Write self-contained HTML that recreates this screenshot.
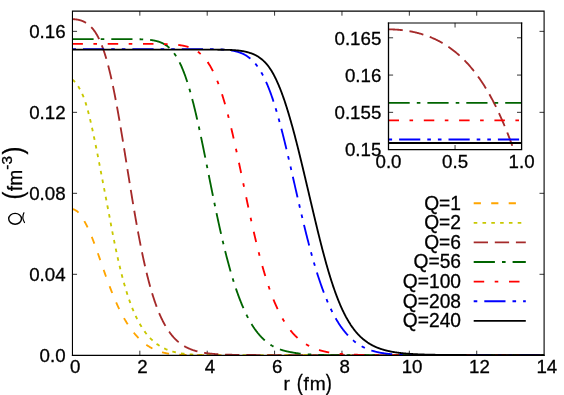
<!DOCTYPE html>
<html><head><meta charset="utf-8"><title>plot</title>
<style>html,body{margin:0;padding:0;background:#fff;}svg{display:block;}text{font-family:"Liberation Sans",sans-serif;fill:#000;stroke:#000;stroke-width:0.3px;}</style></head><body>
<div style="will-change:transform;width:564px;height:395px;overflow:hidden"><svg width="564" height="395" viewBox="0 0 564 395">
<rect width="564" height="395" fill="#fff"/>
<defs><clipPath id="cm"><rect x="72.45" y="11.1" width="471.65000000000003" height="344.2"/></clipPath>
<clipPath id="ci"><rect x="388.5" y="22.9" width="133.10000000000002" height="123.19999999999999"/></clipPath></defs>
<path d="M139.83,355.3 v-4.6 M139.83,11.1 v4.6 M207.21,355.3 v-4.6 M207.21,11.1 v4.6 M274.59,355.3 v-4.6 M274.59,11.1 v4.6 M341.96,355.3 v-4.6 M341.96,11.1 v4.6 M409.34,355.3 v-4.6 M409.34,11.1 v4.6 M476.72,355.3 v-4.6 M476.72,11.1 v4.6 M72.45,274.31 h4.6 M544.1,274.31 h-4.6 M72.45,193.32 h4.6 M544.1,193.32 h-4.6 M72.45,112.34 h4.6 M544.1,112.34 h-4.6 M72.45,31.35 h4.6 M544.1,31.35 h-4.6" stroke="#000" stroke-width="0.8" fill="none"/>
<g clip-path="url(#cm)" fill="none" stroke-linejoin="round">
<path d="M72.40,208.97 L72.74,209.06 L73.07,209.17 L73.41,209.29 L73.75,209.42 L74.09,209.56 L74.42,209.71 L74.76,209.87 L75.10,210.04 L75.44,210.22 L75.77,210.43 L76.11,210.65 L76.45,210.87 L76.79,211.11 L77.12,211.36 L77.46,211.62 L77.80,211.91 L78.14,212.23 L78.47,212.57 L78.81,212.95 L79.15,213.34 L79.49,213.74 L79.82,214.15 L80.16,214.58 L80.50,215.03 L80.84,215.48 L81.17,215.95 L81.51,216.43 L81.85,216.93 L82.18,217.44 L82.52,217.96 L82.86,218.51 L83.20,219.07 L83.53,219.65 L83.87,220.24 L84.21,220.84 L84.55,221.46 L84.88,222.08 L85.22,222.71 L85.56,223.35 L85.90,223.99 L86.23,224.63 L86.57,225.29 L86.91,225.96 L87.25,226.65 L87.58,227.34 L87.92,228.05 L88.26,228.77 L88.60,229.50 L88.93,230.24 L89.27,231.00 L89.61,231.77 L89.94,232.54 L90.28,233.33 L90.62,234.13 L90.96,234.94 L91.29,235.76 L91.63,236.59 L91.97,237.43 L92.31,238.28 L92.64,239.14 L92.98,240.00 L93.32,240.88 L93.66,241.76 L93.99,242.65 L94.33,243.55 L94.67,244.45 L95.01,245.36 L95.34,246.27 L95.68,247.20 L96.02,248.12 L96.36,249.06 L96.69,250.00 L97.03,250.94 L97.37,251.89 L97.71,252.84 L98.04,253.79 L98.38,254.75 L98.72,255.71 L99.05,256.67 L99.39,257.64 L99.73,258.61 L100.07,259.58 L100.40,260.55 L100.74,261.52 L101.08,262.49 L101.42,263.46 L101.75,264.44 L102.09,265.41 L102.43,266.38 L102.77,267.35 L103.10,268.31 L103.44,269.28 L103.78,270.24 L104.12,271.20 L104.45,272.16 L104.79,273.12 L105.13,274.07 L105.47,275.02 L105.80,275.96 L106.14,276.91 L106.48,277.84 L106.81,278.77 L107.15,279.70 L107.49,280.63 L107.83,281.54 L108.16,282.46 L108.50,283.36 L108.84,284.27 L109.18,285.16 L109.51,286.05 L109.85,286.94 L110.19,287.82 L110.53,288.70 L110.86,289.58 L111.20,290.44 L111.54,291.31 L111.88,292.16 L112.21,293.01 L112.55,293.85 L112.89,294.68 L113.23,295.51 L113.56,296.33 L113.90,297.14 L114.24,297.95 L114.58,298.75 L114.91,299.54 L115.25,300.33 L115.59,301.10 L115.92,301.87 L116.26,302.64 L116.60,303.39 L116.94,304.14 L117.27,304.88 L117.61,305.61 L117.95,306.34 L118.29,307.06 L118.62,307.77 L118.96,308.47 L119.30,309.17 L119.64,309.86 L119.97,310.54 L120.31,311.21 L120.65,311.88 L120.99,312.54 L121.32,313.19 L121.66,313.84 L122.00,314.48 L122.34,315.11 L122.67,315.74 L123.01,316.35 L123.35,316.96 L123.68,317.57 L124.02,318.16 L124.36,318.75 L124.70,319.34 L125.03,319.91 L125.37,320.48 L125.71,321.05 L126.05,321.60 L126.38,322.15 L126.72,322.70 L127.06,323.23 L127.40,323.76 L127.73,324.29 L128.07,324.81 L128.41,325.32 L128.75,325.82 L129.08,326.32 L129.42,326.82 L129.76,327.30 L130.10,327.78 L130.43,328.26 L130.77,328.73 L131.11,329.19 L131.44,329.65 L131.78,330.10 L132.12,330.55 L132.46,330.99 L132.79,331.42 L133.13,331.85 L133.47,332.28 L133.81,332.69 L134.14,333.11 L134.48,333.51 L134.82,333.92 L135.16,334.31 L135.49,334.71 L135.83,335.09 L136.17,335.47 L136.51,335.85 L136.84,336.22 L137.18,336.59 L137.52,336.95 L137.86,337.30 L138.19,337.65 L138.53,338.00 L138.87,338.34 L139.21,338.68 L139.54,339.01 L139.88,339.34 L140.22,339.66 L140.55,339.98 L140.89,340.29 L141.23,340.60 L141.57,340.91 L141.90,341.21 L142.24,341.50 L142.58,341.79 L142.92,342.08 L143.25,342.36 L143.59,342.64 L143.93,342.91 L144.27,343.18 L144.60,343.45 L144.94,343.71 L145.28,343.96 L145.62,344.22 L145.95,344.47 L146.29,344.71 L146.63,344.95 L146.97,345.19 L147.30,345.42 L147.64,345.65 L147.98,345.88 L148.31,346.10 L148.65,346.31 L148.99,346.53 L149.33,346.74 L149.66,346.94 L150.00,347.15 L150.34,347.35 L150.68,347.54 L151.01,347.73 L151.35,347.92 L151.69,348.11 L152.03,348.29 L152.36,348.47 L152.70,348.64 L153.04,348.81 L153.38,348.98 L153.71,349.14 L154.05,349.30 L154.39,349.46 L154.73,349.62 L155.06,349.77 L155.40,349.92 L155.74,350.06 L156.08,350.21 L156.41,350.35 L156.75,350.48 L157.09,350.62 L157.42,350.75 L157.76,350.87 L158.10,351.00 L158.44,351.12 L158.77,351.24 L159.11,351.36 L159.45,351.47 L159.79,351.58 L160.12,351.69 L160.46,351.80 L160.80,351.90 L161.14,352.00 L161.47,352.10 L161.81,352.20 L162.15,352.29 L162.49,352.38 L162.82,352.47 L163.16,352.56 L163.50,352.64 L163.84,352.72 L164.17,352.80 L164.51,352.88 L164.85,352.96 L165.19,353.03 L165.52,353.10 L165.86,353.17 L166.20,353.24 L166.53,353.31 L166.87,353.37 L167.21,353.43 L167.55,353.50 L167.88,353.55 L168.22,353.61 L168.56,353.67 L168.90,353.72 L169.23,353.77 L169.57,353.82 L169.91,353.87 L170.25,353.92 L170.58,353.96 L170.92,354.01 L171.26,354.05 L171.60,354.09 L171.93,354.13 L172.27,354.17 L172.61,354.21 L172.95,354.25 L173.28,354.28 L173.62,354.32 L173.96,354.35 L174.29,354.38 L174.63,354.41 L174.97,354.44 L175.31,354.47 L175.64,354.50 L175.98,354.52 L176.32,354.55 L176.66,354.57 L176.99,354.60 L177.33,354.62 L177.67,354.64 L178.01,354.66 L178.34,354.68 L178.68,354.70 L179.02,354.72 L179.36,354.74 L179.69,354.75 L180.03,354.77 L180.37,354.79 L180.71,354.80 L181.04,354.82 L181.38,354.83 L181.72,354.84 L182.06,354.86 L182.39,354.87 L182.73,354.88 L183.07,354.89 L183.40,354.90 L183.74,354.91 L184.08,354.92 L184.42,354.93 L184.75,354.94 L185.09,354.95 L185.43,354.96 L185.77,354.96 L186.10,354.97 L186.44,354.98 L186.78,354.98 L187.12,354.99 L187.45,355.00 L187.79,355.00 L188.13,355.01 L188.47,355.01 L188.80,355.02 L189.14,355.02 L189.48,355.03 L189.82,355.03 L190.15,355.04 L190.49,355.04 L190.83,355.04 L191.16,355.05 L191.50,355.05 L191.84,355.05 L192.18,355.06 L192.51,355.06 L192.85,355.06 L193.19,355.06 L193.53,355.07 L193.86,355.07 L194.20,355.07 L194.54,355.07 L194.88,355.07 L195.21,355.08 L195.55,355.08 L195.89,355.08 L196.23,355.08 L196.56,355.08 L196.90,355.08 L197.24,355.08 L197.58,355.08 L197.91,355.09 L198.25,355.09 L198.59,355.09 L198.93,355.09 L199.26,355.09 L199.60,355.09 L199.94,355.09 L200.27,355.09 L200.61,355.09 L200.95,355.09 L201.29,355.09 L201.62,355.09 L201.96,355.09 L202.30,355.09 L202.64,355.09 L202.97,355.10 L203.31,355.10 L203.65,355.10 L203.99,355.10 L204.32,355.10 L204.66,355.10 L205.00,355.10 L205.34,355.10 L205.67,355.10 L206.01,355.10 L206.35,355.10 L206.69,355.10 L207.02,355.10 L207.36,355.10 L207.70,355.10 L208.03,355.10 L208.37,355.10 L208.71,355.10 L209.05,355.10 L209.38,355.10 L209.72,355.10 L210.06,355.10 L210.40,355.10 L210.73,355.10 L211.07,355.10 L211.41,355.10 L211.75,355.10 L212.08,355.10 L212.42,355.10 L212.76,355.10 L213.10,355.10 L213.43,355.10 L213.77,355.10 L214.11,355.10 L214.45,355.10 L214.78,355.10 L215.12,355.10 L215.46,355.10 L215.80,355.10 L216.13,355.10 L216.47,355.10 L216.81,355.10 L217.14,355.10 L217.48,355.10 L217.82,355.10 L218.16,355.10 L218.49,355.10 L218.83,355.10 L219.17,355.10 L219.51,355.10 L219.84,355.10 L220.18,355.10 L220.52,355.10 L220.86,355.10 L221.19,355.10 L221.53,355.10 L221.87,355.10 L222.21,355.10 L222.54,355.10 L222.88,355.10 L223.22,355.10 L223.56,355.10 L223.89,355.10 L224.23,355.10 L224.57,355.10 L224.90,355.10 L225.24,355.10 L225.58,355.10 L225.92,355.10 L226.25,355.10 L226.59,355.10 L226.93,355.10 L227.27,355.10 L227.60,355.10 L227.94,355.10 L228.28,355.10 L228.62,355.10 L228.95,355.10 L229.29,355.10 L229.63,355.10 L229.97,355.10 L230.30,355.10 L230.64,355.10 L230.98,355.10 L231.32,355.10 L231.65,355.10 L231.99,355.10 L232.33,355.10 L232.67,355.10 L233.00,355.10 L233.34,355.10 L233.68,355.10 L234.01,355.10 L234.35,355.10 L234.69,355.10 L235.03,355.10 L235.36,355.10 L235.70,355.10 L236.04,355.10 L236.38,355.10 L236.71,355.10 L237.05,355.10 L237.39,355.10 L237.73,355.10 L238.06,355.10 L238.40,355.10 L238.74,355.10 L239.08,355.10 L239.41,355.10 L239.75,355.10 L240.09,355.10 L240.43,355.10 L240.76,355.10 L241.10,355.10 L241.44,355.10 L241.77,355.10 L242.11,355.10 L242.45,355.10 L242.79,355.10 L243.12,355.10 L243.46,355.10 L243.80,355.10 L244.14,355.10 L244.47,355.10 L244.81,355.10 L245.15,355.10 L245.49,355.10 L245.82,355.10 L246.16,355.10 L246.50,355.10 L246.84,355.10 L247.17,355.10 L247.51,355.10 L247.85,355.10 L248.19,355.10 L248.52,355.10 L248.86,355.10 L249.20,355.10 L249.54,355.10 L249.87,355.10 L250.21,355.10 L250.55,355.10 L250.88,355.10 L251.22,355.10 L251.56,355.10 L251.90,355.10 L252.23,355.10 L252.57,355.10 L252.91,355.10 L253.25,355.10 L253.58,355.10 L253.92,355.10 L254.26,355.10 L254.60,355.10 L254.93,355.10 L255.27,355.10 L255.61,355.10 L255.95,355.10 L256.28,355.10 L256.62,355.10 L256.96,355.10 L257.30,355.10 L257.63,355.10 L257.97,355.10 L258.31,355.10 L258.64,355.10 L258.98,355.10 L259.32,355.10 L259.66,355.10 L259.99,355.10 L260.33,355.10 L260.67,355.10 L261.01,355.10 L261.34,355.10 L261.68,355.10 L262.02,355.10 L262.36,355.10 L262.69,355.10 L263.03,355.10 L263.37,355.10 L263.71,355.10 L264.04,355.10 L264.38,355.10 L264.72,355.10 L265.06,355.10 L265.39,355.10 L265.73,355.10 L266.07,355.10 L266.41,355.10 L266.74,355.10 L267.08,355.10 L267.42,355.10 L267.75,355.10 L268.09,355.10 L268.43,355.10 L268.77,355.10 L269.10,355.10 L269.44,355.10 L269.78,355.10 L270.12,355.10 L270.45,355.10 L270.79,355.10 L271.13,355.10 L271.47,355.10 L271.80,355.10 L272.14,355.10 L272.48,355.10 L272.82,355.10 L273.15,355.10 L273.49,355.10 L273.83,355.10 L274.17,355.10 L274.50,355.10 L274.84,355.10 L275.18,355.10 L275.51,355.10 L275.85,355.10 L276.19,355.10 L276.53,355.10 L276.86,355.10 L277.20,355.10 L277.54,355.10 L277.88,355.10 L278.21,355.10 L278.55,355.10 L278.89,355.10 L279.23,355.10 L279.56,355.10 L279.90,355.10 L280.24,355.10 L280.58,355.10 L280.91,355.10 L281.25,355.10 L281.59,355.10 L281.93,355.10 L282.26,355.10 L282.60,355.10 L282.94,355.10 L283.27,355.10 L283.61,355.10 L283.95,355.10 L284.29,355.10 L284.62,355.10 L284.96,355.10 L285.30,355.10 L285.64,355.10 L285.97,355.10 L286.31,355.10 L286.65,355.10 L286.99,355.10 L287.32,355.10 L287.66,355.10 L288.00,355.10 L288.34,355.10 L288.67,355.10 L289.01,355.10 L289.35,355.10 L289.69,355.10 L290.02,355.10 L290.36,355.10 L290.70,355.10 L291.04,355.10 L291.37,355.10 L291.71,355.10 L292.05,355.10 L292.38,355.10 L292.72,355.10 L293.06,355.10 L293.40,355.10 L293.73,355.10 L294.07,355.10 L294.41,355.10 L294.75,355.10 L295.08,355.10 L295.42,355.10 L295.76,355.10 L296.10,355.10 L296.43,355.10 L296.77,355.10 L297.11,355.10 L297.45,355.10 L297.78,355.10 L298.12,355.10 L298.46,355.10 L298.80,355.10 L299.13,355.10 L299.47,355.10 L299.81,355.10 L300.14,355.10 L300.48,355.10 L300.82,355.10 L301.16,355.10 L301.49,355.10 L301.83,355.10 L302.17,355.10 L302.51,355.10 L302.84,355.10 L303.18,355.10 L303.52,355.10 L303.86,355.10 L304.19,355.10 L304.53,355.10 L304.87,355.10 L305.21,355.10 L305.54,355.10 L305.88,355.10 L306.22,355.10 L306.56,355.10 L306.89,355.10 L307.23,355.10 L307.57,355.10 L307.91,355.10 L308.24,355.10 L308.58,355.10 L308.92,355.10 L309.25,355.10 L309.59,355.10 L309.93,355.10 L310.27,355.10 L310.60,355.10 L310.94,355.10 L311.28,355.10 L311.62,355.10 L311.95,355.10 L312.29,355.10 L312.63,355.10 L312.97,355.10 L313.30,355.10 L313.64,355.10 L313.98,355.10 L314.32,355.10 L314.65,355.10 L314.99,355.10 L315.33,355.10 L315.67,355.10 L316.00,355.10 L316.34,355.10 L316.68,355.10 L317.01,355.10 L317.35,355.10 L317.69,355.10 L318.03,355.10 L318.36,355.10 L318.70,355.10 L319.04,355.10 L319.38,355.10 L319.71,355.10 L320.05,355.10 L320.39,355.10 L320.73,355.10 L321.06,355.10 L321.40,355.10 L321.74,355.10 L322.08,355.10 L322.41,355.10 L322.75,355.10 L323.09,355.10 L323.43,355.10 L323.76,355.10 L324.10,355.10 L324.44,355.10 L324.78,355.10 L325.11,355.10 L325.45,355.10 L325.79,355.10 L326.12,355.10 L326.46,355.10 L326.80,355.10 L327.14,355.10 L327.47,355.10 L327.81,355.10 L328.15,355.10 L328.49,355.10 L328.82,355.10 L329.16,355.10 L329.50,355.10 L329.84,355.10 L330.17,355.10 L330.51,355.10 L330.85,355.10 L331.19,355.10 L331.52,355.10 L331.86,355.10 L332.20,355.10 L332.54,355.10 L332.87,355.10 L333.21,355.10 L333.55,355.10 L333.88,355.10 L334.22,355.10 L334.56,355.10 L334.90,355.10 L335.23,355.10 L335.57,355.10 L335.91,355.10 L336.25,355.10 L336.58,355.10 L336.92,355.10 L337.26,355.10 L337.60,355.10 L337.93,355.10 L338.27,355.10 L338.61,355.10 L338.95,355.10 L339.28,355.10 L339.62,355.10 L339.96,355.10 L340.30,355.10 L340.63,355.10 L340.97,355.10 L341.31,355.10 L341.65,355.10 L341.98,355.10 L342.32,355.10 L342.66,355.10 L342.99,355.10 L343.33,355.10 L343.67,355.10 L344.01,355.10 L344.34,355.10 L344.68,355.10 L345.02,355.10 L345.36,355.10 L345.69,355.10 L346.03,355.10 L346.37,355.10 L346.71,355.10 L347.04,355.10 L347.38,355.10 L347.72,355.10 L348.06,355.10 L348.39,355.10 L348.73,355.10 L349.07,355.10 L349.41,355.10 L349.74,355.10 L350.08,355.10 L350.42,355.10 L350.75,355.10 L351.09,355.10 L351.43,355.10 L351.77,355.10 L352.10,355.10 L352.44,355.10 L352.78,355.10 L353.12,355.10 L353.45,355.10 L353.79,355.10 L354.13,355.10 L354.47,355.10 L354.80,355.10 L355.14,355.10 L355.48,355.10 L355.82,355.10 L356.15,355.10 L356.49,355.10 L356.83,355.10 L357.17,355.10 L357.50,355.10 L357.84,355.10 L358.18,355.10 L358.52,355.10 L358.85,355.10 L359.19,355.10 L359.53,355.10 L359.86,355.10 L360.20,355.10 L360.54,355.10 L360.88,355.10 L361.21,355.10 L361.55,355.10 L361.89,355.10 L362.23,355.10 L362.56,355.10 L362.90,355.10 L363.24,355.10 L363.58,355.10 L363.91,355.10 L364.25,355.10 L364.59,355.10 L364.93,355.10 L365.26,355.10 L365.60,355.10 L365.94,355.10 L366.28,355.10 L366.61,355.10 L366.95,355.10 L367.29,355.10 L367.62,355.10 L367.96,355.10 L368.30,355.10 L368.64,355.10 L368.97,355.10 L369.31,355.10 L369.65,355.10 L369.99,355.10 L370.32,355.10 L370.66,355.10 L371.00,355.10 L371.34,355.10 L371.67,355.10 L372.01,355.10 L372.35,355.10 L372.69,355.10 L373.02,355.10 L373.36,355.10 L373.70,355.10 L374.04,355.10 L374.37,355.10 L374.71,355.10 L375.05,355.10 L375.39,355.10 L375.72,355.10 L376.06,355.10 L376.40,355.10 L376.73,355.10 L377.07,355.10 L377.41,355.10 L377.75,355.10 L378.08,355.10 L378.42,355.10 L378.76,355.10 L379.10,355.10 L379.43,355.10 L379.77,355.10 L380.11,355.10 L380.45,355.10 L380.78,355.10 L381.12,355.10 L381.46,355.10 L381.80,355.10 L382.13,355.10 L382.47,355.10 L382.81,355.10 L383.15,355.10 L383.48,355.10 L383.82,355.10 L384.16,355.10 L384.50,355.10 L384.83,355.10 L385.17,355.10 L385.51,355.10 L385.84,355.10 L386.18,355.10 L386.52,355.10 L386.86,355.10 L387.19,355.10 L387.53,355.10 L387.87,355.10 L388.21,355.10 L388.54,355.10 L388.88,355.10 L389.22,355.10 L389.56,355.10 L389.89,355.10 L390.23,355.10 L390.57,355.10 L390.91,355.10 L391.24,355.10 L391.58,355.10 L391.92,355.10 L392.26,355.10 L392.59,355.10 L392.93,355.10 L393.27,355.10 L393.60,355.10 L393.94,355.10 L394.28,355.10 L394.62,355.10 L394.95,355.10 L395.29,355.10 L395.63,355.10 L395.97,355.10 L396.30,355.10 L396.64,355.10 L396.98,355.10 L397.32,355.10 L397.65,355.10 L397.99,355.10 L398.33,355.10 L398.67,355.10 L399.00,355.10 L399.34,355.10 L399.68,355.10 L400.02,355.10 L400.35,355.10 L400.69,355.10 L401.03,355.10 L401.37,355.10 L401.70,355.10 L402.04,355.10 L402.38,355.10 L402.71,355.10 L403.05,355.10 L403.39,355.10 L403.73,355.10 L404.06,355.10 L404.40,355.10 L404.74,355.10 L405.08,355.10 L405.41,355.10 L405.75,355.10 L406.09,355.10 L406.43,355.10 L406.76,355.10 L407.10,355.10 L407.44,355.10 L407.78,355.10 L408.11,355.10 L408.45,355.10 L408.79,355.10 L409.13,355.10 L409.46,355.10 L409.80,355.10 L410.14,355.10 L410.47,355.10 L410.81,355.10 L411.15,355.10 L411.49,355.10 L411.82,355.10 L412.16,355.10 L412.50,355.10 L412.84,355.10 L413.17,355.10 L413.51,355.10 L413.85,355.10 L414.19,355.10 L414.52,355.10 L414.86,355.10 L415.20,355.10 L415.54,355.10 L415.87,355.10 L416.21,355.10 L416.55,355.10 L416.89,355.10 L417.22,355.10 L417.56,355.10 L417.90,355.10 L418.24,355.10 L418.57,355.10 L418.91,355.10 L419.25,355.10 L419.58,355.10 L419.92,355.10 L420.26,355.10 L420.60,355.10 L420.93,355.10 L421.27,355.10 L421.61,355.10 L421.95,355.10 L422.28,355.10 L422.62,355.10 L422.96,355.10 L423.30,355.10 L423.63,355.10 L423.97,355.10 L424.31,355.10 L424.65,355.10 L424.98,355.10 L425.32,355.10 L425.66,355.10 L426.00,355.10 L426.33,355.10 L426.67,355.10 L427.01,355.10 L427.34,355.10 L427.68,355.10 L428.02,355.10 L428.36,355.10 L428.69,355.10 L429.03,355.10 L429.37,355.10 L429.71,355.10 L430.04,355.10 L430.38,355.10 L430.72,355.10 L431.06,355.10 L431.39,355.10 L431.73,355.10 L432.07,355.10 L432.41,355.10 L432.74,355.10 L433.08,355.10 L433.42,355.10 L433.76,355.10 L434.09,355.10 L434.43,355.10 L434.77,355.10 L435.11,355.10 L435.44,355.10 L435.78,355.10 L436.12,355.10 L436.45,355.10 L436.79,355.10 L437.13,355.10 L437.47,355.10 L437.80,355.10 L438.14,355.10 L438.48,355.10 L438.82,355.10 L439.15,355.10 L439.49,355.10 L439.83,355.10 L440.17,355.10 L440.50,355.10 L440.84,355.10 L441.18,355.10 L441.52,355.10 L441.85,355.10 L442.19,355.10 L442.53,355.10 L442.87,355.10 L443.20,355.10 L443.54,355.10 L443.88,355.10 L444.21,355.10 L444.55,355.10 L444.89,355.10 L445.23,355.10 L445.56,355.10 L445.90,355.10 L446.24,355.10 L446.58,355.10 L446.91,355.10 L447.25,355.10 L447.59,355.10 L447.93,355.10 L448.26,355.10 L448.60,355.10 L448.94,355.10 L449.28,355.10 L449.61,355.10 L449.95,355.10 L450.29,355.10 L450.63,355.10 L450.96,355.10 L451.30,355.10 L451.64,355.10 L451.98,355.10 L452.31,355.10 L452.65,355.10 L452.99,355.10 L453.32,355.10 L453.66,355.10 L454.00,355.10 L454.34,355.10 L454.67,355.10 L455.01,355.10 L455.35,355.10 L455.69,355.10 L456.02,355.10 L456.36,355.10 L456.70,355.10 L457.04,355.10 L457.37,355.10 L457.71,355.10 L458.05,355.10 L458.39,355.10 L458.72,355.10 L459.06,355.10 L459.40,355.10 L459.74,355.10 L460.07,355.10 L460.41,355.10 L460.75,355.10 L461.08,355.10 L461.42,355.10 L461.76,355.10 L462.10,355.10 L462.43,355.10 L462.77,355.10 L463.11,355.10 L463.45,355.10 L463.78,355.10 L464.12,355.10 L464.46,355.10 L464.80,355.10 L465.13,355.10 L465.47,355.10 L465.81,355.10 L466.15,355.10 L466.48,355.10 L466.82,355.10 L467.16,355.10 L467.50,355.10 L467.83,355.10 L468.17,355.10 L468.51,355.10 L468.85,355.10 L469.18,355.10 L469.52,355.10 L469.86,355.10 L470.19,355.10 L470.53,355.10 L470.87,355.10 L471.21,355.10 L471.54,355.10 L471.88,355.10 L472.22,355.10 L472.56,355.10 L472.89,355.10 L473.23,355.10 L473.57,355.10 L473.91,355.10 L474.24,355.10 L474.58,355.10 L474.92,355.10 L475.26,355.10 L475.59,355.10 L475.93,355.10 L476.27,355.10 L476.61,355.10 L476.94,355.10 L477.28,355.10 L477.62,355.10 L477.95,355.10 L478.29,355.10 L478.63,355.10 L478.97,355.10 L479.30,355.10 L479.64,355.10 L479.98,355.10 L480.32,355.10 L480.65,355.10 L480.99,355.10 L481.33,355.10 L481.67,355.10 L482.00,355.10 L482.34,355.10 L482.68,355.10 L483.02,355.10 L483.35,355.10 L483.69,355.10 L484.03,355.10 L484.37,355.10 L484.70,355.10 L485.04,355.10 L485.38,355.10 L485.72,355.10 L486.05,355.10 L486.39,355.10 L486.73,355.10 L487.06,355.10 L487.40,355.10 L487.74,355.10 L488.08,355.10 L488.41,355.10 L488.75,355.10 L489.09,355.10 L489.43,355.10 L489.76,355.10 L490.10,355.10 L490.44,355.10 L490.78,355.10 L491.11,355.10 L491.45,355.10 L491.79,355.10 L492.13,355.10 L492.46,355.10 L492.80,355.10 L493.14,355.10 L493.48,355.10 L493.81,355.10 L494.15,355.10 L494.49,355.10 L494.82,355.10 L495.16,355.10 L495.50,355.10 L495.84,355.10 L496.17,355.10 L496.51,355.10 L496.85,355.10 L497.19,355.10 L497.52,355.10 L497.86,355.10 L498.20,355.10 L498.54,355.10 L498.87,355.10 L499.21,355.10 L499.55,355.10 L499.89,355.10 L500.22,355.10 L500.56,355.10 L500.90,355.10 L501.24,355.10 L501.57,355.10 L501.91,355.10 L502.25,355.10 L502.59,355.10 L502.92,355.10 L503.26,355.10 L503.60,355.10 L503.93,355.10 L504.27,355.10 L504.61,355.10 L504.95,355.10 L505.28,355.10 L505.62,355.10 L505.96,355.10 L506.30,355.10 L506.63,355.10 L506.97,355.10 L507.31,355.10 L507.65,355.10 L507.98,355.10 L508.32,355.10 L508.66,355.10 L509.00,355.10 L509.33,355.10 L509.67,355.10 L510.01,355.10 L510.35,355.10 L510.68,355.10 L511.02,355.10 L511.36,355.10 L511.69,355.10 L512.03,355.10 L512.37,355.10 L512.71,355.10 L513.04,355.10 L513.38,355.10 L513.72,355.10 L514.06,355.10 L514.39,355.10 L514.73,355.10 L515.07,355.10 L515.41,355.10 L515.74,355.10 L516.08,355.10 L516.42,355.10 L516.76,355.10 L517.09,355.10 L517.43,355.10 L517.77,355.10 L518.11,355.10 L518.44,355.10 L518.78,355.10 L519.12,355.10 L519.46,355.10 L519.79,355.10 L520.13,355.10 L520.47,355.10 L520.80,355.10 L521.14,355.10 L521.48,355.10 L521.82,355.10 L522.15,355.10 L522.49,355.10 L522.83,355.10 L523.17,355.10 L523.50,355.10 L523.84,355.10 L524.18,355.10 L524.52,355.10 L524.85,355.10 L525.19,355.10 L525.53,355.10 L525.87,355.10 L526.20,355.10 L526.54,355.10 L526.88,355.10 L527.22,355.10 L527.55,355.10 L527.89,355.10 L528.23,355.10 L528.56,355.10 L528.90,355.10 L529.24,355.10 L529.58,355.10 L529.91,355.10 L530.25,355.10 L530.59,355.10 L530.93,355.10 L531.26,355.10 L531.60,355.10 L531.94,355.10 L532.28,355.10 L532.61,355.10 L532.95,355.10 L533.29,355.10 L533.63,355.10 L533.96,355.10 L534.30,355.10 L534.64,355.10 L534.98,355.10 L535.31,355.10 L535.65,355.10 L535.99,355.10 L536.33,355.10 L536.66,355.10 L537.00,355.10 L537.34,355.10 L537.67,355.10 L538.01,355.10 L538.35,355.10 L538.69,355.10 L539.02,355.10 L539.36,355.10 L539.70,355.10 L540.04,355.10 L540.37,355.10 L540.71,355.10 L541.05,355.10 L541.39,355.10 L541.72,355.10 L542.06,355.10 L542.40,355.10 L542.74,355.10 L543.07,355.10 L543.41,355.10 L543.75,355.10 L544.09,355.10 L544.42,355.10 L544.76,355.10" stroke="#ffa500" stroke-width="1.85" stroke-dasharray="7.2 10.3" stroke-dashoffset="0"/>
<path d="M72.40,79.54 L72.74,79.83 L73.07,80.13 L73.41,80.45 L73.75,80.78 L74.09,81.12 L74.42,81.47 L74.76,81.83 L75.10,82.21 L75.44,82.60 L75.77,83.01 L76.11,83.43 L76.45,83.86 L76.79,84.31 L77.12,84.78 L77.46,85.26 L77.80,85.76 L78.14,86.27 L78.47,86.80 L78.81,87.35 L79.15,87.91 L79.49,88.49 L79.82,89.09 L80.16,89.71 L80.50,90.35 L80.84,91.01 L81.17,91.68 L81.51,92.38 L81.85,93.10 L82.18,93.83 L82.52,94.59 L82.86,95.37 L83.20,96.17 L83.53,96.99 L83.87,97.83 L84.21,98.70 L84.55,99.58 L84.87,100.49 L85.18,101.43 L85.48,102.38 L85.79,103.36 L86.10,104.36 L86.40,105.39 L86.71,106.43 L87.02,107.51 L87.32,108.60 L87.63,109.72 L87.94,110.86 L88.25,112.03 L88.56,113.22 L88.87,114.43 L89.18,115.67 L89.49,116.93 L89.81,118.22 L90.13,119.52 L90.44,120.85 L90.76,122.21 L91.08,123.59 L91.40,124.98 L91.72,126.41 L92.03,127.85 L92.35,129.32 L92.67,130.80 L93.00,132.31 L93.32,133.84 L93.65,135.39 L93.98,136.96 L94.31,138.55 L94.64,140.16 L94.98,141.78 L95.32,143.43 L95.66,145.09 L96.00,146.77 L96.35,148.46 L96.69,150.18 L97.03,151.90 L97.38,153.65 L97.73,155.40 L98.07,157.17 L98.42,158.95 L98.77,160.75 L99.11,162.56 L99.46,164.37 L99.81,166.20 L100.16,168.04 L100.52,169.88 L100.88,171.74 L101.23,173.60 L101.60,175.46 L101.96,177.34 L102.32,179.22 L102.68,181.10 L103.05,182.98 L103.41,184.87 L103.77,186.77 L104.14,188.66 L104.50,190.55 L104.86,192.45 L105.22,194.34 L105.58,196.23 L105.94,198.12 L106.30,200.01 L106.66,201.90 L107.02,203.78 L107.38,205.65 L107.74,207.52 L108.10,209.39 L108.46,211.25 L108.82,213.10 L109.18,214.94 L109.51,216.78 L109.85,218.61 L110.19,220.43 L110.53,222.24 L110.86,224.04 L111.20,225.83 L111.54,227.61 L111.88,229.37 L112.21,231.13 L112.55,232.87 L112.89,234.60 L113.23,236.32 L113.56,238.02 L113.90,239.71 L114.24,241.39 L114.58,243.05 L114.91,244.70 L115.25,246.33 L115.59,247.95 L115.92,249.56 L116.26,251.15 L116.60,252.72 L116.94,254.28 L117.27,255.82 L117.61,257.34 L117.95,258.85 L118.29,260.35 L118.62,261.82 L118.96,263.29 L119.30,264.73 L119.64,266.16 L119.97,267.57 L120.31,268.96 L120.65,270.34 L120.99,271.70 L121.32,273.05 L121.66,274.38 L122.00,275.69 L122.34,276.98 L122.67,278.26 L123.01,279.52 L123.35,280.77 L123.68,282.00 L124.02,283.21 L124.36,284.41 L124.70,285.59 L125.03,286.75 L125.37,287.90 L125.71,289.04 L126.05,290.15 L126.38,291.25 L126.72,292.34 L127.06,293.41 L127.40,294.47 L127.73,295.51 L128.07,296.53 L128.41,297.54 L128.75,298.54 L129.08,299.52 L129.42,300.48 L129.76,301.43 L130.10,302.37 L130.43,303.30 L130.77,304.21 L131.11,305.10 L131.44,305.98 L131.78,306.85 L132.12,307.71 L132.46,308.55 L132.79,309.38 L133.13,310.20 L133.47,311.00 L133.81,311.79 L134.14,312.57 L134.48,313.34 L134.82,314.09 L135.16,314.84 L135.49,315.57 L135.83,316.29 L136.17,317.00 L136.51,317.69 L136.84,318.38 L137.18,319.05 L137.52,319.72 L137.86,320.37 L138.19,321.01 L138.53,321.65 L138.87,322.27 L139.21,322.88 L139.54,323.48 L139.88,324.08 L140.22,324.66 L140.55,325.23 L140.89,325.80 L141.23,326.35 L141.57,326.90 L141.90,327.43 L142.24,327.96 L142.58,328.48 L142.92,328.99 L143.25,329.49 L143.59,329.99 L143.93,330.47 L144.27,330.95 L144.60,331.42 L144.94,331.88 L145.28,332.33 L145.62,332.78 L145.95,333.22 L146.29,333.65 L146.63,334.07 L146.97,334.49 L147.30,334.90 L147.64,335.30 L147.98,335.70 L148.31,336.09 L148.65,336.47 L148.99,336.84 L149.33,337.21 L149.66,337.58 L150.00,337.93 L150.34,338.28 L150.68,338.63 L151.01,338.97 L151.35,339.30 L151.69,339.63 L152.03,339.95 L152.36,340.26 L152.70,340.57 L153.04,340.88 L153.38,341.18 L153.71,341.47 L154.05,341.76 L154.39,342.04 L154.73,342.32 L155.06,342.59 L155.40,342.86 L155.74,343.13 L156.08,343.39 L156.41,343.64 L156.75,343.89 L157.09,344.14 L157.42,344.38 L157.76,344.61 L158.10,344.84 L158.44,345.07 L158.77,345.30 L159.11,345.52 L159.45,345.73 L159.79,345.94 L160.12,346.15 L160.46,346.35 L160.80,346.55 L161.14,346.75 L161.47,346.94 L161.81,347.13 L162.15,347.31 L162.49,347.50 L162.82,347.67 L163.16,347.85 L163.50,348.02 L163.84,348.19 L164.17,348.35 L164.51,348.51 L164.85,348.67 L165.19,348.83 L165.52,348.98 L165.86,349.13 L166.20,349.27 L166.53,349.42 L166.87,349.56 L167.21,349.69 L167.55,349.83 L167.88,349.96 L168.22,350.09 L168.56,350.21 L168.90,350.34 L169.23,350.46 L169.57,350.58 L169.91,350.69 L170.25,350.81 L170.58,350.92 L170.92,351.03 L171.26,351.13 L171.60,351.24 L171.93,351.34 L172.27,351.44 L172.61,351.54 L172.95,351.63 L173.28,351.73 L173.62,351.82 L173.96,351.91 L174.29,351.99 L174.63,352.08 L174.97,352.16 L175.31,352.24 L175.64,352.32 L175.98,352.40 L176.32,352.48 L176.66,352.55 L176.99,352.62 L177.33,352.69 L177.67,352.76 L178.01,352.83 L178.34,352.90 L178.68,352.96 L179.02,353.02 L179.36,353.08 L179.69,353.14 L180.03,353.20 L180.37,353.26 L180.71,353.31 L181.04,353.37 L181.38,353.42 L181.72,353.47 L182.06,353.52 L182.39,353.57 L182.73,353.62 L183.07,353.66 L183.40,353.71 L183.74,353.75 L184.08,353.79 L184.42,353.84 L184.75,353.88 L185.09,353.92 L185.43,353.95 L185.77,353.99 L186.10,354.03 L186.44,354.06 L186.78,354.10 L187.12,354.13 L187.45,354.16 L187.79,354.19 L188.13,354.22 L188.47,354.25 L188.80,354.28 L189.14,354.31 L189.48,354.34 L189.82,354.36 L190.15,354.39 L190.49,354.41 L190.83,354.44 L191.16,354.46 L191.50,354.48 L191.84,354.51 L192.18,354.53 L192.51,354.55 L192.85,354.57 L193.19,354.59 L193.53,354.61 L193.86,354.62 L194.20,354.64 L194.54,354.66 L194.88,354.68 L195.21,354.69 L195.55,354.71 L195.89,354.72 L196.23,354.74 L196.56,354.75 L196.90,354.76 L197.24,354.78 L197.58,354.79 L197.91,354.80 L198.25,354.81 L198.59,354.82 L198.93,354.84 L199.26,354.85 L199.60,354.86 L199.94,354.87 L200.27,354.88 L200.61,354.88 L200.95,354.89 L201.29,354.90 L201.62,354.91 L201.96,354.92 L202.30,354.93 L202.64,354.93 L202.97,354.94 L203.31,354.95 L203.65,354.95 L203.99,354.96 L204.32,354.97 L204.66,354.97 L205.00,354.98 L205.34,354.98 L205.67,354.99 L206.01,354.99 L206.35,355.00 L206.69,355.00 L207.02,355.01 L207.36,355.01 L207.70,355.02 L208.03,355.02 L208.37,355.02 L208.71,355.03 L209.05,355.03 L209.38,355.03 L209.72,355.04 L210.06,355.04 L210.40,355.04 L210.73,355.04 L211.07,355.05 L211.41,355.05 L211.75,355.05 L212.08,355.05 L212.42,355.06 L212.76,355.06 L213.10,355.06 L213.43,355.06 L213.77,355.07 L214.11,355.07 L214.45,355.07 L214.78,355.07 L215.12,355.07 L215.46,355.07 L215.80,355.07 L216.13,355.08 L216.47,355.08 L216.81,355.08 L217.14,355.08 L217.48,355.08 L217.82,355.08 L218.16,355.08 L218.49,355.08 L218.83,355.08 L219.17,355.09 L219.51,355.09 L219.84,355.09 L220.18,355.09 L220.52,355.09 L220.86,355.09 L221.19,355.09 L221.53,355.09 L221.87,355.09 L222.21,355.09 L222.54,355.09 L222.88,355.09 L223.22,355.09 L223.56,355.09 L223.89,355.09 L224.23,355.09 L224.57,355.09 L224.90,355.09 L225.24,355.09 L225.58,355.10 L225.92,355.10 L226.25,355.10 L226.59,355.10 L226.93,355.10 L227.27,355.10 L227.60,355.10 L227.94,355.10 L228.28,355.10 L228.62,355.10 L228.95,355.10 L229.29,355.10 L229.63,355.10 L229.97,355.10 L230.30,355.10 L230.64,355.10 L230.98,355.10 L231.32,355.10 L231.65,355.10 L231.99,355.10 L232.33,355.10 L232.67,355.10 L233.00,355.10 L233.34,355.10 L233.68,355.10 L234.01,355.10 L234.35,355.10 L234.69,355.10 L235.03,355.10 L235.36,355.10 L235.70,355.10 L236.04,355.10 L236.38,355.10 L236.71,355.10 L237.05,355.10 L237.39,355.10 L237.73,355.10 L238.06,355.10 L238.40,355.10 L238.74,355.10 L239.08,355.10 L239.41,355.10 L239.75,355.10 L240.09,355.10 L240.43,355.10 L240.76,355.10 L241.10,355.10 L241.44,355.10 L241.77,355.10 L242.11,355.10 L242.45,355.10 L242.79,355.10 L243.12,355.10 L243.46,355.10 L243.80,355.10 L244.14,355.10 L244.47,355.10 L244.81,355.10 L245.15,355.10 L245.49,355.10 L245.82,355.10 L246.16,355.10 L246.50,355.10 L246.84,355.10 L247.17,355.10 L247.51,355.10 L247.85,355.10 L248.19,355.10 L248.52,355.10 L248.86,355.10 L249.20,355.10 L249.54,355.10 L249.87,355.10 L250.21,355.10 L250.55,355.10 L250.88,355.10 L251.22,355.10 L251.56,355.10 L251.90,355.10 L252.23,355.10 L252.57,355.10 L252.91,355.10 L253.25,355.10 L253.58,355.10 L253.92,355.10 L254.26,355.10 L254.60,355.10 L254.93,355.10 L255.27,355.10 L255.61,355.10 L255.95,355.10 L256.28,355.10 L256.62,355.10 L256.96,355.10 L257.30,355.10 L257.63,355.10 L257.97,355.10 L258.31,355.10 L258.64,355.10 L258.98,355.10 L259.32,355.10 L259.66,355.10 L259.99,355.10 L260.33,355.10 L260.67,355.10 L261.01,355.10 L261.34,355.10 L261.68,355.10 L262.02,355.10 L262.36,355.10 L262.69,355.10 L263.03,355.10 L263.37,355.10 L263.71,355.10 L264.04,355.10 L264.38,355.10 L264.72,355.10 L265.06,355.10 L265.39,355.10 L265.73,355.10 L266.07,355.10 L266.41,355.10 L266.74,355.10 L267.08,355.10 L267.42,355.10 L267.75,355.10 L268.09,355.10 L268.43,355.10 L268.77,355.10 L269.10,355.10 L269.44,355.10 L269.78,355.10 L270.12,355.10 L270.45,355.10 L270.79,355.10 L271.13,355.10 L271.47,355.10 L271.80,355.10 L272.14,355.10 L272.48,355.10 L272.82,355.10 L273.15,355.10 L273.49,355.10 L273.83,355.10 L274.17,355.10 L274.50,355.10 L274.84,355.10 L275.18,355.10 L275.51,355.10 L275.85,355.10 L276.19,355.10 L276.53,355.10 L276.86,355.10 L277.20,355.10 L277.54,355.10 L277.88,355.10 L278.21,355.10 L278.55,355.10 L278.89,355.10 L279.23,355.10 L279.56,355.10 L279.90,355.10 L280.24,355.10 L280.58,355.10 L280.91,355.10 L281.25,355.10 L281.59,355.10 L281.93,355.10 L282.26,355.10 L282.60,355.10 L282.94,355.10 L283.27,355.10 L283.61,355.10 L283.95,355.10 L284.29,355.10 L284.62,355.10 L284.96,355.10 L285.30,355.10 L285.64,355.10 L285.97,355.10 L286.31,355.10 L286.65,355.10 L286.99,355.10 L287.32,355.10 L287.66,355.10 L288.00,355.10 L288.34,355.10 L288.67,355.10 L289.01,355.10 L289.35,355.10 L289.69,355.10 L290.02,355.10 L290.36,355.10 L290.70,355.10 L291.04,355.10 L291.37,355.10 L291.71,355.10 L292.05,355.10 L292.38,355.10 L292.72,355.10 L293.06,355.10 L293.40,355.10 L293.73,355.10 L294.07,355.10 L294.41,355.10 L294.75,355.10 L295.08,355.10 L295.42,355.10 L295.76,355.10 L296.10,355.10 L296.43,355.10 L296.77,355.10 L297.11,355.10 L297.45,355.10 L297.78,355.10 L298.12,355.10 L298.46,355.10 L298.80,355.10 L299.13,355.10 L299.47,355.10 L299.81,355.10 L300.14,355.10 L300.48,355.10 L300.82,355.10 L301.16,355.10 L301.49,355.10 L301.83,355.10 L302.17,355.10 L302.51,355.10 L302.84,355.10 L303.18,355.10 L303.52,355.10 L303.86,355.10 L304.19,355.10 L304.53,355.10 L304.87,355.10 L305.21,355.10 L305.54,355.10 L305.88,355.10 L306.22,355.10 L306.56,355.10 L306.89,355.10 L307.23,355.10 L307.57,355.10 L307.91,355.10 L308.24,355.10 L308.58,355.10 L308.92,355.10 L309.25,355.10 L309.59,355.10 L309.93,355.10 L310.27,355.10 L310.60,355.10 L310.94,355.10 L311.28,355.10 L311.62,355.10 L311.95,355.10 L312.29,355.10 L312.63,355.10 L312.97,355.10 L313.30,355.10 L313.64,355.10 L313.98,355.10 L314.32,355.10 L314.65,355.10 L314.99,355.10 L315.33,355.10 L315.67,355.10 L316.00,355.10 L316.34,355.10 L316.68,355.10 L317.01,355.10 L317.35,355.10 L317.69,355.10 L318.03,355.10 L318.36,355.10 L318.70,355.10 L319.04,355.10 L319.38,355.10 L319.71,355.10 L320.05,355.10 L320.39,355.10 L320.73,355.10 L321.06,355.10 L321.40,355.10 L321.74,355.10 L322.08,355.10 L322.41,355.10 L322.75,355.10 L323.09,355.10 L323.43,355.10 L323.76,355.10 L324.10,355.10 L324.44,355.10 L324.78,355.10 L325.11,355.10 L325.45,355.10 L325.79,355.10 L326.12,355.10 L326.46,355.10 L326.80,355.10 L327.14,355.10 L327.47,355.10 L327.81,355.10 L328.15,355.10 L328.49,355.10 L328.82,355.10 L329.16,355.10 L329.50,355.10 L329.84,355.10 L330.17,355.10 L330.51,355.10 L330.85,355.10 L331.19,355.10 L331.52,355.10 L331.86,355.10 L332.20,355.10 L332.54,355.10 L332.87,355.10 L333.21,355.10 L333.55,355.10 L333.88,355.10 L334.22,355.10 L334.56,355.10 L334.90,355.10 L335.23,355.10 L335.57,355.10 L335.91,355.10 L336.25,355.10 L336.58,355.10 L336.92,355.10 L337.26,355.10 L337.60,355.10 L337.93,355.10 L338.27,355.10 L338.61,355.10 L338.95,355.10 L339.28,355.10 L339.62,355.10 L339.96,355.10 L340.30,355.10 L340.63,355.10 L340.97,355.10 L341.31,355.10 L341.65,355.10 L341.98,355.10 L342.32,355.10 L342.66,355.10 L342.99,355.10 L343.33,355.10 L343.67,355.10 L344.01,355.10 L344.34,355.10 L344.68,355.10 L345.02,355.10 L345.36,355.10 L345.69,355.10 L346.03,355.10 L346.37,355.10 L346.71,355.10 L347.04,355.10 L347.38,355.10 L347.72,355.10 L348.06,355.10 L348.39,355.10 L348.73,355.10 L349.07,355.10 L349.41,355.10 L349.74,355.10 L350.08,355.10 L350.42,355.10 L350.75,355.10 L351.09,355.10 L351.43,355.10 L351.77,355.10 L352.10,355.10 L352.44,355.10 L352.78,355.10 L353.12,355.10 L353.45,355.10 L353.79,355.10 L354.13,355.10 L354.47,355.10 L354.80,355.10 L355.14,355.10 L355.48,355.10 L355.82,355.10 L356.15,355.10 L356.49,355.10 L356.83,355.10 L357.17,355.10 L357.50,355.10 L357.84,355.10 L358.18,355.10 L358.52,355.10 L358.85,355.10 L359.19,355.10 L359.53,355.10 L359.86,355.10 L360.20,355.10 L360.54,355.10 L360.88,355.10 L361.21,355.10 L361.55,355.10 L361.89,355.10 L362.23,355.10 L362.56,355.10 L362.90,355.10 L363.24,355.10 L363.58,355.10 L363.91,355.10 L364.25,355.10 L364.59,355.10 L364.93,355.10 L365.26,355.10 L365.60,355.10 L365.94,355.10 L366.28,355.10 L366.61,355.10 L366.95,355.10 L367.29,355.10 L367.62,355.10 L367.96,355.10 L368.30,355.10 L368.64,355.10 L368.97,355.10 L369.31,355.10 L369.65,355.10 L369.99,355.10 L370.32,355.10 L370.66,355.10 L371.00,355.10 L371.34,355.10 L371.67,355.10 L372.01,355.10 L372.35,355.10 L372.69,355.10 L373.02,355.10 L373.36,355.10 L373.70,355.10 L374.04,355.10 L374.37,355.10 L374.71,355.10 L375.05,355.10 L375.39,355.10 L375.72,355.10 L376.06,355.10 L376.40,355.10 L376.73,355.10 L377.07,355.10 L377.41,355.10 L377.75,355.10 L378.08,355.10 L378.42,355.10 L378.76,355.10 L379.10,355.10 L379.43,355.10 L379.77,355.10 L380.11,355.10 L380.45,355.10 L380.78,355.10 L381.12,355.10 L381.46,355.10 L381.80,355.10 L382.13,355.10 L382.47,355.10 L382.81,355.10 L383.15,355.10 L383.48,355.10 L383.82,355.10 L384.16,355.10 L384.50,355.10 L384.83,355.10 L385.17,355.10 L385.51,355.10 L385.84,355.10 L386.18,355.10 L386.52,355.10 L386.86,355.10 L387.19,355.10 L387.53,355.10 L387.87,355.10 L388.21,355.10 L388.54,355.10 L388.88,355.10 L389.22,355.10 L389.56,355.10 L389.89,355.10 L390.23,355.10 L390.57,355.10 L390.91,355.10 L391.24,355.10 L391.58,355.10 L391.92,355.10 L392.26,355.10 L392.59,355.10 L392.93,355.10 L393.27,355.10 L393.60,355.10 L393.94,355.10 L394.28,355.10 L394.62,355.10 L394.95,355.10 L395.29,355.10 L395.63,355.10 L395.97,355.10 L396.30,355.10 L396.64,355.10 L396.98,355.10 L397.32,355.10 L397.65,355.10 L397.99,355.10 L398.33,355.10 L398.67,355.10 L399.00,355.10 L399.34,355.10 L399.68,355.10 L400.02,355.10 L400.35,355.10 L400.69,355.10 L401.03,355.10 L401.37,355.10 L401.70,355.10 L402.04,355.10 L402.38,355.10 L402.71,355.10 L403.05,355.10 L403.39,355.10 L403.73,355.10 L404.06,355.10 L404.40,355.10 L404.74,355.10 L405.08,355.10 L405.41,355.10 L405.75,355.10 L406.09,355.10 L406.43,355.10 L406.76,355.10 L407.10,355.10 L407.44,355.10 L407.78,355.10 L408.11,355.10 L408.45,355.10 L408.79,355.10 L409.13,355.10 L409.46,355.10 L409.80,355.10 L410.14,355.10 L410.47,355.10 L410.81,355.10 L411.15,355.10 L411.49,355.10 L411.82,355.10 L412.16,355.10 L412.50,355.10 L412.84,355.10 L413.17,355.10 L413.51,355.10 L413.85,355.10 L414.19,355.10 L414.52,355.10 L414.86,355.10 L415.20,355.10 L415.54,355.10 L415.87,355.10 L416.21,355.10 L416.55,355.10 L416.89,355.10 L417.22,355.10 L417.56,355.10 L417.90,355.10 L418.24,355.10 L418.57,355.10 L418.91,355.10 L419.25,355.10 L419.58,355.10 L419.92,355.10 L420.26,355.10 L420.60,355.10 L420.93,355.10 L421.27,355.10 L421.61,355.10 L421.95,355.10 L422.28,355.10 L422.62,355.10 L422.96,355.10 L423.30,355.10 L423.63,355.10 L423.97,355.10 L424.31,355.10 L424.65,355.10 L424.98,355.10 L425.32,355.10 L425.66,355.10 L426.00,355.10 L426.33,355.10 L426.67,355.10 L427.01,355.10 L427.34,355.10 L427.68,355.10 L428.02,355.10 L428.36,355.10 L428.69,355.10 L429.03,355.10 L429.37,355.10 L429.71,355.10 L430.04,355.10 L430.38,355.10 L430.72,355.10 L431.06,355.10 L431.39,355.10 L431.73,355.10 L432.07,355.10 L432.41,355.10 L432.74,355.10 L433.08,355.10 L433.42,355.10 L433.76,355.10 L434.09,355.10 L434.43,355.10 L434.77,355.10 L435.11,355.10 L435.44,355.10 L435.78,355.10 L436.12,355.10 L436.45,355.10 L436.79,355.10 L437.13,355.10 L437.47,355.10 L437.80,355.10 L438.14,355.10 L438.48,355.10 L438.82,355.10 L439.15,355.10 L439.49,355.10 L439.83,355.10 L440.17,355.10 L440.50,355.10 L440.84,355.10 L441.18,355.10 L441.52,355.10 L441.85,355.10 L442.19,355.10 L442.53,355.10 L442.87,355.10 L443.20,355.10 L443.54,355.10 L443.88,355.10 L444.21,355.10 L444.55,355.10 L444.89,355.10 L445.23,355.10 L445.56,355.10 L445.90,355.10 L446.24,355.10 L446.58,355.10 L446.91,355.10 L447.25,355.10 L447.59,355.10 L447.93,355.10 L448.26,355.10 L448.60,355.10 L448.94,355.10 L449.28,355.10 L449.61,355.10 L449.95,355.10 L450.29,355.10 L450.63,355.10 L450.96,355.10 L451.30,355.10 L451.64,355.10 L451.98,355.10 L452.31,355.10 L452.65,355.10 L452.99,355.10 L453.32,355.10 L453.66,355.10 L454.00,355.10 L454.34,355.10 L454.67,355.10 L455.01,355.10 L455.35,355.10 L455.69,355.10 L456.02,355.10 L456.36,355.10 L456.70,355.10 L457.04,355.10 L457.37,355.10 L457.71,355.10 L458.05,355.10 L458.39,355.10 L458.72,355.10 L459.06,355.10 L459.40,355.10 L459.74,355.10 L460.07,355.10 L460.41,355.10 L460.75,355.10 L461.08,355.10 L461.42,355.10 L461.76,355.10 L462.10,355.10 L462.43,355.10 L462.77,355.10 L463.11,355.10 L463.45,355.10 L463.78,355.10 L464.12,355.10 L464.46,355.10 L464.80,355.10 L465.13,355.10 L465.47,355.10 L465.81,355.10 L466.15,355.10 L466.48,355.10 L466.82,355.10 L467.16,355.10 L467.50,355.10 L467.83,355.10 L468.17,355.10 L468.51,355.10 L468.85,355.10 L469.18,355.10 L469.52,355.10 L469.86,355.10 L470.19,355.10 L470.53,355.10 L470.87,355.10 L471.21,355.10 L471.54,355.10 L471.88,355.10 L472.22,355.10 L472.56,355.10 L472.89,355.10 L473.23,355.10 L473.57,355.10 L473.91,355.10 L474.24,355.10 L474.58,355.10 L474.92,355.10 L475.26,355.10 L475.59,355.10 L475.93,355.10 L476.27,355.10 L476.61,355.10 L476.94,355.10 L477.28,355.10 L477.62,355.10 L477.95,355.10 L478.29,355.10 L478.63,355.10 L478.97,355.10 L479.30,355.10 L479.64,355.10 L479.98,355.10 L480.32,355.10 L480.65,355.10 L480.99,355.10 L481.33,355.10 L481.67,355.10 L482.00,355.10 L482.34,355.10 L482.68,355.10 L483.02,355.10 L483.35,355.10 L483.69,355.10 L484.03,355.10 L484.37,355.10 L484.70,355.10 L485.04,355.10 L485.38,355.10 L485.72,355.10 L486.05,355.10 L486.39,355.10 L486.73,355.10 L487.06,355.10 L487.40,355.10 L487.74,355.10 L488.08,355.10 L488.41,355.10 L488.75,355.10 L489.09,355.10 L489.43,355.10 L489.76,355.10 L490.10,355.10 L490.44,355.10 L490.78,355.10 L491.11,355.10 L491.45,355.10 L491.79,355.10 L492.13,355.10 L492.46,355.10 L492.80,355.10 L493.14,355.10 L493.48,355.10 L493.81,355.10 L494.15,355.10 L494.49,355.10 L494.82,355.10 L495.16,355.10 L495.50,355.10 L495.84,355.10 L496.17,355.10 L496.51,355.10 L496.85,355.10 L497.19,355.10 L497.52,355.10 L497.86,355.10 L498.20,355.10 L498.54,355.10 L498.87,355.10 L499.21,355.10 L499.55,355.10 L499.89,355.10 L500.22,355.10 L500.56,355.10 L500.90,355.10 L501.24,355.10 L501.57,355.10 L501.91,355.10 L502.25,355.10 L502.59,355.10 L502.92,355.10 L503.26,355.10 L503.60,355.10 L503.93,355.10 L504.27,355.10 L504.61,355.10 L504.95,355.10 L505.28,355.10 L505.62,355.10 L505.96,355.10 L506.30,355.10 L506.63,355.10 L506.97,355.10 L507.31,355.10 L507.65,355.10 L507.98,355.10 L508.32,355.10 L508.66,355.10 L509.00,355.10 L509.33,355.10 L509.67,355.10 L510.01,355.10 L510.35,355.10 L510.68,355.10 L511.02,355.10 L511.36,355.10 L511.69,355.10 L512.03,355.10 L512.37,355.10 L512.71,355.10 L513.04,355.10 L513.38,355.10 L513.72,355.10 L514.06,355.10 L514.39,355.10 L514.73,355.10 L515.07,355.10 L515.41,355.10 L515.74,355.10 L516.08,355.10 L516.42,355.10 L516.76,355.10 L517.09,355.10 L517.43,355.10 L517.77,355.10 L518.11,355.10 L518.44,355.10 L518.78,355.10 L519.12,355.10 L519.46,355.10 L519.79,355.10 L520.13,355.10 L520.47,355.10 L520.80,355.10 L521.14,355.10 L521.48,355.10 L521.82,355.10 L522.15,355.10 L522.49,355.10 L522.83,355.10 L523.17,355.10 L523.50,355.10 L523.84,355.10 L524.18,355.10 L524.52,355.10 L524.85,355.10 L525.19,355.10 L525.53,355.10 L525.87,355.10 L526.20,355.10 L526.54,355.10 L526.88,355.10 L527.22,355.10 L527.55,355.10 L527.89,355.10 L528.23,355.10 L528.56,355.10 L528.90,355.10 L529.24,355.10 L529.58,355.10 L529.91,355.10 L530.25,355.10 L530.59,355.10 L530.93,355.10 L531.26,355.10 L531.60,355.10 L531.94,355.10 L532.28,355.10 L532.61,355.10 L532.95,355.10 L533.29,355.10 L533.63,355.10 L533.96,355.10 L534.30,355.10 L534.64,355.10 L534.98,355.10 L535.31,355.10 L535.65,355.10 L535.99,355.10 L536.33,355.10 L536.66,355.10 L537.00,355.10 L537.34,355.10 L537.67,355.10 L538.01,355.10 L538.35,355.10 L538.69,355.10 L539.02,355.10 L539.36,355.10 L539.70,355.10 L540.04,355.10 L540.37,355.10 L540.71,355.10 L541.05,355.10 L541.39,355.10 L541.72,355.10 L542.06,355.10 L542.40,355.10 L542.74,355.10 L543.07,355.10 L543.41,355.10 L543.75,355.10 L544.09,355.10 L544.42,355.10 L544.76,355.10" stroke="#c8c800" stroke-width="1.85" stroke-dasharray="3.6 5.2" stroke-dashoffset="0"/>
<path d="M72.40,19.19 L72.74,19.19 L73.07,19.19 L73.41,19.20 L73.75,19.22 L74.09,19.23 L74.42,19.26 L74.76,19.28 L75.10,19.31 L75.44,19.34 L75.77,19.38 L76.11,19.42 L76.45,19.47 L76.79,19.52 L77.12,19.57 L77.46,19.63 L77.80,19.69 L78.14,19.76 L78.47,19.83 L78.81,19.91 L79.15,19.99 L79.49,20.08 L79.82,20.17 L80.16,20.26 L80.50,20.37 L80.84,20.47 L81.17,20.58 L81.51,20.70 L81.85,20.82 L82.18,20.95 L82.52,21.09 L82.86,21.23 L83.20,21.37 L83.53,21.53 L83.87,21.68 L84.21,21.85 L84.55,22.02 L84.88,22.20 L85.22,22.39 L85.56,22.58 L85.90,22.78 L86.23,22.99 L86.57,23.21 L86.91,23.43 L87.25,23.67 L87.58,23.91 L87.92,24.16 L88.26,24.42 L88.60,24.69 L88.93,24.96 L89.27,25.25 L89.61,25.55 L89.94,25.86 L90.28,26.17 L90.62,26.50 L90.96,26.84 L91.29,27.19 L91.63,27.55 L91.97,27.92 L92.31,28.31 L92.64,28.70 L92.98,29.11 L93.32,29.53 L93.66,29.97 L93.99,30.41 L94.33,30.87 L94.67,31.35 L95.01,31.84 L95.34,32.34 L95.68,32.86 L96.02,33.39 L96.36,33.94 L96.69,34.51 L97.03,35.09 L97.37,35.69 L97.71,36.30 L98.04,36.93 L98.38,37.59 L98.72,38.26 L99.05,38.95 L99.39,39.66 L99.73,40.38 L100.07,41.13 L100.40,41.90 L100.74,42.69 L101.08,43.51 L101.42,44.34 L101.75,45.19 L102.09,46.07 L102.43,46.96 L102.77,47.88 L103.10,48.82 L103.44,49.77 L103.78,50.75 L104.12,51.75 L104.45,52.78 L104.79,53.82 L105.13,54.89 L105.47,55.97 L105.80,57.08 L106.14,58.22 L106.48,59.38 L106.81,60.56 L107.15,61.76 L107.49,62.99 L107.83,64.24 L108.16,65.51 L108.50,66.80 L108.84,68.12 L109.18,69.47 L109.51,70.83 L109.85,72.22 L110.19,73.63 L110.53,75.07 L110.86,76.52 L111.20,78.00 L111.54,79.51 L111.88,81.03 L112.21,82.58 L112.55,84.15 L112.89,85.74 L113.23,87.35 L113.56,88.98 L113.90,90.64 L114.24,92.31 L114.58,94.01 L114.91,95.73 L115.25,97.46 L115.59,99.22 L115.92,100.99 L116.26,102.78 L116.60,104.59 L116.94,106.42 L117.27,108.26 L117.61,110.13 L117.95,112.01 L118.29,113.90 L118.62,115.81 L118.96,117.73 L119.30,119.67 L119.64,121.63 L119.97,123.59 L120.31,125.57 L120.65,127.56 L120.99,129.56 L121.32,131.57 L121.66,133.60 L122.00,135.63 L122.34,137.67 L122.67,139.72 L123.01,141.78 L123.35,143.85 L123.68,145.92 L124.02,148.00 L124.36,150.08 L124.70,152.17 L125.03,154.26 L125.37,156.36 L125.71,158.45 L126.05,160.55 L126.38,162.66 L126.72,164.76 L127.06,166.86 L127.40,168.97 L127.73,171.07 L128.07,173.17 L128.41,175.27 L128.75,177.36 L129.08,179.45 L129.42,181.54 L129.76,183.62 L130.10,185.70 L130.43,187.78 L130.77,189.84 L131.11,191.90 L131.44,193.96 L131.78,196.00 L132.12,198.04 L132.46,200.07 L132.79,202.09 L133.13,204.10 L133.47,206.10 L133.81,208.08 L134.14,210.06 L134.48,212.03 L134.82,213.98 L135.16,215.93 L135.49,217.86 L135.83,219.77 L136.17,221.68 L136.51,223.57 L136.84,225.45 L137.18,227.31 L137.52,229.16 L137.86,230.99 L138.19,232.81 L138.53,234.61 L138.87,236.40 L139.21,238.17 L139.54,239.93 L139.88,241.67 L140.22,243.40 L140.55,245.10 L140.89,246.80 L141.23,248.47 L141.57,250.13 L141.90,251.77 L142.24,253.39 L142.58,255.00 L142.92,256.59 L143.25,258.16 L143.59,259.72 L143.93,261.25 L144.27,262.77 L144.60,264.28 L144.94,265.76 L145.28,267.23 L145.62,268.68 L145.95,270.11 L146.29,271.52 L146.63,272.92 L146.97,274.30 L147.30,275.66 L147.64,277.01 L147.98,278.33 L148.31,279.64 L148.65,280.94 L148.99,282.21 L149.33,283.47 L149.66,284.71 L150.00,285.93 L150.34,287.14 L150.68,288.33 L151.01,289.50 L151.35,290.66 L151.69,291.80 L152.03,292.93 L152.36,294.03 L152.70,295.13 L153.04,296.20 L153.38,297.26 L153.71,298.30 L154.05,299.33 L154.39,300.35 L154.73,301.34 L155.06,302.33 L155.40,303.29 L155.74,304.25 L156.08,305.18 L156.41,306.11 L156.75,307.01 L157.09,307.91 L157.42,308.79 L157.76,309.65 L158.10,310.51 L158.44,311.34 L158.77,312.17 L159.11,312.98 L159.45,313.78 L159.79,314.56 L160.12,315.33 L160.46,316.09 L160.80,316.84 L161.14,317.57 L161.47,318.30 L161.81,319.01 L162.15,319.70 L162.49,320.39 L162.82,321.06 L163.16,321.72 L163.50,322.38 L163.84,323.02 L164.17,323.64 L164.51,324.26 L164.85,324.87 L165.19,325.46 L165.52,326.05 L165.86,326.63 L166.20,327.19 L166.53,327.75 L166.87,328.29 L167.21,328.83 L167.55,329.35 L167.88,329.87 L168.22,330.38 L168.56,330.88 L168.90,331.36 L169.23,331.84 L169.57,332.32 L169.91,332.78 L170.25,333.23 L170.58,333.68 L170.92,334.12 L171.26,334.55 L171.60,334.97 L171.93,335.38 L172.27,335.79 L172.61,336.19 L172.95,336.58 L173.28,336.96 L173.62,337.34 L173.96,337.70 L174.29,338.07 L174.63,338.42 L174.97,338.77 L175.31,339.11 L175.64,339.45 L175.98,339.78 L176.32,340.10 L176.66,340.42 L176.99,340.73 L177.33,341.03 L177.67,341.33 L178.01,341.62 L178.34,341.91 L178.68,342.19 L179.02,342.46 L179.36,342.73 L179.69,343.00 L180.03,343.26 L180.37,343.51 L180.71,343.76 L181.04,344.01 L181.38,344.24 L181.72,344.48 L182.06,344.71 L182.39,344.93 L182.73,345.16 L183.07,345.37 L183.40,345.58 L183.74,345.79 L184.08,345.99 L184.42,346.19 L184.75,346.39 L185.09,346.58 L185.43,346.77 L185.77,346.95 L186.10,347.13 L186.44,347.31 L186.78,347.48 L187.12,347.65 L187.45,347.81 L187.79,347.98 L188.13,348.13 L188.47,348.29 L188.80,348.44 L189.14,348.59 L189.48,348.74 L189.82,348.88 L190.15,349.02 L190.49,349.16 L190.83,349.29 L191.16,349.42 L191.50,349.55 L191.84,349.67 L192.18,349.80 L192.51,349.92 L192.85,350.03 L193.19,350.15 L193.53,350.26 L193.86,350.37 L194.20,350.48 L194.54,350.59 L194.88,350.69 L195.21,350.79 L195.55,350.89 L195.89,350.99 L196.23,351.08 L196.56,351.17 L196.90,351.26 L197.24,351.35 L197.58,351.44 L197.91,351.52 L198.25,351.61 L198.59,351.69 L198.93,351.77 L199.26,351.84 L199.60,351.92 L199.94,351.99 L200.27,352.07 L200.61,352.14 L200.95,352.21 L201.29,352.27 L201.62,352.34 L201.96,352.40 L202.30,352.47 L202.64,352.53 L202.97,352.59 L203.31,352.65 L203.65,352.71 L203.99,352.76 L204.32,352.82 L204.66,352.87 L205.00,352.92 L205.34,352.98 L205.67,353.03 L206.01,353.07 L206.35,353.12 L206.69,353.17 L207.02,353.22 L207.36,353.26 L207.70,353.30 L208.03,353.35 L208.37,353.39 L208.71,353.43 L209.05,353.47 L209.38,353.51 L209.72,353.55 L210.06,353.58 L210.40,353.62 L210.73,353.65 L211.07,353.69 L211.41,353.72 L211.75,353.76 L212.08,353.79 L212.42,353.82 L212.76,353.85 L213.10,353.88 L213.43,353.91 L213.77,353.94 L214.11,353.97 L214.45,353.99 L214.78,354.02 L215.12,354.05 L215.46,354.07 L215.80,354.10 L216.13,354.12 L216.47,354.14 L216.81,354.17 L217.14,354.19 L217.48,354.21 L217.82,354.23 L218.16,354.25 L218.49,354.27 L218.83,354.29 L219.17,354.31 L219.51,354.33 L219.84,354.35 L220.18,354.37 L220.52,354.39 L220.86,354.40 L221.19,354.42 L221.53,354.44 L221.87,354.45 L222.21,354.47 L222.54,354.48 L222.88,354.50 L223.22,354.51 L223.56,354.53 L223.89,354.54 L224.23,354.55 L224.57,354.57 L224.90,354.58 L225.24,354.59 L225.58,354.61 L225.92,354.62 L226.25,354.63 L226.59,354.64 L226.93,354.65 L227.27,354.66 L227.60,354.67 L227.94,354.68 L228.28,354.69 L228.62,354.70 L228.95,354.71 L229.29,354.72 L229.63,354.73 L229.97,354.74 L230.30,354.75 L230.64,354.76 L230.98,354.77 L231.32,354.77 L231.65,354.78 L231.99,354.79 L232.33,354.80 L232.67,354.80 L233.00,354.81 L233.34,354.82 L233.68,354.82 L234.01,354.83 L234.35,354.84 L234.69,354.84 L235.03,354.85 L235.36,354.86 L235.70,354.86 L236.04,354.87 L236.38,354.87 L236.71,354.88 L237.05,354.88 L237.39,354.89 L237.73,354.89 L238.06,354.90 L238.40,354.90 L238.74,354.91 L239.08,354.91 L239.41,354.92 L239.75,354.92 L240.09,354.93 L240.43,354.93 L240.76,354.94 L241.10,354.94 L241.44,354.94 L241.77,354.95 L242.11,354.95 L242.45,354.95 L242.79,354.96 L243.12,354.96 L243.46,354.96 L243.80,354.97 L244.14,354.97 L244.47,354.97 L244.81,354.98 L245.15,354.98 L245.49,354.98 L245.82,354.99 L246.16,354.99 L246.50,354.99 L246.84,354.99 L247.17,355.00 L247.51,355.00 L247.85,355.00 L248.19,355.00 L248.52,355.01 L248.86,355.01 L249.20,355.01 L249.54,355.01 L249.87,355.01 L250.21,355.02 L250.55,355.02 L250.88,355.02 L251.22,355.02 L251.56,355.02 L251.90,355.03 L252.23,355.03 L252.57,355.03 L252.91,355.03 L253.25,355.03 L253.58,355.03 L253.92,355.04 L254.26,355.04 L254.60,355.04 L254.93,355.04 L255.27,355.04 L255.61,355.04 L255.95,355.05 L256.28,355.05 L256.62,355.05 L256.96,355.05 L257.30,355.05 L257.63,355.05 L257.97,355.05 L258.31,355.05 L258.64,355.05 L258.98,355.06 L259.32,355.06 L259.66,355.06 L259.99,355.06 L260.33,355.06 L260.67,355.06 L261.01,355.06 L261.34,355.06 L261.68,355.06 L262.02,355.06 L262.36,355.07 L262.69,355.07 L263.03,355.07 L263.37,355.07 L263.71,355.07 L264.04,355.07 L264.38,355.07 L264.72,355.07 L265.06,355.07 L265.39,355.07 L265.73,355.07 L266.07,355.07 L266.41,355.07 L266.74,355.07 L267.08,355.08 L267.42,355.08 L267.75,355.08 L268.09,355.08 L268.43,355.08 L268.77,355.08 L269.10,355.08 L269.44,355.08 L269.78,355.08 L270.12,355.08 L270.45,355.08 L270.79,355.08 L271.13,355.08 L271.47,355.08 L271.80,355.08 L272.14,355.08 L272.48,355.08 L272.82,355.08 L273.15,355.08 L273.49,355.08 L273.83,355.09 L274.17,355.09 L274.50,355.09 L274.84,355.09 L275.18,355.09 L275.51,355.09 L275.85,355.09 L276.19,355.09 L276.53,355.09 L276.86,355.09 L277.20,355.09 L277.54,355.09 L277.88,355.09 L278.21,355.09 L278.55,355.09 L278.89,355.09 L279.23,355.09 L279.56,355.09 L279.90,355.09 L280.24,355.09 L280.58,355.09 L280.91,355.09 L281.25,355.09 L281.59,355.09 L281.93,355.09 L282.26,355.09 L282.60,355.09 L282.94,355.09 L283.27,355.09 L283.61,355.09 L283.95,355.09 L284.29,355.09 L284.62,355.09 L284.96,355.09 L285.30,355.09 L285.64,355.09 L285.97,355.09 L286.31,355.09 L286.65,355.09 L286.99,355.09 L287.32,355.09 L287.66,355.09 L288.00,355.09 L288.34,355.09 L288.67,355.09 L289.01,355.10 L289.35,355.10 L289.69,355.10 L290.02,355.10 L290.36,355.10 L290.70,355.10 L291.04,355.10 L291.37,355.10 L291.71,355.10 L292.05,355.10 L292.38,355.10 L292.72,355.10 L293.06,355.10 L293.40,355.10 L293.73,355.10 L294.07,355.10 L294.41,355.10 L294.75,355.10 L295.08,355.10 L295.42,355.10 L295.76,355.10 L296.10,355.10 L296.43,355.10 L296.77,355.10 L297.11,355.10 L297.45,355.10 L297.78,355.10 L298.12,355.10 L298.46,355.10 L298.80,355.10 L299.13,355.10 L299.47,355.10 L299.81,355.10 L300.14,355.10 L300.48,355.10 L300.82,355.10 L301.16,355.10 L301.49,355.10 L301.83,355.10 L302.17,355.10 L302.51,355.10 L302.84,355.10 L303.18,355.10 L303.52,355.10 L303.86,355.10 L304.19,355.10 L304.53,355.10 L304.87,355.10 L305.21,355.10 L305.54,355.10 L305.88,355.10 L306.22,355.10 L306.56,355.10 L306.89,355.10 L307.23,355.10 L307.57,355.10 L307.91,355.10 L308.24,355.10 L308.58,355.10 L308.92,355.10 L309.25,355.10 L309.59,355.10 L309.93,355.10 L310.27,355.10 L310.60,355.10 L310.94,355.10 L311.28,355.10 L311.62,355.10 L311.95,355.10 L312.29,355.10 L312.63,355.10 L312.97,355.10 L313.30,355.10 L313.64,355.10 L313.98,355.10 L314.32,355.10 L314.65,355.10 L314.99,355.10 L315.33,355.10 L315.67,355.10 L316.00,355.10 L316.34,355.10 L316.68,355.10 L317.01,355.10 L317.35,355.10 L317.69,355.10 L318.03,355.10 L318.36,355.10 L318.70,355.10 L319.04,355.10 L319.38,355.10 L319.71,355.10 L320.05,355.10 L320.39,355.10 L320.73,355.10 L321.06,355.10 L321.40,355.10 L321.74,355.10 L322.08,355.10 L322.41,355.10 L322.75,355.10 L323.09,355.10 L323.43,355.10 L323.76,355.10 L324.10,355.10 L324.44,355.10 L324.78,355.10 L325.11,355.10 L325.45,355.10 L325.79,355.10 L326.12,355.10 L326.46,355.10 L326.80,355.10 L327.14,355.10 L327.47,355.10 L327.81,355.10 L328.15,355.10 L328.49,355.10 L328.82,355.10 L329.16,355.10 L329.50,355.10 L329.84,355.10 L330.17,355.10 L330.51,355.10 L330.85,355.10 L331.19,355.10 L331.52,355.10 L331.86,355.10 L332.20,355.10 L332.54,355.10 L332.87,355.10 L333.21,355.10 L333.55,355.10 L333.88,355.10 L334.22,355.10 L334.56,355.10 L334.90,355.10 L335.23,355.10 L335.57,355.10 L335.91,355.10 L336.25,355.10 L336.58,355.10 L336.92,355.10 L337.26,355.10 L337.60,355.10 L337.93,355.10 L338.27,355.10 L338.61,355.10 L338.95,355.10 L339.28,355.10 L339.62,355.10 L339.96,355.10 L340.30,355.10 L340.63,355.10 L340.97,355.10 L341.31,355.10 L341.65,355.10 L341.98,355.10 L342.32,355.10 L342.66,355.10 L342.99,355.10 L343.33,355.10 L343.67,355.10 L344.01,355.10 L344.34,355.10 L344.68,355.10 L345.02,355.10 L345.36,355.10 L345.69,355.10 L346.03,355.10 L346.37,355.10 L346.71,355.10 L347.04,355.10 L347.38,355.10 L347.72,355.10 L348.06,355.10 L348.39,355.10 L348.73,355.10 L349.07,355.10 L349.41,355.10 L349.74,355.10 L350.08,355.10 L350.42,355.10 L350.75,355.10 L351.09,355.10 L351.43,355.10 L351.77,355.10 L352.10,355.10 L352.44,355.10 L352.78,355.10 L353.12,355.10 L353.45,355.10 L353.79,355.10 L354.13,355.10 L354.47,355.10 L354.80,355.10 L355.14,355.10 L355.48,355.10 L355.82,355.10 L356.15,355.10 L356.49,355.10 L356.83,355.10 L357.17,355.10 L357.50,355.10 L357.84,355.10 L358.18,355.10 L358.52,355.10 L358.85,355.10 L359.19,355.10 L359.53,355.10 L359.86,355.10 L360.20,355.10 L360.54,355.10 L360.88,355.10 L361.21,355.10 L361.55,355.10 L361.89,355.10 L362.23,355.10 L362.56,355.10 L362.90,355.10 L363.24,355.10 L363.58,355.10 L363.91,355.10 L364.25,355.10 L364.59,355.10 L364.93,355.10 L365.26,355.10 L365.60,355.10 L365.94,355.10 L366.28,355.10 L366.61,355.10 L366.95,355.10 L367.29,355.10 L367.62,355.10 L367.96,355.10 L368.30,355.10 L368.64,355.10 L368.97,355.10 L369.31,355.10 L369.65,355.10 L369.99,355.10 L370.32,355.10 L370.66,355.10 L371.00,355.10 L371.34,355.10 L371.67,355.10 L372.01,355.10 L372.35,355.10 L372.69,355.10 L373.02,355.10 L373.36,355.10 L373.70,355.10 L374.04,355.10 L374.37,355.10 L374.71,355.10 L375.05,355.10 L375.39,355.10 L375.72,355.10 L376.06,355.10 L376.40,355.10 L376.73,355.10 L377.07,355.10 L377.41,355.10 L377.75,355.10 L378.08,355.10 L378.42,355.10 L378.76,355.10 L379.10,355.10 L379.43,355.10 L379.77,355.10 L380.11,355.10 L380.45,355.10 L380.78,355.10 L381.12,355.10 L381.46,355.10 L381.80,355.10 L382.13,355.10 L382.47,355.10 L382.81,355.10 L383.15,355.10 L383.48,355.10 L383.82,355.10 L384.16,355.10 L384.50,355.10 L384.83,355.10 L385.17,355.10 L385.51,355.10 L385.84,355.10 L386.18,355.10 L386.52,355.10 L386.86,355.10 L387.19,355.10 L387.53,355.10 L387.87,355.10 L388.21,355.10 L388.54,355.10 L388.88,355.10 L389.22,355.10 L389.56,355.10 L389.89,355.10 L390.23,355.10 L390.57,355.10 L390.91,355.10 L391.24,355.10 L391.58,355.10 L391.92,355.10 L392.26,355.10 L392.59,355.10 L392.93,355.10 L393.27,355.10 L393.60,355.10 L393.94,355.10 L394.28,355.10 L394.62,355.10 L394.95,355.10 L395.29,355.10 L395.63,355.10 L395.97,355.10 L396.30,355.10 L396.64,355.10 L396.98,355.10 L397.32,355.10 L397.65,355.10 L397.99,355.10 L398.33,355.10 L398.67,355.10 L399.00,355.10 L399.34,355.10 L399.68,355.10 L400.02,355.10 L400.35,355.10 L400.69,355.10 L401.03,355.10 L401.37,355.10 L401.70,355.10 L402.04,355.10 L402.38,355.10 L402.71,355.10 L403.05,355.10 L403.39,355.10 L403.73,355.10 L404.06,355.10 L404.40,355.10 L404.74,355.10 L405.08,355.10 L405.41,355.10 L405.75,355.10 L406.09,355.10 L406.43,355.10 L406.76,355.10 L407.10,355.10 L407.44,355.10 L407.78,355.10 L408.11,355.10 L408.45,355.10 L408.79,355.10 L409.13,355.10 L409.46,355.10 L409.80,355.10 L410.14,355.10 L410.47,355.10 L410.81,355.10 L411.15,355.10 L411.49,355.10 L411.82,355.10 L412.16,355.10 L412.50,355.10 L412.84,355.10 L413.17,355.10 L413.51,355.10 L413.85,355.10 L414.19,355.10 L414.52,355.10 L414.86,355.10 L415.20,355.10 L415.54,355.10 L415.87,355.10 L416.21,355.10 L416.55,355.10 L416.89,355.10 L417.22,355.10 L417.56,355.10 L417.90,355.10 L418.24,355.10 L418.57,355.10 L418.91,355.10 L419.25,355.10 L419.58,355.10 L419.92,355.10 L420.26,355.10 L420.60,355.10 L420.93,355.10 L421.27,355.10 L421.61,355.10 L421.95,355.10 L422.28,355.10 L422.62,355.10 L422.96,355.10 L423.30,355.10 L423.63,355.10 L423.97,355.10 L424.31,355.10 L424.65,355.10 L424.98,355.10 L425.32,355.10 L425.66,355.10 L426.00,355.10 L426.33,355.10 L426.67,355.10 L427.01,355.10 L427.34,355.10 L427.68,355.10 L428.02,355.10 L428.36,355.10 L428.69,355.10 L429.03,355.10 L429.37,355.10 L429.71,355.10 L430.04,355.10 L430.38,355.10 L430.72,355.10 L431.06,355.10 L431.39,355.10 L431.73,355.10 L432.07,355.10 L432.41,355.10 L432.74,355.10 L433.08,355.10 L433.42,355.10 L433.76,355.10 L434.09,355.10 L434.43,355.10 L434.77,355.10 L435.11,355.10 L435.44,355.10 L435.78,355.10 L436.12,355.10 L436.45,355.10 L436.79,355.10 L437.13,355.10 L437.47,355.10 L437.80,355.10 L438.14,355.10 L438.48,355.10 L438.82,355.10 L439.15,355.10 L439.49,355.10 L439.83,355.10 L440.17,355.10 L440.50,355.10 L440.84,355.10 L441.18,355.10 L441.52,355.10 L441.85,355.10 L442.19,355.10 L442.53,355.10 L442.87,355.10 L443.20,355.10 L443.54,355.10 L443.88,355.10 L444.21,355.10 L444.55,355.10 L444.89,355.10 L445.23,355.10 L445.56,355.10 L445.90,355.10 L446.24,355.10 L446.58,355.10 L446.91,355.10 L447.25,355.10 L447.59,355.10 L447.93,355.10 L448.26,355.10 L448.60,355.10 L448.94,355.10 L449.28,355.10 L449.61,355.10 L449.95,355.10 L450.29,355.10 L450.63,355.10 L450.96,355.10 L451.30,355.10 L451.64,355.10 L451.98,355.10 L452.31,355.10 L452.65,355.10 L452.99,355.10 L453.32,355.10 L453.66,355.10 L454.00,355.10 L454.34,355.10 L454.67,355.10 L455.01,355.10 L455.35,355.10 L455.69,355.10 L456.02,355.10 L456.36,355.10 L456.70,355.10 L457.04,355.10 L457.37,355.10 L457.71,355.10 L458.05,355.10 L458.39,355.10 L458.72,355.10 L459.06,355.10 L459.40,355.10 L459.74,355.10 L460.07,355.10 L460.41,355.10 L460.75,355.10 L461.08,355.10 L461.42,355.10 L461.76,355.10 L462.10,355.10 L462.43,355.10 L462.77,355.10 L463.11,355.10 L463.45,355.10 L463.78,355.10 L464.12,355.10 L464.46,355.10 L464.80,355.10 L465.13,355.10 L465.47,355.10 L465.81,355.10 L466.15,355.10 L466.48,355.10 L466.82,355.10 L467.16,355.10 L467.50,355.10 L467.83,355.10 L468.17,355.10 L468.51,355.10 L468.85,355.10 L469.18,355.10 L469.52,355.10 L469.86,355.10 L470.19,355.10 L470.53,355.10 L470.87,355.10 L471.21,355.10 L471.54,355.10 L471.88,355.10 L472.22,355.10 L472.56,355.10 L472.89,355.10 L473.23,355.10 L473.57,355.10 L473.91,355.10 L474.24,355.10 L474.58,355.10 L474.92,355.10 L475.26,355.10 L475.59,355.10 L475.93,355.10 L476.27,355.10 L476.61,355.10 L476.94,355.10 L477.28,355.10 L477.62,355.10 L477.95,355.10 L478.29,355.10 L478.63,355.10 L478.97,355.10 L479.30,355.10 L479.64,355.10 L479.98,355.10 L480.32,355.10 L480.65,355.10 L480.99,355.10 L481.33,355.10 L481.67,355.10 L482.00,355.10 L482.34,355.10 L482.68,355.10 L483.02,355.10 L483.35,355.10 L483.69,355.10 L484.03,355.10 L484.37,355.10 L484.70,355.10 L485.04,355.10 L485.38,355.10 L485.72,355.10 L486.05,355.10 L486.39,355.10 L486.73,355.10 L487.06,355.10 L487.40,355.10 L487.74,355.10 L488.08,355.10 L488.41,355.10 L488.75,355.10 L489.09,355.10 L489.43,355.10 L489.76,355.10 L490.10,355.10 L490.44,355.10 L490.78,355.10 L491.11,355.10 L491.45,355.10 L491.79,355.10 L492.13,355.10 L492.46,355.10 L492.80,355.10 L493.14,355.10 L493.48,355.10 L493.81,355.10 L494.15,355.10 L494.49,355.10 L494.82,355.10 L495.16,355.10 L495.50,355.10 L495.84,355.10 L496.17,355.10 L496.51,355.10 L496.85,355.10 L497.19,355.10 L497.52,355.10 L497.86,355.10 L498.20,355.10 L498.54,355.10 L498.87,355.10 L499.21,355.10 L499.55,355.10 L499.89,355.10 L500.22,355.10 L500.56,355.10 L500.90,355.10 L501.24,355.10 L501.57,355.10 L501.91,355.10 L502.25,355.10 L502.59,355.10 L502.92,355.10 L503.26,355.10 L503.60,355.10 L503.93,355.10 L504.27,355.10 L504.61,355.10 L504.95,355.10 L505.28,355.10 L505.62,355.10 L505.96,355.10 L506.30,355.10 L506.63,355.10 L506.97,355.10 L507.31,355.10 L507.65,355.10 L507.98,355.10 L508.32,355.10 L508.66,355.10 L509.00,355.10 L509.33,355.10 L509.67,355.10 L510.01,355.10 L510.35,355.10 L510.68,355.10 L511.02,355.10 L511.36,355.10 L511.69,355.10 L512.03,355.10 L512.37,355.10 L512.71,355.10 L513.04,355.10 L513.38,355.10 L513.72,355.10 L514.06,355.10 L514.39,355.10 L514.73,355.10 L515.07,355.10 L515.41,355.10 L515.74,355.10 L516.08,355.10 L516.42,355.10 L516.76,355.10 L517.09,355.10 L517.43,355.10 L517.77,355.10 L518.11,355.10 L518.44,355.10 L518.78,355.10 L519.12,355.10 L519.46,355.10 L519.79,355.10 L520.13,355.10 L520.47,355.10 L520.80,355.10 L521.14,355.10 L521.48,355.10 L521.82,355.10 L522.15,355.10 L522.49,355.10 L522.83,355.10 L523.17,355.10 L523.50,355.10 L523.84,355.10 L524.18,355.10 L524.52,355.10 L524.85,355.10 L525.19,355.10 L525.53,355.10 L525.87,355.10 L526.20,355.10 L526.54,355.10 L526.88,355.10 L527.22,355.10 L527.55,355.10 L527.89,355.10 L528.23,355.10 L528.56,355.10 L528.90,355.10 L529.24,355.10 L529.58,355.10 L529.91,355.10 L530.25,355.10 L530.59,355.10 L530.93,355.10 L531.26,355.10 L531.60,355.10 L531.94,355.10 L532.28,355.10 L532.61,355.10 L532.95,355.10 L533.29,355.10 L533.63,355.10 L533.96,355.10 L534.30,355.10 L534.64,355.10 L534.98,355.10 L535.31,355.10 L535.65,355.10 L535.99,355.10 L536.33,355.10 L536.66,355.10 L537.00,355.10 L537.34,355.10 L537.67,355.10 L538.01,355.10 L538.35,355.10 L538.69,355.10 L539.02,355.10 L539.36,355.10 L539.70,355.10 L540.04,355.10 L540.37,355.10 L540.71,355.10 L541.05,355.10 L541.39,355.10 L541.72,355.10 L542.06,355.10 L542.40,355.10 L542.74,355.10 L543.07,355.10 L543.41,355.10 L543.75,355.10 L544.09,355.10 L544.42,355.10 L544.76,355.10" stroke="#a52a2a" stroke-width="1.85" stroke-dasharray="14.3 6.8" stroke-dashoffset="0"/>
<path d="M72.40,39.10 L72.74,39.10 L73.07,39.10 L73.41,39.10 L73.75,39.10 L74.09,39.10 L74.42,39.10 L74.76,39.10 L75.10,39.10 L75.44,39.10 L75.77,39.10 L76.11,39.10 L76.45,39.10 L76.79,39.10 L77.12,39.10 L77.46,39.10 L77.80,39.10 L78.14,39.10 L78.47,39.10 L78.81,39.10 L79.15,39.10 L79.49,39.10 L79.82,39.10 L80.16,39.10 L80.50,39.10 L80.84,39.10 L81.17,39.10 L81.51,39.10 L81.85,39.10 L82.18,39.10 L82.52,39.10 L82.86,39.10 L83.20,39.10 L83.53,39.10 L83.87,39.10 L84.21,39.10 L84.55,39.10 L84.88,39.10 L85.22,39.10 L85.56,39.10 L85.90,39.10 L86.23,39.10 L86.57,39.10 L86.91,39.10 L87.25,39.10 L87.58,39.10 L87.92,39.10 L88.26,39.10 L88.60,39.10 L88.93,39.10 L89.27,39.10 L89.61,39.10 L89.94,39.10 L90.28,39.10 L90.62,39.10 L90.96,39.10 L91.29,39.10 L91.63,39.10 L91.97,39.10 L92.31,39.10 L92.64,39.10 L92.98,39.10 L93.32,39.10 L93.66,39.10 L93.99,39.10 L94.33,39.10 L94.67,39.10 L95.01,39.10 L95.34,39.10 L95.68,39.10 L96.02,39.10 L96.36,39.10 L96.69,39.10 L97.03,39.10 L97.37,39.10 L97.71,39.10 L98.04,39.10 L98.38,39.10 L98.72,39.10 L99.05,39.10 L99.39,39.10 L99.73,39.10 L100.07,39.10 L100.40,39.10 L100.74,39.10 L101.08,39.10 L101.42,39.10 L101.75,39.10 L102.09,39.10 L102.43,39.10 L102.77,39.10 L103.10,39.10 L103.44,39.10 L103.78,39.10 L104.12,39.10 L104.45,39.10 L104.79,39.10 L105.13,39.10 L105.47,39.10 L105.80,39.10 L106.14,39.10 L106.48,39.10 L106.81,39.10 L107.15,39.10 L107.49,39.10 L107.83,39.10 L108.16,39.10 L108.50,39.10 L108.84,39.10 L109.18,39.10 L109.51,39.10 L109.85,39.10 L110.19,39.10 L110.53,39.10 L110.86,39.10 L111.20,39.10 L111.54,39.10 L111.88,39.10 L112.21,39.10 L112.55,39.10 L112.89,39.10 L113.23,39.10 L113.56,39.10 L113.90,39.10 L114.24,39.10 L114.58,39.10 L114.91,39.10 L115.25,39.10 L115.59,39.10 L115.92,39.10 L116.26,39.10 L116.60,39.10 L116.94,39.10 L117.27,39.10 L117.61,39.10 L117.95,39.10 L118.29,39.10 L118.62,39.10 L118.96,39.11 L119.30,39.11 L119.64,39.11 L119.97,39.11 L120.31,39.11 L120.65,39.11 L120.99,39.11 L121.32,39.11 L121.66,39.11 L122.00,39.11 L122.34,39.11 L122.67,39.11 L123.01,39.11 L123.35,39.11 L123.68,39.11 L124.02,39.11 L124.36,39.11 L124.70,39.11 L125.03,39.11 L125.37,39.11 L125.71,39.12 L126.05,39.12 L126.38,39.12 L126.72,39.12 L127.06,39.12 L127.40,39.12 L127.73,39.12 L128.07,39.12 L128.41,39.12 L128.75,39.13 L129.08,39.13 L129.42,39.13 L129.76,39.13 L130.10,39.13 L130.43,39.13 L130.77,39.14 L131.11,39.14 L131.44,39.14 L131.78,39.14 L132.12,39.15 L132.46,39.15 L132.79,39.15 L133.13,39.16 L133.47,39.16 L133.81,39.16 L134.14,39.17 L134.48,39.17 L134.82,39.18 L135.16,39.18 L135.49,39.18 L135.83,39.19 L136.17,39.19 L136.51,39.20 L136.84,39.21 L137.18,39.21 L137.52,39.22 L137.86,39.23 L138.19,39.23 L138.53,39.24 L138.87,39.25 L139.21,39.26 L139.54,39.27 L139.88,39.27 L140.22,39.28 L140.55,39.29 L140.89,39.31 L141.23,39.32 L141.57,39.33 L141.90,39.34 L142.24,39.36 L142.58,39.37 L142.92,39.38 L143.25,39.40 L143.59,39.41 L143.93,39.43 L144.27,39.45 L144.60,39.47 L144.94,39.49 L145.28,39.51 L145.62,39.53 L145.95,39.55 L146.29,39.57 L146.63,39.60 L146.97,39.62 L147.30,39.65 L147.64,39.68 L147.98,39.71 L148.31,39.74 L148.65,39.77 L148.99,39.80 L149.33,39.84 L149.66,39.88 L150.00,39.91 L150.34,39.95 L150.68,40.00 L151.01,40.04 L151.35,40.08 L151.69,40.13 L152.03,40.18 L152.36,40.23 L152.70,40.29 L153.04,40.34 L153.38,40.40 L153.71,40.46 L154.05,40.52 L154.39,40.59 L154.73,40.66 L155.06,40.73 L155.40,40.80 L155.74,40.88 L156.08,40.96 L156.41,41.04 L156.75,41.13 L157.09,41.21 L157.42,41.31 L157.76,41.40 L158.10,41.50 L158.44,41.61 L158.77,41.72 L159.11,41.83 L159.45,41.94 L159.79,42.06 L160.12,42.19 L160.46,42.32 L160.80,42.45 L161.14,42.59 L161.47,42.74 L161.81,42.88 L162.15,43.04 L162.49,43.20 L162.82,43.36 L163.16,43.53 L163.50,43.71 L163.84,43.89 L164.17,44.08 L164.51,44.28 L164.85,44.48 L165.19,44.69 L165.52,44.90 L165.86,45.13 L166.20,45.36 L166.53,45.59 L166.87,45.84 L167.21,46.09 L167.55,46.35 L167.88,46.62 L168.22,46.89 L168.56,47.18 L168.90,47.47 L169.23,47.78 L169.57,48.09 L169.91,48.41 L170.25,48.74 L170.58,49.08 L170.92,49.43 L171.26,49.79 L171.60,50.16 L171.93,50.54 L172.27,50.93 L172.61,51.33 L172.95,51.75 L173.28,52.17 L173.62,52.61 L173.96,53.06 L174.29,53.52 L174.63,53.99 L174.97,54.47 L175.31,54.97 L175.64,55.48 L175.98,56.00 L176.32,56.53 L176.66,57.08 L176.99,57.64 L177.33,58.22 L177.67,58.81 L178.01,59.41 L178.34,60.02 L178.68,60.66 L179.02,61.30 L179.36,61.96 L179.69,62.64 L180.03,63.33 L180.37,64.03 L180.71,64.75 L181.04,65.49 L181.38,66.24 L181.72,67.00 L182.06,67.79 L182.39,68.58 L182.73,69.40 L183.07,70.23 L183.40,71.07 L183.74,71.94 L184.08,72.82 L184.42,73.71 L184.75,74.62 L185.09,75.55 L185.43,76.50 L185.77,77.46 L186.10,78.43 L186.44,79.43 L186.78,80.44 L187.12,81.47 L187.45,82.51 L187.79,83.57 L188.13,84.65 L188.47,85.75 L188.80,86.86 L189.14,87.99 L189.48,89.13 L189.82,90.29 L190.15,91.47 L190.49,92.66 L190.83,93.87 L191.16,95.09 L191.50,96.33 L191.84,97.59 L192.18,98.86 L192.51,100.15 L192.85,101.45 L193.19,102.77 L193.53,104.10 L193.86,105.44 L194.20,106.81 L194.54,108.18 L194.88,109.57 L195.21,110.97 L195.55,112.39 L195.89,113.82 L196.23,115.26 L196.56,116.72 L196.90,118.19 L197.24,119.67 L197.58,121.16 L197.91,122.66 L198.25,124.18 L198.59,125.70 L198.93,127.24 L199.26,128.79 L199.60,130.34 L199.94,131.91 L200.27,133.49 L200.61,135.07 L200.95,136.66 L201.29,138.27 L201.62,139.88 L201.96,141.49 L202.30,143.12 L202.64,144.75 L202.97,146.38 L203.31,148.03 L203.65,149.68 L203.99,151.33 L204.32,152.99 L204.66,154.65 L205.00,156.32 L205.34,157.99 L205.67,159.67 L206.01,161.35 L206.35,163.03 L206.69,164.71 L207.02,166.39 L207.36,168.08 L207.70,169.77 L208.03,171.45 L208.37,173.14 L208.71,174.83 L209.05,176.52 L209.38,178.20 L209.72,179.89 L210.06,181.58 L210.40,183.26 L210.73,184.94 L211.07,186.62 L211.41,188.29 L211.75,189.97 L212.08,191.64 L212.42,193.30 L212.76,194.96 L213.10,196.62 L213.43,198.27 L213.77,199.92 L214.11,201.56 L214.45,203.20 L214.78,204.83 L215.12,206.46 L215.46,208.07 L215.80,209.69 L216.13,211.29 L216.47,212.89 L216.81,214.48 L217.14,216.07 L217.48,217.64 L217.82,219.21 L218.16,220.77 L218.49,222.33 L218.83,223.87 L219.17,225.40 L219.51,226.93 L219.84,228.45 L220.18,229.96 L220.52,231.46 L220.86,232.95 L221.19,234.43 L221.53,235.90 L221.87,237.36 L222.21,238.81 L222.54,240.25 L222.88,241.68 L223.22,243.10 L223.56,244.51 L223.89,245.91 L224.23,247.30 L224.57,248.67 L224.90,250.04 L225.24,251.40 L225.58,252.74 L225.92,254.08 L226.25,255.40 L226.59,256.71 L226.93,258.01 L227.27,259.30 L227.60,260.58 L227.94,261.85 L228.28,263.11 L228.62,264.35 L228.95,265.59 L229.29,266.81 L229.63,268.02 L229.97,269.22 L230.30,270.41 L230.64,271.59 L230.98,272.76 L231.32,273.91 L231.65,275.06 L231.99,276.19 L232.33,277.31 L232.67,278.42 L233.00,279.52 L233.34,280.61 L233.68,281.68 L234.01,282.75 L234.35,283.80 L234.69,284.85 L235.03,285.88 L235.36,286.90 L235.70,287.91 L236.04,288.91 L236.38,289.90 L236.71,290.88 L237.05,291.84 L237.39,292.80 L237.73,293.75 L238.06,294.68 L238.40,295.61 L238.74,296.52 L239.08,297.42 L239.41,298.32 L239.75,299.20 L240.09,300.07 L240.43,300.93 L240.76,301.79 L241.10,302.63 L241.44,303.46 L241.77,304.28 L242.11,305.10 L242.45,305.90 L242.79,306.69 L243.12,307.48 L243.46,308.25 L243.80,309.01 L244.14,309.77 L244.47,310.51 L244.81,311.25 L245.15,311.98 L245.49,312.69 L245.82,313.40 L246.16,314.10 L246.50,314.79 L246.84,315.47 L247.17,316.15 L247.51,316.81 L247.85,317.47 L248.19,318.11 L248.52,318.75 L248.86,319.38 L249.20,320.00 L249.54,320.61 L249.87,321.22 L250.21,321.81 L250.55,322.39 L250.88,322.96 L251.22,323.52 L251.56,324.08 L251.90,324.62 L252.23,325.16 L252.57,325.69 L252.91,326.22 L253.25,326.73 L253.58,327.24 L253.92,327.74 L254.26,328.24 L254.60,328.73 L254.93,329.21 L255.27,329.68 L255.61,330.14 L255.95,330.60 L256.28,331.06 L256.62,331.50 L256.96,331.94 L257.30,332.37 L257.63,332.80 L257.97,333.22 L258.31,333.63 L258.64,334.03 L258.98,334.43 L259.32,334.83 L259.66,335.21 L259.99,335.60 L260.33,335.97 L260.67,336.34 L261.01,336.70 L261.34,337.06 L261.68,337.41 L262.02,337.76 L262.36,338.10 L262.69,338.43 L263.03,338.76 L263.37,339.08 L263.71,339.40 L264.04,339.71 L264.38,340.02 L264.72,340.32 L265.06,340.62 L265.39,340.91 L265.73,341.20 L266.07,341.48 L266.41,341.76 L266.74,342.03 L267.08,342.30 L267.42,342.56 L267.75,342.82 L268.09,343.07 L268.43,343.32 L268.77,343.56 L269.10,343.80 L269.44,344.03 L269.78,344.27 L270.12,344.49 L270.45,344.71 L270.79,344.93 L271.13,345.14 L271.47,345.35 L271.80,345.56 L272.14,345.76 L272.48,345.95 L272.82,346.15 L273.15,346.33 L273.49,346.52 L273.83,346.70 L274.17,346.88 L274.50,347.05 L274.84,347.22 L275.18,347.39 L275.51,347.55 L275.85,347.71 L276.19,347.86 L276.53,348.01 L276.86,348.16 L277.20,348.31 L277.54,348.45 L277.88,348.59 L278.21,348.73 L278.55,348.86 L278.89,348.99 L279.23,349.12 L279.56,349.25 L279.90,349.37 L280.24,349.49 L280.58,349.60 L280.91,349.72 L281.25,349.83 L281.59,349.94 L281.93,350.05 L282.26,350.15 L282.60,350.25 L282.94,350.35 L283.27,350.45 L283.61,350.55 L283.95,350.64 L284.29,350.73 L284.62,350.82 L284.96,350.91 L285.30,351.00 L285.64,351.08 L285.97,351.16 L286.31,351.24 L286.65,351.32 L286.99,351.40 L287.32,351.47 L287.66,351.55 L288.00,351.62 L288.34,351.69 L288.67,351.76 L289.01,351.83 L289.35,351.90 L289.69,351.96 L290.02,352.03 L290.36,352.09 L290.70,352.15 L291.04,352.22 L291.37,352.28 L291.71,352.34 L292.05,352.40 L292.38,352.46 L292.72,352.52 L293.06,352.58 L293.40,352.64 L293.73,352.69 L294.07,352.75 L294.41,352.81 L294.75,352.86 L295.08,352.92 L295.42,352.97 L295.76,353.03 L296.10,353.08 L296.43,353.13 L296.77,353.18 L297.11,353.23 L297.45,353.28 L297.78,353.33 L298.12,353.38 L298.46,353.43 L298.80,353.47 L299.13,353.52 L299.47,353.56 L299.81,353.61 L300.14,353.65 L300.48,353.69 L300.82,353.73 L301.16,353.77 L301.49,353.81 L301.83,353.85 L302.17,353.88 L302.51,353.92 L302.84,353.96 L303.18,353.99 L303.52,354.02 L303.86,354.05 L304.19,354.08 L304.53,354.11 L304.87,354.14 L305.21,354.17 L305.54,354.19 L305.88,354.22 L306.22,354.25 L306.56,354.27 L306.89,354.29 L307.23,354.32 L307.57,354.34 L307.91,354.36 L308.24,354.38 L308.58,354.41 L308.92,354.43 L309.25,354.45 L309.59,354.47 L309.93,354.49 L310.27,354.51 L310.60,354.53 L310.94,354.54 L311.28,354.56 L311.62,354.58 L311.95,354.60 L312.29,354.61 L312.63,354.63 L312.97,354.65 L313.30,354.66 L313.64,354.68 L313.98,354.70 L314.32,354.71 L314.65,354.73 L314.99,354.74 L315.33,354.75 L315.67,354.77 L316.00,354.78 L316.34,354.79 L316.68,354.81 L317.01,354.82 L317.35,354.83 L317.69,354.85 L318.03,354.86 L318.36,354.87 L318.70,354.88 L319.04,354.89 L319.38,354.91 L319.71,354.92 L320.05,354.93 L320.39,354.94 L320.73,354.95 L321.06,354.96 L321.40,354.97 L321.74,354.98 L322.08,354.99 L322.41,355.00 L322.75,355.01 L323.09,355.02 L323.43,355.03 L323.76,355.04 L324.10,355.05 L324.44,355.05 L324.78,355.06 L325.11,355.07 L325.45,355.07 L325.79,355.07 L326.12,355.07 L326.46,355.07 L326.80,355.08 L327.14,355.08 L327.47,355.08 L327.81,355.08 L328.15,355.08 L328.49,355.08 L328.82,355.08 L329.16,355.08 L329.50,355.08 L329.84,355.09 L330.17,355.09 L330.51,355.09 L330.85,355.09 L331.19,355.09 L331.52,355.09 L331.86,355.09 L332.20,355.09 L332.54,355.09 L332.87,355.09 L333.21,355.09 L333.55,355.09 L333.88,355.09 L334.22,355.09 L334.56,355.09 L334.90,355.09 L335.23,355.09 L335.57,355.09 L335.91,355.09 L336.25,355.09 L336.58,355.10 L336.92,355.10 L337.26,355.10 L337.60,355.10 L337.93,355.10 L338.27,355.10 L338.61,355.10 L338.95,355.10 L339.28,355.10 L339.62,355.10 L339.96,355.10 L340.30,355.10 L340.63,355.10 L340.97,355.10 L341.31,355.10 L341.65,355.10 L341.98,355.10 L342.32,355.10 L342.66,355.10 L342.99,355.10 L343.33,355.10 L343.67,355.10 L344.01,355.10 L344.34,355.10 L344.68,355.10 L345.02,355.10 L345.36,355.10 L345.69,355.10 L346.03,355.10 L346.37,355.10 L346.71,355.10 L347.04,355.10 L347.38,355.10 L347.72,355.10 L348.06,355.10 L348.39,355.10 L348.73,355.10 L349.07,355.10 L349.41,355.10 L349.74,355.10 L350.08,355.10 L350.42,355.10 L350.75,355.10 L351.09,355.10 L351.43,355.10 L351.77,355.10 L352.10,355.10 L352.44,355.10 L352.78,355.10 L353.12,355.10 L353.45,355.10 L353.79,355.10 L354.13,355.10 L354.47,355.10 L354.80,355.10 L355.14,355.10 L355.48,355.10 L355.82,355.10 L356.15,355.10 L356.49,355.10 L356.83,355.10 L357.17,355.10 L357.50,355.10 L357.84,355.10 L358.18,355.10 L358.52,355.10 L358.85,355.10 L359.19,355.10 L359.53,355.10 L359.86,355.10 L360.20,355.10 L360.54,355.10 L360.88,355.10 L361.21,355.10 L361.55,355.10 L361.89,355.10 L362.23,355.10 L362.56,355.10 L362.90,355.10 L363.24,355.10 L363.58,355.10 L363.91,355.10 L364.25,355.10 L364.59,355.10 L364.93,355.10 L365.26,355.10 L365.60,355.10 L365.94,355.10 L366.28,355.10 L366.61,355.10 L366.95,355.10 L367.29,355.10 L367.62,355.10 L367.96,355.10 L368.30,355.10 L368.64,355.10 L368.97,355.10 L369.31,355.10 L369.65,355.10 L369.99,355.10 L370.32,355.10 L370.66,355.10 L371.00,355.10 L371.34,355.10 L371.67,355.10 L372.01,355.10 L372.35,355.10 L372.69,355.10 L373.02,355.10 L373.36,355.10 L373.70,355.10 L374.04,355.10 L374.37,355.10 L374.71,355.10 L375.05,355.10 L375.39,355.10 L375.72,355.10 L376.06,355.10 L376.40,355.10 L376.73,355.10 L377.07,355.10 L377.41,355.10 L377.75,355.10 L378.08,355.10 L378.42,355.10 L378.76,355.10 L379.10,355.10 L379.43,355.10 L379.77,355.10 L380.11,355.10 L380.45,355.10 L380.78,355.10 L381.12,355.10 L381.46,355.10 L381.80,355.10 L382.13,355.10 L382.47,355.10 L382.81,355.10 L383.15,355.10 L383.48,355.10 L383.82,355.10 L384.16,355.10 L384.50,355.10 L384.83,355.10 L385.17,355.10 L385.51,355.10 L385.84,355.10 L386.18,355.10 L386.52,355.10 L386.86,355.10 L387.19,355.10 L387.53,355.10 L387.87,355.10 L388.21,355.10 L388.54,355.10 L388.88,355.10 L389.22,355.10 L389.56,355.10 L389.89,355.10 L390.23,355.10 L390.57,355.10 L390.91,355.10 L391.24,355.10 L391.58,355.10 L391.92,355.10 L392.26,355.10 L392.59,355.10 L392.93,355.10 L393.27,355.10 L393.60,355.10 L393.94,355.10 L394.28,355.10 L394.62,355.10 L394.95,355.10 L395.29,355.10 L395.63,355.10 L395.97,355.10 L396.30,355.10 L396.64,355.10 L396.98,355.10 L397.32,355.10 L397.65,355.10 L397.99,355.10 L398.33,355.10 L398.67,355.10 L399.00,355.10 L399.34,355.10 L399.68,355.10 L400.02,355.10 L400.35,355.10 L400.69,355.10 L401.03,355.10 L401.37,355.10 L401.70,355.10 L402.04,355.10 L402.38,355.10 L402.71,355.10 L403.05,355.10 L403.39,355.10 L403.73,355.10 L404.06,355.10 L404.40,355.10 L404.74,355.10 L405.08,355.10 L405.41,355.10 L405.75,355.10 L406.09,355.10 L406.43,355.10 L406.76,355.10 L407.10,355.10 L407.44,355.10 L407.78,355.10 L408.11,355.10 L408.45,355.10 L408.79,355.10 L409.13,355.10 L409.46,355.10 L409.80,355.10 L410.14,355.10 L410.47,355.10 L410.81,355.10 L411.15,355.10 L411.49,355.10 L411.82,355.10 L412.16,355.10 L412.50,355.10 L412.84,355.10 L413.17,355.10 L413.51,355.10 L413.85,355.10 L414.19,355.10 L414.52,355.10 L414.86,355.10 L415.20,355.10 L415.54,355.10 L415.87,355.10 L416.21,355.10 L416.55,355.10 L416.89,355.10 L417.22,355.10 L417.56,355.10 L417.90,355.10 L418.24,355.10 L418.57,355.10 L418.91,355.10 L419.25,355.10 L419.58,355.10 L419.92,355.10 L420.26,355.10 L420.60,355.10 L420.93,355.10 L421.27,355.10 L421.61,355.10 L421.95,355.10 L422.28,355.10 L422.62,355.10 L422.96,355.10 L423.30,355.10 L423.63,355.10 L423.97,355.10 L424.31,355.10 L424.65,355.10 L424.98,355.10 L425.32,355.10 L425.66,355.10 L426.00,355.10 L426.33,355.10 L426.67,355.10 L427.01,355.10 L427.34,355.10 L427.68,355.10 L428.02,355.10 L428.36,355.10 L428.69,355.10 L429.03,355.10 L429.37,355.10 L429.71,355.10 L430.04,355.10 L430.38,355.10 L430.72,355.10 L431.06,355.10 L431.39,355.10 L431.73,355.10 L432.07,355.10 L432.41,355.10 L432.74,355.10 L433.08,355.10 L433.42,355.10 L433.76,355.10 L434.09,355.10 L434.43,355.10 L434.77,355.10 L435.11,355.10 L435.44,355.10 L435.78,355.10 L436.12,355.10 L436.45,355.10 L436.79,355.10 L437.13,355.10 L437.47,355.10 L437.80,355.10 L438.14,355.10 L438.48,355.10 L438.82,355.10 L439.15,355.10 L439.49,355.10 L439.83,355.10 L440.17,355.10 L440.50,355.10 L440.84,355.10 L441.18,355.10 L441.52,355.10 L441.85,355.10 L442.19,355.10 L442.53,355.10 L442.87,355.10 L443.20,355.10 L443.54,355.10 L443.88,355.10 L444.21,355.10 L444.55,355.10 L444.89,355.10 L445.23,355.10 L445.56,355.10 L445.90,355.10 L446.24,355.10 L446.58,355.10 L446.91,355.10 L447.25,355.10 L447.59,355.10 L447.93,355.10 L448.26,355.10 L448.60,355.10 L448.94,355.10 L449.28,355.10 L449.61,355.10 L449.95,355.10 L450.29,355.10 L450.63,355.10 L450.96,355.10 L451.30,355.10 L451.64,355.10 L451.98,355.10 L452.31,355.10 L452.65,355.10 L452.99,355.10 L453.32,355.10 L453.66,355.10 L454.00,355.10 L454.34,355.10 L454.67,355.10 L455.01,355.10 L455.35,355.10 L455.69,355.10 L456.02,355.10 L456.36,355.10 L456.70,355.10 L457.04,355.10 L457.37,355.10 L457.71,355.10 L458.05,355.10 L458.39,355.10 L458.72,355.10 L459.06,355.10 L459.40,355.10 L459.74,355.10 L460.07,355.10 L460.41,355.10 L460.75,355.10 L461.08,355.10 L461.42,355.10 L461.76,355.10 L462.10,355.10 L462.43,355.10 L462.77,355.10 L463.11,355.10 L463.45,355.10 L463.78,355.10 L464.12,355.10 L464.46,355.10 L464.80,355.10 L465.13,355.10 L465.47,355.10 L465.81,355.10 L466.15,355.10 L466.48,355.10 L466.82,355.10 L467.16,355.10 L467.50,355.10 L467.83,355.10 L468.17,355.10 L468.51,355.10 L468.85,355.10 L469.18,355.10 L469.52,355.10 L469.86,355.10 L470.19,355.10 L470.53,355.10 L470.87,355.10 L471.21,355.10 L471.54,355.10 L471.88,355.10 L472.22,355.10 L472.56,355.10 L472.89,355.10 L473.23,355.10 L473.57,355.10 L473.91,355.10 L474.24,355.10 L474.58,355.10 L474.92,355.10 L475.26,355.10 L475.59,355.10 L475.93,355.10 L476.27,355.10 L476.61,355.10 L476.94,355.10 L477.28,355.10 L477.62,355.10 L477.95,355.10 L478.29,355.10 L478.63,355.10 L478.97,355.10 L479.30,355.10 L479.64,355.10 L479.98,355.10 L480.32,355.10 L480.65,355.10 L480.99,355.10 L481.33,355.10 L481.67,355.10 L482.00,355.10 L482.34,355.10 L482.68,355.10 L483.02,355.10 L483.35,355.10 L483.69,355.10 L484.03,355.10 L484.37,355.10 L484.70,355.10 L485.04,355.10 L485.38,355.10 L485.72,355.10 L486.05,355.10 L486.39,355.10 L486.73,355.10 L487.06,355.10 L487.40,355.10 L487.74,355.10 L488.08,355.10 L488.41,355.10 L488.75,355.10 L489.09,355.10 L489.43,355.10 L489.76,355.10 L490.10,355.10 L490.44,355.10 L490.78,355.10 L491.11,355.10 L491.45,355.10 L491.79,355.10 L492.13,355.10 L492.46,355.10 L492.80,355.10 L493.14,355.10 L493.48,355.10 L493.81,355.10 L494.15,355.10 L494.49,355.10 L494.82,355.10 L495.16,355.10 L495.50,355.10 L495.84,355.10 L496.17,355.10 L496.51,355.10 L496.85,355.10 L497.19,355.10 L497.52,355.10 L497.86,355.10 L498.20,355.10 L498.54,355.10 L498.87,355.10 L499.21,355.10 L499.55,355.10 L499.89,355.10 L500.22,355.10 L500.56,355.10 L500.90,355.10 L501.24,355.10 L501.57,355.10 L501.91,355.10 L502.25,355.10 L502.59,355.10 L502.92,355.10 L503.26,355.10 L503.60,355.10 L503.93,355.10 L504.27,355.10 L504.61,355.10 L504.95,355.10 L505.28,355.10 L505.62,355.10 L505.96,355.10 L506.30,355.10 L506.63,355.10 L506.97,355.10 L507.31,355.10 L507.65,355.10 L507.98,355.10 L508.32,355.10 L508.66,355.10 L509.00,355.10 L509.33,355.10 L509.67,355.10 L510.01,355.10 L510.35,355.10 L510.68,355.10 L511.02,355.10 L511.36,355.10 L511.69,355.10 L512.03,355.10 L512.37,355.10 L512.71,355.10 L513.04,355.10 L513.38,355.10 L513.72,355.10 L514.06,355.10 L514.39,355.10 L514.73,355.10 L515.07,355.10 L515.41,355.10 L515.74,355.10 L516.08,355.10 L516.42,355.10 L516.76,355.10 L517.09,355.10 L517.43,355.10 L517.77,355.10 L518.11,355.10 L518.44,355.10 L518.78,355.10 L519.12,355.10 L519.46,355.10 L519.79,355.10 L520.13,355.10 L520.47,355.10 L520.80,355.10 L521.14,355.10 L521.48,355.10 L521.82,355.10 L522.15,355.10 L522.49,355.10 L522.83,355.10 L523.17,355.10 L523.50,355.10 L523.84,355.10 L524.18,355.10 L524.52,355.10 L524.85,355.10 L525.19,355.10 L525.53,355.10 L525.87,355.10 L526.20,355.10 L526.54,355.10 L526.88,355.10 L527.22,355.10 L527.55,355.10 L527.89,355.10 L528.23,355.10 L528.56,355.10 L528.90,355.10 L529.24,355.10 L529.58,355.10 L529.91,355.10 L530.25,355.10 L530.59,355.10 L530.93,355.10 L531.26,355.10 L531.60,355.10 L531.94,355.10 L532.28,355.10 L532.61,355.10 L532.95,355.10 L533.29,355.10 L533.63,355.10 L533.96,355.10 L534.30,355.10 L534.64,355.10 L534.98,355.10 L535.31,355.10 L535.65,355.10 L535.99,355.10 L536.33,355.10 L536.66,355.10 L537.00,355.10 L537.34,355.10 L537.67,355.10 L538.01,355.10 L538.35,355.10 L538.69,355.10 L539.02,355.10 L539.36,355.10 L539.70,355.10 L540.04,355.10 L540.37,355.10 L540.71,355.10 L541.05,355.10 L541.39,355.10 L541.72,355.10 L542.06,355.10 L542.40,355.10 L542.74,355.10 L543.07,355.10 L543.41,355.10 L543.75,355.10 L544.09,355.10 L544.42,355.10 L544.76,355.10" stroke="#006400" stroke-width="1.85" stroke-dasharray="21.2 7.1 3.6 7.0" stroke-dashoffset="0"/>
<path d="M72.40,43.85 L72.74,43.85 L73.07,43.85 L73.41,43.85 L73.75,43.85 L74.09,43.85 L74.42,43.85 L74.76,43.85 L75.10,43.85 L75.44,43.85 L75.77,43.85 L76.11,43.85 L76.45,43.85 L76.79,43.85 L77.12,43.85 L77.46,43.85 L77.80,43.85 L78.14,43.85 L78.47,43.85 L78.81,43.85 L79.15,43.85 L79.49,43.85 L79.82,43.85 L80.16,43.85 L80.50,43.85 L80.84,43.85 L81.17,43.85 L81.51,43.85 L81.85,43.85 L82.18,43.85 L82.52,43.85 L82.86,43.85 L83.20,43.85 L83.53,43.85 L83.87,43.85 L84.21,43.85 L84.55,43.85 L84.88,43.85 L85.22,43.85 L85.56,43.85 L85.90,43.85 L86.23,43.85 L86.57,43.85 L86.91,43.85 L87.25,43.85 L87.58,43.85 L87.92,43.85 L88.26,43.85 L88.60,43.85 L88.93,43.85 L89.27,43.85 L89.61,43.85 L89.94,43.85 L90.28,43.85 L90.62,43.85 L90.96,43.85 L91.29,43.85 L91.63,43.85 L91.97,43.85 L92.31,43.85 L92.64,43.85 L92.98,43.85 L93.32,43.85 L93.66,43.85 L93.99,43.85 L94.33,43.85 L94.67,43.85 L95.01,43.85 L95.34,43.85 L95.68,43.85 L96.02,43.85 L96.36,43.85 L96.69,43.85 L97.03,43.85 L97.37,43.85 L97.71,43.85 L98.04,43.85 L98.38,43.85 L98.72,43.85 L99.05,43.85 L99.39,43.85 L99.73,43.85 L100.07,43.85 L100.40,43.85 L100.74,43.85 L101.08,43.85 L101.42,43.85 L101.75,43.85 L102.09,43.85 L102.43,43.85 L102.77,43.85 L103.10,43.85 L103.44,43.85 L103.78,43.85 L104.12,43.85 L104.45,43.85 L104.79,43.85 L105.13,43.85 L105.47,43.85 L105.80,43.85 L106.14,43.85 L106.48,43.85 L106.81,43.85 L107.15,43.85 L107.49,43.85 L107.83,43.85 L108.16,43.85 L108.50,43.85 L108.84,43.85 L109.18,43.85 L109.51,43.85 L109.85,43.85 L110.19,43.85 L110.53,43.85 L110.86,43.85 L111.20,43.85 L111.54,43.85 L111.88,43.85 L112.21,43.85 L112.55,43.85 L112.89,43.85 L113.23,43.85 L113.56,43.85 L113.90,43.85 L114.24,43.85 L114.58,43.85 L114.91,43.85 L115.25,43.85 L115.59,43.85 L115.92,43.85 L116.26,43.85 L116.60,43.85 L116.94,43.85 L117.27,43.85 L117.61,43.85 L117.95,43.85 L118.29,43.85 L118.62,43.85 L118.96,43.85 L119.30,43.85 L119.64,43.85 L119.97,43.85 L120.31,43.85 L120.65,43.85 L120.99,43.85 L121.32,43.85 L121.66,43.85 L122.00,43.85 L122.34,43.85 L122.67,43.85 L123.01,43.85 L123.35,43.85 L123.68,43.85 L124.02,43.85 L124.36,43.85 L124.70,43.85 L125.03,43.85 L125.37,43.85 L125.71,43.85 L126.05,43.85 L126.38,43.85 L126.72,43.85 L127.06,43.85 L127.40,43.85 L127.73,43.85 L128.07,43.85 L128.41,43.85 L128.75,43.85 L129.08,43.85 L129.42,43.85 L129.76,43.85 L130.10,43.85 L130.43,43.85 L130.77,43.85 L131.11,43.85 L131.44,43.85 L131.78,43.85 L132.12,43.85 L132.46,43.86 L132.79,43.86 L133.13,43.86 L133.47,43.86 L133.81,43.86 L134.14,43.86 L134.48,43.86 L134.82,43.86 L135.16,43.86 L135.49,43.86 L135.83,43.86 L136.17,43.86 L136.51,43.86 L136.84,43.86 L137.18,43.86 L137.52,43.86 L137.86,43.86 L138.19,43.86 L138.53,43.86 L138.87,43.86 L139.21,43.86 L139.54,43.86 L139.88,43.86 L140.22,43.86 L140.55,43.86 L140.89,43.86 L141.23,43.86 L141.57,43.86 L141.90,43.86 L142.24,43.86 L142.58,43.86 L142.92,43.86 L143.25,43.86 L143.59,43.86 L143.93,43.86 L144.27,43.86 L144.60,43.86 L144.94,43.87 L145.28,43.87 L145.62,43.87 L145.95,43.87 L146.29,43.87 L146.63,43.87 L146.97,43.87 L147.30,43.87 L147.64,43.87 L147.98,43.87 L148.31,43.87 L148.65,43.87 L148.99,43.88 L149.33,43.88 L149.66,43.88 L150.00,43.88 L150.34,43.88 L150.68,43.88 L151.01,43.88 L151.35,43.89 L151.69,43.89 L152.03,43.89 L152.36,43.89 L152.70,43.89 L153.04,43.89 L153.38,43.90 L153.71,43.90 L154.05,43.90 L154.39,43.90 L154.73,43.91 L155.06,43.91 L155.40,43.91 L155.74,43.91 L156.08,43.92 L156.41,43.92 L156.75,43.92 L157.09,43.93 L157.42,43.93 L157.76,43.93 L158.10,43.94 L158.44,43.94 L158.77,43.95 L159.11,43.95 L159.45,43.96 L159.79,43.96 L160.12,43.97 L160.46,43.97 L160.80,43.98 L161.14,43.98 L161.47,43.99 L161.81,43.99 L162.15,44.00 L162.49,44.01 L162.82,44.02 L163.16,44.02 L163.50,44.03 L163.84,44.04 L164.17,44.05 L164.51,44.06 L164.85,44.06 L165.19,44.07 L165.52,44.08 L165.86,44.09 L166.20,44.10 L166.53,44.12 L166.87,44.13 L167.21,44.14 L167.55,44.15 L167.88,44.16 L168.22,44.18 L168.56,44.19 L168.90,44.21 L169.23,44.22 L169.57,44.24 L169.91,44.25 L170.25,44.27 L170.58,44.29 L170.92,44.31 L171.26,44.33 L171.60,44.35 L171.93,44.37 L172.27,44.39 L172.61,44.41 L172.95,44.43 L173.28,44.46 L173.62,44.48 L173.96,44.51 L174.29,44.53 L174.63,44.56 L174.97,44.59 L175.31,44.62 L175.64,44.65 L175.98,44.68 L176.32,44.71 L176.66,44.75 L176.99,44.78 L177.33,44.82 L177.67,44.86 L178.01,44.90 L178.34,44.94 L178.68,44.98 L179.02,45.02 L179.36,45.07 L179.69,45.12 L180.03,45.16 L180.37,45.21 L180.71,45.27 L181.04,45.32 L181.38,45.37 L181.72,45.43 L182.06,45.49 L182.39,45.55 L182.73,45.61 L183.07,45.68 L183.40,45.75 L183.74,45.82 L184.08,45.89 L184.42,45.96 L184.75,46.04 L185.09,46.12 L185.43,46.20 L185.77,46.28 L186.10,46.37 L186.44,46.46 L186.78,46.55 L187.12,46.65 L187.45,46.75 L187.79,46.85 L188.13,46.95 L188.47,47.06 L188.80,47.17 L189.14,47.29 L189.48,47.41 L189.82,47.53 L190.15,47.65 L190.49,47.78 L190.83,47.92 L191.16,48.05 L191.50,48.20 L191.84,48.34 L192.18,48.49 L192.51,48.65 L192.85,48.80 L193.19,48.97 L193.53,49.14 L193.86,49.31 L194.20,49.49 L194.54,49.67 L194.88,49.86 L195.21,50.05 L195.55,50.25 L195.89,50.45 L196.23,50.66 L196.56,50.88 L196.90,51.10 L197.24,51.33 L197.58,51.56 L197.91,51.80 L198.25,52.05 L198.59,52.30 L198.93,52.56 L199.26,52.83 L199.60,53.10 L199.94,53.38 L200.27,53.67 L200.61,53.96 L200.95,54.27 L201.29,54.58 L201.62,54.89 L201.96,55.22 L202.30,55.55 L202.64,55.90 L202.97,56.25 L203.31,56.61 L203.65,56.98 L203.99,57.35 L204.32,57.74 L204.66,58.13 L205.00,58.54 L205.34,58.95 L205.67,59.38 L206.01,59.81 L206.35,60.25 L206.69,60.71 L207.02,61.17 L207.36,61.64 L207.70,62.13 L208.03,62.62 L208.37,63.13 L208.71,63.65 L209.05,64.18 L209.38,64.72 L209.72,65.27 L210.06,65.83 L210.40,66.40 L210.73,66.99 L211.07,67.59 L211.41,68.20 L211.75,68.82 L212.08,69.46 L212.42,70.11 L212.76,70.77 L213.10,71.44 L213.43,72.13 L213.77,72.82 L214.11,73.54 L214.45,74.26 L214.78,75.00 L215.12,75.75 L215.46,76.52 L215.80,77.30 L216.13,78.09 L216.47,78.90 L216.81,79.72 L217.14,80.56 L217.48,81.41 L217.82,82.27 L218.16,83.15 L218.49,84.04 L218.83,84.95 L219.17,85.87 L219.51,86.81 L219.84,87.76 L220.18,88.72 L220.52,89.70 L220.86,90.69 L221.19,91.70 L221.53,92.72 L221.87,93.76 L222.21,94.81 L222.54,95.88 L222.88,96.96 L223.22,98.05 L223.56,99.16 L223.89,100.29 L224.23,101.42 L224.57,102.58 L224.90,103.74 L225.24,104.92 L225.58,106.12 L225.92,107.33 L226.25,108.55 L226.59,109.78 L226.93,111.03 L227.27,112.29 L227.60,113.57 L227.94,114.86 L228.28,116.16 L228.62,117.47 L228.95,118.80 L229.29,120.14 L229.63,121.49 L229.97,122.85 L230.30,124.23 L230.64,125.61 L230.98,127.01 L231.32,128.42 L231.65,129.84 L231.99,131.27 L232.33,132.71 L232.67,134.16 L233.00,135.62 L233.34,137.10 L233.68,138.58 L234.01,140.07 L234.35,141.56 L234.69,143.07 L235.03,144.58 L235.36,146.11 L235.70,147.64 L236.04,149.18 L236.38,150.72 L236.71,152.27 L237.05,153.83 L237.39,155.39 L237.73,156.96 L238.06,158.54 L238.40,160.12 L238.74,161.70 L239.08,163.29 L239.41,164.88 L239.75,166.48 L240.09,168.08 L240.43,169.68 L240.76,171.29 L241.10,172.90 L241.44,174.51 L241.77,176.12 L242.11,177.73 L242.45,179.35 L242.79,180.96 L243.12,182.58 L243.46,184.19 L243.80,185.80 L244.14,187.42 L244.47,189.03 L244.81,190.64 L245.15,192.25 L245.49,193.86 L245.82,195.47 L246.16,197.07 L246.50,198.67 L246.84,200.26 L247.17,201.86 L247.51,203.45 L247.85,205.03 L248.19,206.61 L248.52,208.19 L248.86,209.76 L249.20,211.32 L249.54,212.88 L249.87,214.43 L250.21,215.98 L250.55,217.52 L250.88,219.06 L251.22,220.59 L251.56,222.11 L251.90,223.62 L252.23,225.13 L252.57,226.63 L252.91,228.12 L253.25,229.60 L253.58,231.07 L253.92,232.54 L254.26,234.00 L254.60,235.44 L254.93,236.88 L255.27,238.31 L255.61,239.73 L255.95,241.14 L256.28,242.54 L256.62,243.94 L256.96,245.32 L257.30,246.69 L257.63,248.05 L257.97,249.40 L258.31,250.74 L258.64,252.07 L258.98,253.39 L259.32,254.70 L259.66,256.00 L259.99,257.29 L260.33,258.56 L260.67,259.83 L261.01,261.08 L261.34,262.33 L261.68,263.56 L262.02,264.78 L262.36,265.99 L262.69,267.19 L263.03,268.37 L263.37,269.55 L263.71,270.71 L264.04,271.87 L264.38,273.01 L264.72,274.14 L265.06,275.26 L265.39,276.37 L265.73,277.46 L266.07,278.55 L266.41,279.62 L266.74,280.68 L267.08,281.73 L267.42,282.77 L267.75,283.80 L268.09,284.82 L268.43,285.82 L268.77,286.82 L269.10,287.80 L269.44,288.77 L269.78,289.74 L270.12,290.69 L270.45,291.63 L270.79,292.55 L271.13,293.47 L271.47,294.38 L271.80,295.27 L272.14,296.16 L272.48,297.03 L272.82,297.90 L273.15,298.75 L273.49,299.60 L273.83,300.43 L274.17,301.25 L274.50,302.06 L274.84,302.87 L275.18,303.66 L275.51,304.44 L275.85,305.21 L276.19,305.97 L276.53,306.73 L276.86,307.47 L277.20,308.20 L277.54,308.93 L277.88,309.64 L278.21,310.35 L278.55,311.04 L278.89,311.73 L279.23,312.41 L279.56,313.08 L279.90,313.74 L280.24,314.39 L280.58,315.03 L280.91,315.66 L281.25,316.29 L281.59,316.90 L281.93,317.51 L282.26,318.11 L282.60,318.70 L282.94,319.29 L283.27,319.86 L283.61,320.43 L283.95,320.99 L284.29,321.54 L284.62,322.08 L284.96,322.62 L285.30,323.15 L285.64,323.67 L285.97,324.18 L286.31,324.69 L286.65,325.19 L286.99,325.68 L287.32,326.16 L287.66,326.64 L288.00,327.11 L288.34,327.58 L288.67,328.03 L289.01,328.48 L289.35,328.93 L289.69,329.37 L290.02,329.80 L290.36,330.22 L290.70,330.64 L291.04,331.05 L291.37,331.46 L291.71,331.86 L292.05,332.25 L292.38,332.64 L292.72,333.03 L293.06,333.40 L293.40,333.77 L293.73,334.14 L294.07,334.50 L294.41,334.85 L294.75,335.20 L295.08,335.55 L295.42,335.89 L295.76,336.22 L296.10,336.55 L296.43,336.87 L296.77,337.19 L297.11,337.51 L297.45,337.81 L297.78,338.12 L298.12,338.42 L298.46,338.71 L298.80,339.00 L299.13,339.29 L299.47,339.57 L299.81,339.85 L300.14,340.12 L300.48,340.39 L300.82,340.65 L301.16,340.91 L301.49,341.17 L301.83,341.42 L302.17,341.67 L302.51,341.91 L302.84,342.15 L303.18,342.38 L303.52,342.62 L303.86,342.85 L304.19,343.07 L304.53,343.29 L304.87,343.51 L305.21,343.72 L305.54,343.93 L305.88,344.14 L306.22,344.34 L306.56,344.54 L306.89,344.74 L307.23,344.94 L307.57,345.13 L307.91,345.31 L308.24,345.50 L308.58,345.68 L308.92,345.86 L309.25,346.03 L309.59,346.21 L309.93,346.38 L310.27,346.54 L310.60,346.71 L310.94,346.87 L311.28,347.03 L311.62,347.18 L311.95,347.34 L312.29,347.49 L312.63,347.63 L312.97,347.78 L313.30,347.92 L313.64,348.06 L313.98,348.20 L314.32,348.34 L314.65,348.47 L314.99,348.60 L315.33,348.73 L315.67,348.86 L316.00,348.98 L316.34,349.11 L316.68,349.23 L317.01,349.34 L317.35,349.46 L317.69,349.57 L318.03,349.69 L318.36,349.80 L318.70,349.90 L319.04,350.01 L319.38,350.11 L319.71,350.22 L320.05,350.32 L320.39,350.41 L320.73,350.51 L321.06,350.61 L321.40,350.70 L321.74,350.79 L322.08,350.88 L322.41,350.97 L322.75,351.06 L323.09,351.14 L323.43,351.23 L323.76,351.31 L324.10,351.39 L324.44,351.47 L324.78,351.55 L325.11,351.62 L325.45,351.70 L325.79,351.77 L326.12,351.84 L326.46,351.91 L326.80,351.98 L327.14,352.05 L327.47,352.12 L327.81,352.18 L328.15,352.25 L328.49,352.31 L328.82,352.37 L329.16,352.43 L329.50,352.49 L329.84,352.55 L330.17,352.61 L330.51,352.66 L330.85,352.72 L331.19,352.77 L331.52,352.82 L331.86,352.87 L332.20,352.93 L332.54,352.97 L332.87,353.02 L333.21,353.07 L333.55,353.12 L333.88,353.16 L334.22,353.21 L334.56,353.25 L334.90,353.30 L335.23,353.34 L335.57,353.38 L335.91,353.42 L336.25,353.46 L336.58,353.50 L336.92,353.54 L337.26,353.57 L337.60,353.61 L337.93,353.65 L338.27,353.68 L338.61,353.71 L338.95,353.75 L339.28,353.78 L339.62,353.81 L339.96,353.84 L340.30,353.87 L340.63,353.91 L340.97,353.93 L341.31,353.96 L341.65,353.99 L341.98,354.02 L342.32,354.05 L342.66,354.07 L342.99,354.10 L343.33,354.12 L343.67,354.15 L344.01,354.17 L344.34,354.20 L344.68,354.22 L345.02,354.24 L345.36,354.26 L345.69,354.28 L346.03,354.31 L346.37,354.33 L346.71,354.35 L347.04,354.37 L347.38,354.39 L347.72,354.40 L348.06,354.42 L348.39,354.44 L348.73,354.46 L349.07,354.47 L349.41,354.49 L349.74,354.51 L350.08,354.52 L350.42,354.54 L350.75,354.55 L351.09,354.57 L351.43,354.58 L351.77,354.60 L352.10,354.61 L352.44,354.62 L352.78,354.64 L353.12,354.65 L353.45,354.66 L353.79,354.68 L354.13,354.69 L354.47,354.70 L354.80,354.71 L355.14,354.72 L355.48,354.73 L355.82,354.74 L356.15,354.75 L356.49,354.76 L356.83,354.77 L357.17,354.78 L357.50,354.79 L357.84,354.80 L358.18,354.81 L358.52,354.82 L358.85,354.82 L359.19,354.83 L359.53,354.84 L359.86,354.85 L360.20,354.86 L360.54,354.86 L360.88,354.87 L361.21,354.88 L361.55,354.88 L361.89,354.89 L362.23,354.90 L362.56,354.90 L362.90,354.91 L363.24,354.91 L363.58,354.92 L363.91,354.93 L364.25,354.93 L364.59,354.94 L364.93,354.94 L365.26,354.95 L365.60,354.95 L365.94,354.96 L366.28,354.96 L366.61,354.96 L366.95,354.97 L367.29,354.97 L367.62,354.98 L367.96,354.98 L368.30,354.99 L368.64,354.99 L368.97,354.99 L369.31,355.00 L369.65,355.00 L369.99,355.00 L370.32,355.01 L370.66,355.01 L371.00,355.01 L371.34,355.01 L371.67,355.02 L372.01,355.02 L372.35,355.02 L372.69,355.03 L373.02,355.03 L373.36,355.03 L373.70,355.03 L374.04,355.04 L374.37,355.04 L374.71,355.04 L375.05,355.04 L375.39,355.04 L375.72,355.05 L376.06,355.05 L376.40,355.05 L376.73,355.05 L377.07,355.05 L377.41,355.05 L377.75,355.06 L378.08,355.06 L378.42,355.06 L378.76,355.06 L379.10,355.06 L379.43,355.06 L379.77,355.06 L380.11,355.07 L380.45,355.07 L380.78,355.07 L381.12,355.07 L381.46,355.07 L381.80,355.07 L382.13,355.07 L382.47,355.07 L382.81,355.07 L383.15,355.08 L383.48,355.08 L383.82,355.08 L384.16,355.08 L384.50,355.08 L384.83,355.08 L385.17,355.08 L385.51,355.08 L385.84,355.08 L386.18,355.08 L386.52,355.08 L386.86,355.08 L387.19,355.08 L387.53,355.09 L387.87,355.09 L388.21,355.09 L388.54,355.09 L388.88,355.09 L389.22,355.09 L389.56,355.09 L389.89,355.09 L390.23,355.09 L390.57,355.09 L390.91,355.09 L391.24,355.09 L391.58,355.09 L391.92,355.09 L392.26,355.09 L392.59,355.09 L392.93,355.09 L393.27,355.09 L393.60,355.09 L393.94,355.09 L394.28,355.09 L394.62,355.09 L394.95,355.09 L395.29,355.09 L395.63,355.09 L395.97,355.09 L396.30,355.10 L396.64,355.10 L396.98,355.10 L397.32,355.10 L397.65,355.10 L397.99,355.10 L398.33,355.10 L398.67,355.10 L399.00,355.10 L399.34,355.10 L399.68,355.10 L400.02,355.10 L400.35,355.10 L400.69,355.10 L401.03,355.10 L401.37,355.10 L401.70,355.10 L402.04,355.10 L402.38,355.10 L402.71,355.10 L403.05,355.10 L403.39,355.10 L403.73,355.10 L404.06,355.10 L404.40,355.10 L404.74,355.10 L405.08,355.10 L405.41,355.10 L405.75,355.10 L406.09,355.10 L406.43,355.10 L406.76,355.10 L407.10,355.10 L407.44,355.10 L407.78,355.10 L408.11,355.10 L408.45,355.10 L408.79,355.10 L409.13,355.10 L409.46,355.10 L409.80,355.10 L410.14,355.10 L410.47,355.10 L410.81,355.10 L411.15,355.10 L411.49,355.10 L411.82,355.10 L412.16,355.10 L412.50,355.10 L412.84,355.10 L413.17,355.10 L413.51,355.10 L413.85,355.10 L414.19,355.10 L414.52,355.10 L414.86,355.10 L415.20,355.10 L415.54,355.10 L415.87,355.10 L416.21,355.10 L416.55,355.10 L416.89,355.10 L417.22,355.10 L417.56,355.10 L417.90,355.10 L418.24,355.10 L418.57,355.10 L418.91,355.10 L419.25,355.10 L419.58,355.10 L419.92,355.10 L420.26,355.10 L420.60,355.10 L420.93,355.10 L421.27,355.10 L421.61,355.10 L421.95,355.10 L422.28,355.10 L422.62,355.10 L422.96,355.10 L423.30,355.10 L423.63,355.10 L423.97,355.10 L424.31,355.10 L424.65,355.10 L424.98,355.10 L425.32,355.10 L425.66,355.10 L426.00,355.10 L426.33,355.10 L426.67,355.10 L427.01,355.10 L427.34,355.10 L427.68,355.10 L428.02,355.10 L428.36,355.10 L428.69,355.10 L429.03,355.10 L429.37,355.10 L429.71,355.10 L430.04,355.10 L430.38,355.10 L430.72,355.10 L431.06,355.10 L431.39,355.10 L431.73,355.10 L432.07,355.10 L432.41,355.10 L432.74,355.10 L433.08,355.10 L433.42,355.10 L433.76,355.10 L434.09,355.10 L434.43,355.10 L434.77,355.10 L435.11,355.10 L435.44,355.10 L435.78,355.10 L436.12,355.10 L436.45,355.10 L436.79,355.10 L437.13,355.10 L437.47,355.10 L437.80,355.10 L438.14,355.10 L438.48,355.10 L438.82,355.10 L439.15,355.10 L439.49,355.10 L439.83,355.10 L440.17,355.10 L440.50,355.10 L440.84,355.10 L441.18,355.10 L441.52,355.10 L441.85,355.10 L442.19,355.10 L442.53,355.10 L442.87,355.10 L443.20,355.10 L443.54,355.10 L443.88,355.10 L444.21,355.10 L444.55,355.10 L444.89,355.10 L445.23,355.10 L445.56,355.10 L445.90,355.10 L446.24,355.10 L446.58,355.10 L446.91,355.10 L447.25,355.10 L447.59,355.10 L447.93,355.10 L448.26,355.10 L448.60,355.10 L448.94,355.10 L449.28,355.10 L449.61,355.10 L449.95,355.10 L450.29,355.10 L450.63,355.10 L450.96,355.10 L451.30,355.10 L451.64,355.10 L451.98,355.10 L452.31,355.10 L452.65,355.10 L452.99,355.10 L453.32,355.10 L453.66,355.10 L454.00,355.10 L454.34,355.10 L454.67,355.10 L455.01,355.10 L455.35,355.10 L455.69,355.10 L456.02,355.10 L456.36,355.10 L456.70,355.10 L457.04,355.10 L457.37,355.10 L457.71,355.10 L458.05,355.10 L458.39,355.10 L458.72,355.10 L459.06,355.10 L459.40,355.10 L459.74,355.10 L460.07,355.10 L460.41,355.10 L460.75,355.10 L461.08,355.10 L461.42,355.10 L461.76,355.10 L462.10,355.10 L462.43,355.10 L462.77,355.10 L463.11,355.10 L463.45,355.10 L463.78,355.10 L464.12,355.10 L464.46,355.10 L464.80,355.10 L465.13,355.10 L465.47,355.10 L465.81,355.10 L466.15,355.10 L466.48,355.10 L466.82,355.10 L467.16,355.10 L467.50,355.10 L467.83,355.10 L468.17,355.10 L468.51,355.10 L468.85,355.10 L469.18,355.10 L469.52,355.10 L469.86,355.10 L470.19,355.10 L470.53,355.10 L470.87,355.10 L471.21,355.10 L471.54,355.10 L471.88,355.10 L472.22,355.10 L472.56,355.10 L472.89,355.10 L473.23,355.10 L473.57,355.10 L473.91,355.10 L474.24,355.10 L474.58,355.10 L474.92,355.10 L475.26,355.10 L475.59,355.10 L475.93,355.10 L476.27,355.10 L476.61,355.10 L476.94,355.10 L477.28,355.10 L477.62,355.10 L477.95,355.10 L478.29,355.10 L478.63,355.10 L478.97,355.10 L479.30,355.10 L479.64,355.10 L479.98,355.10 L480.32,355.10 L480.65,355.10 L480.99,355.10 L481.33,355.10 L481.67,355.10 L482.00,355.10 L482.34,355.10 L482.68,355.10 L483.02,355.10 L483.35,355.10 L483.69,355.10 L484.03,355.10 L484.37,355.10 L484.70,355.10 L485.04,355.10 L485.38,355.10 L485.72,355.10 L486.05,355.10 L486.39,355.10 L486.73,355.10 L487.06,355.10 L487.40,355.10 L487.74,355.10 L488.08,355.10 L488.41,355.10 L488.75,355.10 L489.09,355.10 L489.43,355.10 L489.76,355.10 L490.10,355.10 L490.44,355.10 L490.78,355.10 L491.11,355.10 L491.45,355.10 L491.79,355.10 L492.13,355.10 L492.46,355.10 L492.80,355.10 L493.14,355.10 L493.48,355.10 L493.81,355.10 L494.15,355.10 L494.49,355.10 L494.82,355.10 L495.16,355.10 L495.50,355.10 L495.84,355.10 L496.17,355.10 L496.51,355.10 L496.85,355.10 L497.19,355.10 L497.52,355.10 L497.86,355.10 L498.20,355.10 L498.54,355.10 L498.87,355.10 L499.21,355.10 L499.55,355.10 L499.89,355.10 L500.22,355.10 L500.56,355.10 L500.90,355.10 L501.24,355.10 L501.57,355.10 L501.91,355.10 L502.25,355.10 L502.59,355.10 L502.92,355.10 L503.26,355.10 L503.60,355.10 L503.93,355.10 L504.27,355.10 L504.61,355.10 L504.95,355.10 L505.28,355.10 L505.62,355.10 L505.96,355.10 L506.30,355.10 L506.63,355.10 L506.97,355.10 L507.31,355.10 L507.65,355.10 L507.98,355.10 L508.32,355.10 L508.66,355.10 L509.00,355.10 L509.33,355.10 L509.67,355.10 L510.01,355.10 L510.35,355.10 L510.68,355.10 L511.02,355.10 L511.36,355.10 L511.69,355.10 L512.03,355.10 L512.37,355.10 L512.71,355.10 L513.04,355.10 L513.38,355.10 L513.72,355.10 L514.06,355.10 L514.39,355.10 L514.73,355.10 L515.07,355.10 L515.41,355.10 L515.74,355.10 L516.08,355.10 L516.42,355.10 L516.76,355.10 L517.09,355.10 L517.43,355.10 L517.77,355.10 L518.11,355.10 L518.44,355.10 L518.78,355.10 L519.12,355.10 L519.46,355.10 L519.79,355.10 L520.13,355.10 L520.47,355.10 L520.80,355.10 L521.14,355.10 L521.48,355.10 L521.82,355.10 L522.15,355.10 L522.49,355.10 L522.83,355.10 L523.17,355.10 L523.50,355.10 L523.84,355.10 L524.18,355.10 L524.52,355.10 L524.85,355.10 L525.19,355.10 L525.53,355.10 L525.87,355.10 L526.20,355.10 L526.54,355.10 L526.88,355.10 L527.22,355.10 L527.55,355.10 L527.89,355.10 L528.23,355.10 L528.56,355.10 L528.90,355.10 L529.24,355.10 L529.58,355.10 L529.91,355.10 L530.25,355.10 L530.59,355.10 L530.93,355.10 L531.26,355.10 L531.60,355.10 L531.94,355.10 L532.28,355.10 L532.61,355.10 L532.95,355.10 L533.29,355.10 L533.63,355.10 L533.96,355.10 L534.30,355.10 L534.64,355.10 L534.98,355.10 L535.31,355.10 L535.65,355.10 L535.99,355.10 L536.33,355.10 L536.66,355.10 L537.00,355.10 L537.34,355.10 L537.67,355.10 L538.01,355.10 L538.35,355.10 L538.69,355.10 L539.02,355.10 L539.36,355.10 L539.70,355.10 L540.04,355.10 L540.37,355.10 L540.71,355.10 L541.05,355.10 L541.39,355.10 L541.72,355.10 L542.06,355.10 L542.40,355.10 L542.74,355.10 L543.07,355.10 L543.41,355.10 L543.75,355.10 L544.09,355.10 L544.42,355.10 L544.76,355.10" stroke="#ff0000" stroke-width="1.85" stroke-dasharray="10.5 10.5 3.6 10.7" stroke-dashoffset="0"/>
<path d="M72.40,49.05 L72.74,49.05 L73.07,49.05 L73.41,49.05 L73.75,49.05 L74.09,49.05 L74.42,49.05 L74.76,49.05 L75.10,49.05 L75.44,49.05 L75.77,49.05 L76.11,49.05 L76.45,49.05 L76.79,49.05 L77.12,49.05 L77.46,49.05 L77.80,49.05 L78.14,49.05 L78.47,49.05 L78.81,49.05 L79.15,49.05 L79.49,49.05 L79.82,49.05 L80.16,49.05 L80.50,49.05 L80.84,49.05 L81.17,49.05 L81.51,49.05 L81.85,49.05 L82.18,49.05 L82.52,49.05 L82.86,49.05 L83.20,49.05 L83.53,49.05 L83.87,49.05 L84.21,49.05 L84.55,49.05 L84.88,49.05 L85.22,49.05 L85.56,49.05 L85.90,49.05 L86.23,49.05 L86.57,49.05 L86.91,49.05 L87.25,49.05 L87.58,49.05 L87.92,49.05 L88.26,49.05 L88.60,49.05 L88.93,49.05 L89.27,49.05 L89.61,49.05 L89.94,49.05 L90.28,49.05 L90.62,49.05 L90.96,49.05 L91.29,49.05 L91.63,49.05 L91.97,49.05 L92.31,49.05 L92.64,49.05 L92.98,49.05 L93.32,49.05 L93.66,49.05 L93.99,49.05 L94.33,49.05 L94.67,49.05 L95.01,49.05 L95.34,49.05 L95.68,49.05 L96.02,49.05 L96.36,49.05 L96.69,49.05 L97.03,49.05 L97.37,49.05 L97.71,49.05 L98.04,49.05 L98.38,49.05 L98.72,49.05 L99.05,49.05 L99.39,49.05 L99.73,49.05 L100.07,49.05 L100.40,49.05 L100.74,49.05 L101.08,49.05 L101.42,49.05 L101.75,49.05 L102.09,49.05 L102.43,49.05 L102.77,49.05 L103.10,49.05 L103.44,49.05 L103.78,49.05 L104.12,49.05 L104.45,49.05 L104.79,49.05 L105.13,49.05 L105.47,49.05 L105.80,49.05 L106.14,49.05 L106.48,49.05 L106.81,49.05 L107.15,49.05 L107.49,49.05 L107.83,49.05 L108.16,49.05 L108.50,49.05 L108.84,49.05 L109.18,49.05 L109.51,49.05 L109.85,49.05 L110.19,49.05 L110.53,49.05 L110.86,49.05 L111.20,49.05 L111.54,49.05 L111.88,49.05 L112.21,49.05 L112.55,49.05 L112.89,49.05 L113.23,49.05 L113.56,49.05 L113.90,49.05 L114.24,49.05 L114.58,49.05 L114.91,49.05 L115.25,49.05 L115.59,49.05 L115.92,49.05 L116.26,49.05 L116.60,49.05 L116.94,49.05 L117.27,49.05 L117.61,49.05 L117.95,49.05 L118.29,49.05 L118.62,49.05 L118.96,49.05 L119.30,49.05 L119.64,49.05 L119.97,49.05 L120.31,49.05 L120.65,49.05 L120.99,49.05 L121.32,49.05 L121.66,49.05 L122.00,49.05 L122.34,49.05 L122.67,49.05 L123.01,49.05 L123.35,49.05 L123.68,49.05 L124.02,49.05 L124.36,49.05 L124.70,49.05 L125.03,49.05 L125.37,49.05 L125.71,49.05 L126.05,49.05 L126.38,49.05 L126.72,49.05 L127.06,49.05 L127.40,49.05 L127.73,49.05 L128.07,49.05 L128.41,49.05 L128.75,49.05 L129.08,49.05 L129.42,49.05 L129.76,49.05 L130.10,49.05 L130.43,49.05 L130.77,49.05 L131.11,49.05 L131.44,49.05 L131.78,49.05 L132.12,49.05 L132.46,49.05 L132.79,49.05 L133.13,49.05 L133.47,49.05 L133.81,49.05 L134.14,49.05 L134.48,49.05 L134.82,49.05 L135.16,49.05 L135.49,49.05 L135.83,49.05 L136.17,49.05 L136.51,49.05 L136.84,49.05 L137.18,49.05 L137.52,49.05 L137.86,49.05 L138.19,49.05 L138.53,49.05 L138.87,49.05 L139.21,49.05 L139.54,49.05 L139.88,49.05 L140.22,49.05 L140.55,49.05 L140.89,49.05 L141.23,49.05 L141.57,49.05 L141.90,49.05 L142.24,49.05 L142.58,49.05 L142.92,49.05 L143.25,49.05 L143.59,49.05 L143.93,49.05 L144.27,49.05 L144.60,49.05 L144.94,49.05 L145.28,49.05 L145.62,49.05 L145.95,49.05 L146.29,49.05 L146.63,49.05 L146.97,49.05 L147.30,49.05 L147.64,49.05 L147.98,49.05 L148.31,49.05 L148.65,49.05 L148.99,49.05 L149.33,49.05 L149.66,49.05 L150.00,49.05 L150.34,49.05 L150.68,49.05 L151.01,49.05 L151.35,49.05 L151.69,49.05 L152.03,49.05 L152.36,49.05 L152.70,49.05 L153.04,49.05 L153.38,49.05 L153.71,49.05 L154.05,49.05 L154.39,49.05 L154.73,49.05 L155.06,49.05 L155.40,49.05 L155.74,49.05 L156.08,49.05 L156.41,49.05 L156.75,49.05 L157.09,49.05 L157.42,49.05 L157.76,49.05 L158.10,49.05 L158.44,49.05 L158.77,49.05 L159.11,49.05 L159.45,49.05 L159.79,49.05 L160.12,49.05 L160.46,49.05 L160.80,49.05 L161.14,49.05 L161.47,49.05 L161.81,49.05 L162.15,49.05 L162.49,49.05 L162.82,49.05 L163.16,49.05 L163.50,49.05 L163.84,49.05 L164.17,49.05 L164.51,49.05 L164.85,49.05 L165.19,49.05 L165.52,49.05 L165.86,49.05 L166.20,49.05 L166.53,49.05 L166.87,49.05 L167.21,49.05 L167.55,49.05 L167.88,49.05 L168.22,49.05 L168.56,49.05 L168.90,49.05 L169.23,49.05 L169.57,49.05 L169.91,49.05 L170.25,49.05 L170.58,49.05 L170.92,49.05 L171.26,49.05 L171.60,49.05 L171.93,49.05 L172.27,49.05 L172.61,49.05 L172.95,49.05 L173.28,49.05 L173.62,49.05 L173.96,49.05 L174.29,49.05 L174.63,49.05 L174.97,49.05 L175.31,49.05 L175.64,49.05 L175.98,49.05 L176.32,49.05 L176.66,49.05 L176.99,49.05 L177.33,49.05 L177.67,49.05 L178.01,49.05 L178.34,49.05 L178.68,49.05 L179.02,49.05 L179.36,49.05 L179.69,49.05 L180.03,49.05 L180.37,49.05 L180.71,49.05 L181.04,49.05 L181.38,49.05 L181.72,49.05 L182.06,49.05 L182.39,49.05 L182.73,49.05 L183.07,49.05 L183.40,49.05 L183.74,49.05 L184.08,49.05 L184.42,49.05 L184.75,49.05 L185.09,49.05 L185.43,49.05 L185.77,49.05 L186.10,49.05 L186.44,49.05 L186.78,49.05 L187.12,49.05 L187.45,49.05 L187.79,49.05 L188.13,49.05 L188.47,49.05 L188.80,49.05 L189.14,49.05 L189.48,49.05 L189.82,49.05 L190.15,49.05 L190.49,49.05 L190.83,49.05 L191.16,49.05 L191.50,49.05 L191.84,49.05 L192.18,49.05 L192.51,49.05 L192.85,49.06 L193.19,49.06 L193.53,49.06 L193.86,49.06 L194.20,49.06 L194.54,49.06 L194.88,49.06 L195.21,49.06 L195.55,49.06 L195.89,49.06 L196.23,49.06 L196.56,49.06 L196.90,49.06 L197.24,49.06 L197.58,49.06 L197.91,49.06 L198.25,49.06 L198.59,49.06 L198.93,49.07 L199.26,49.07 L199.60,49.07 L199.94,49.07 L200.27,49.07 L200.61,49.07 L200.95,49.07 L201.29,49.07 L201.62,49.07 L201.96,49.07 L202.30,49.08 L202.64,49.08 L202.97,49.08 L203.31,49.08 L203.65,49.08 L203.99,49.08 L204.32,49.09 L204.66,49.09 L205.00,49.09 L205.34,49.09 L205.67,49.09 L206.01,49.10 L206.35,49.10 L206.69,49.10 L207.02,49.10 L207.36,49.11 L207.70,49.11 L208.03,49.11 L208.37,49.12 L208.71,49.12 L209.05,49.12 L209.38,49.13 L209.72,49.13 L210.06,49.14 L210.40,49.14 L210.73,49.15 L211.07,49.15 L211.41,49.16 L211.75,49.16 L212.08,49.17 L212.42,49.17 L212.76,49.18 L213.10,49.18 L213.43,49.19 L213.77,49.20 L214.11,49.21 L214.45,49.21 L214.78,49.22 L215.12,49.23 L215.46,49.24 L215.80,49.25 L216.13,49.26 L216.47,49.27 L216.81,49.28 L217.14,49.29 L217.48,49.30 L217.82,49.31 L218.16,49.32 L218.49,49.33 L218.83,49.35 L219.17,49.36 L219.51,49.37 L219.84,49.39 L220.18,49.40 L220.52,49.42 L220.86,49.44 L221.19,49.45 L221.53,49.47 L221.87,49.49 L222.21,49.51 L222.54,49.53 L222.88,49.55 L223.22,49.57 L223.56,49.60 L223.89,49.62 L224.23,49.64 L224.57,49.67 L224.90,49.70 L225.24,49.72 L225.58,49.75 L225.92,49.78 L226.25,49.81 L226.59,49.85 L226.93,49.88 L227.27,49.91 L227.60,49.95 L227.94,49.99 L228.28,50.02 L228.62,50.06 L228.95,50.11 L229.29,50.15 L229.63,50.19 L229.97,50.24 L230.30,50.29 L230.64,50.34 L230.98,50.39 L231.32,50.44 L231.65,50.49 L231.99,50.55 L232.33,50.61 L232.67,50.67 L233.00,50.73 L233.34,50.80 L233.68,50.86 L234.01,50.93 L234.35,51.00 L234.69,51.08 L235.03,51.15 L235.36,51.23 L235.70,51.31 L236.04,51.40 L236.38,51.48 L236.71,51.57 L237.05,51.67 L237.39,51.76 L237.73,51.86 L238.06,51.96 L238.40,52.07 L238.74,52.17 L239.08,52.29 L239.41,52.40 L239.75,52.52 L240.09,52.64 L240.43,52.77 L240.76,52.90 L241.10,53.03 L241.44,53.17 L241.77,53.31 L242.11,53.46 L242.45,53.61 L242.79,53.76 L243.12,53.92 L243.46,54.08 L243.80,54.25 L244.14,54.42 L244.47,54.60 L244.81,54.79 L245.15,54.97 L245.49,55.17 L245.82,55.37 L246.16,55.57 L246.50,55.78 L246.84,56.00 L247.17,56.22 L247.51,56.44 L247.85,56.68 L248.19,56.92 L248.52,57.16 L248.86,57.42 L249.20,57.68 L249.54,57.94 L249.87,58.21 L250.21,58.49 L250.55,58.78 L250.88,59.07 L251.22,59.38 L251.56,59.68 L251.90,60.00 L252.23,60.32 L252.57,60.66 L252.91,61.00 L253.25,61.34 L253.58,61.70 L253.92,62.06 L254.26,62.44 L254.60,62.82 L254.93,63.21 L255.27,63.61 L255.61,64.02 L255.95,64.43 L256.28,64.86 L256.62,65.30 L256.96,65.74 L257.30,66.20 L257.63,66.66 L257.97,67.14 L258.31,67.63 L258.64,68.12 L258.98,68.63 L259.32,69.14 L259.66,69.67 L259.99,70.21 L260.33,70.76 L260.67,71.32 L261.01,71.89 L261.34,72.47 L261.68,73.06 L262.02,73.66 L262.36,74.28 L262.69,74.91 L263.03,75.55 L263.37,76.20 L263.71,76.86 L264.04,77.53 L264.38,78.22 L264.72,78.92 L265.06,79.63 L265.39,80.35 L265.73,81.08 L266.07,81.83 L266.41,82.59 L266.74,83.36 L267.08,84.15 L267.42,84.94 L267.75,85.75 L268.09,86.58 L268.43,87.41 L268.77,88.26 L269.10,89.12 L269.44,89.99 L269.78,90.88 L270.12,91.78 L270.45,92.69 L270.79,93.61 L271.13,94.55 L271.47,95.50 L271.80,96.46 L272.14,97.43 L272.48,98.42 L272.82,99.42 L273.15,100.44 L273.49,101.46 L273.83,102.50 L274.17,103.55 L274.50,104.61 L274.84,105.69 L275.18,106.77 L275.51,107.87 L275.85,108.98 L276.19,110.11 L276.53,111.24 L276.86,112.39 L277.20,113.55 L277.54,114.72 L277.88,115.90 L278.21,117.09 L278.55,118.29 L278.89,119.51 L279.23,120.73 L279.56,121.97 L279.90,123.21 L280.24,124.47 L280.58,125.74 L280.91,127.01 L281.25,128.30 L281.59,129.59 L281.93,130.90 L282.26,132.21 L282.60,133.54 L282.94,134.87 L283.27,136.21 L283.61,137.56 L283.95,138.91 L284.29,140.28 L284.62,141.65 L284.96,143.03 L285.30,144.42 L285.64,145.81 L285.97,147.21 L286.31,148.62 L286.65,150.03 L286.99,151.45 L287.32,152.87 L287.66,154.30 L288.00,155.74 L288.34,157.18 L288.67,158.63 L289.01,160.08 L289.35,161.53 L289.69,162.99 L290.02,164.45 L290.36,165.91 L290.70,167.38 L291.04,168.85 L291.37,170.32 L291.71,171.80 L292.05,173.28 L292.38,174.76 L292.72,176.24 L293.06,177.72 L293.40,179.20 L293.73,180.68 L294.07,182.17 L294.41,183.65 L294.75,185.14 L295.08,186.62 L295.42,188.10 L295.76,189.59 L296.10,191.07 L296.43,192.55 L296.77,194.03 L297.11,195.50 L297.45,196.98 L297.78,198.45 L298.12,199.92 L298.46,201.39 L298.80,202.85 L299.13,204.31 L299.47,205.77 L299.81,207.22 L300.14,208.67 L300.48,210.12 L300.82,211.56 L301.16,213.00 L301.49,214.43 L301.83,215.86 L302.17,217.28 L302.51,218.70 L302.84,220.11 L303.18,221.52 L303.52,222.92 L303.86,224.32 L304.19,225.70 L304.53,227.09 L304.87,228.46 L305.21,229.83 L305.54,231.20 L305.88,232.55 L306.22,233.90 L306.56,235.24 L306.89,236.58 L307.23,237.91 L307.57,239.23 L307.91,240.54 L308.24,241.84 L308.58,243.14 L308.92,244.43 L309.25,245.71 L309.59,246.98 L309.93,248.25 L310.27,249.50 L310.60,250.75 L310.94,251.99 L311.28,253.22 L311.62,254.44 L311.95,255.66 L312.29,256.86 L312.63,258.06 L312.97,259.25 L313.30,260.42 L313.64,261.59 L313.98,262.75 L314.32,263.90 L314.65,265.05 L314.99,266.18 L315.33,267.30 L315.67,268.42 L316.00,269.52 L316.34,270.62 L316.68,271.70 L317.01,272.78 L317.35,273.85 L317.69,274.91 L318.03,275.96 L318.36,277.00 L318.70,278.03 L319.04,279.05 L319.38,280.06 L319.71,281.06 L320.05,282.05 L320.39,283.04 L320.73,284.01 L321.06,284.98 L321.40,285.93 L321.74,286.88 L322.08,287.82 L322.41,288.74 L322.75,289.66 L323.09,290.57 L323.43,291.47 L323.76,292.36 L324.10,293.25 L324.44,294.12 L324.78,294.98 L325.11,295.84 L325.45,296.68 L325.79,297.52 L326.12,298.35 L326.46,299.17 L326.80,299.98 L327.14,300.78 L327.47,301.57 L327.81,302.36 L328.15,303.13 L328.49,303.90 L328.82,304.66 L329.16,305.41 L329.50,306.15 L329.84,306.88 L330.17,307.61 L330.51,308.32 L330.85,309.03 L331.19,309.73 L331.52,310.42 L331.86,311.10 L332.20,311.78 L332.54,312.45 L332.87,313.11 L333.21,313.76 L333.55,314.40 L333.88,315.04 L334.22,315.66 L334.56,316.28 L334.90,316.90 L335.23,317.50 L335.57,318.10 L335.91,318.69 L336.25,319.27 L336.58,319.85 L336.92,320.42 L337.26,320.98 L337.60,321.53 L337.93,322.08 L338.27,322.62 L338.61,323.15 L338.95,323.68 L339.28,324.20 L339.62,324.71 L339.96,325.21 L340.30,325.71 L340.63,326.21 L340.97,326.69 L341.31,327.17 L341.65,327.64 L341.98,328.11 L342.32,328.57 L342.66,329.02 L342.99,329.47 L343.33,329.91 L343.67,330.35 L344.01,330.78 L344.34,331.20 L344.68,331.62 L345.02,332.03 L345.36,332.44 L345.69,332.84 L346.03,333.23 L346.37,333.62 L346.71,334.00 L347.04,334.38 L347.38,334.75 L347.72,335.12 L348.06,335.48 L348.39,335.84 L348.73,336.19 L349.07,336.54 L349.41,336.88 L349.74,337.21 L350.08,337.54 L350.42,337.87 L350.75,338.19 L351.09,338.51 L351.43,338.82 L351.77,339.12 L352.10,339.43 L352.44,339.72 L352.78,340.02 L353.12,340.30 L353.45,340.59 L353.79,340.87 L354.13,341.14 L354.47,341.41 L354.80,341.68 L355.14,341.94 L355.48,342.20 L355.82,342.45 L356.15,342.70 L356.49,342.95 L356.83,343.19 L357.17,343.43 L357.50,343.66 L357.84,343.89 L358.18,344.12 L358.52,344.34 L358.85,344.56 L359.19,344.77 L359.53,344.99 L359.86,345.19 L360.20,345.40 L360.54,345.60 L360.88,345.80 L361.21,345.99 L361.55,346.18 L361.89,346.37 L362.23,346.55 L362.56,346.73 L362.90,346.91 L363.24,347.09 L363.58,347.26 L363.91,347.43 L364.25,347.59 L364.59,347.76 L364.93,347.92 L365.26,348.07 L365.60,348.23 L365.94,348.38 L366.28,348.53 L366.61,348.67 L366.95,348.82 L367.29,348.96 L367.62,349.09 L367.96,349.23 L368.30,349.36 L368.64,349.49 L368.97,349.62 L369.31,349.75 L369.65,349.87 L369.99,349.99 L370.32,350.11 L370.66,350.22 L371.00,350.34 L371.34,350.45 L371.67,350.56 L372.01,350.67 L372.35,350.77 L372.69,350.87 L373.02,350.97 L373.36,351.07 L373.70,351.17 L374.04,351.26 L374.37,351.36 L374.71,351.45 L375.05,351.54 L375.39,351.63 L375.72,351.71 L376.06,351.80 L376.40,351.88 L376.73,351.96 L377.07,352.04 L377.41,352.11 L377.75,352.19 L378.08,352.26 L378.42,352.33 L378.76,352.41 L379.10,352.47 L379.43,352.54 L379.77,352.61 L380.11,352.67 L380.45,352.74 L380.78,352.80 L381.12,352.86 L381.46,352.92 L381.80,352.97 L382.13,353.03 L382.47,353.09 L382.81,353.14 L383.15,353.19 L383.48,353.24 L383.82,353.29 L384.16,353.34 L384.50,353.39 L384.83,353.44 L385.17,353.48 L385.51,353.53 L385.84,353.57 L386.18,353.62 L386.52,353.66 L386.86,353.70 L387.19,353.74 L387.53,353.78 L387.87,353.81 L388.21,353.85 L388.54,353.89 L388.88,353.92 L389.22,353.96 L389.56,353.99 L389.89,354.02 L390.23,354.05 L390.57,354.08 L390.91,354.11 L391.24,354.14 L391.58,354.17 L391.92,354.20 L392.26,354.23 L392.59,354.25 L392.93,354.28 L393.27,354.30 L393.60,354.33 L393.94,354.35 L394.28,354.37 L394.62,354.40 L394.95,354.42 L395.29,354.44 L395.63,354.46 L395.97,354.48 L396.30,354.50 L396.64,354.52 L396.98,354.54 L397.32,354.55 L397.65,354.57 L397.99,354.59 L398.33,354.61 L398.67,354.62 L399.00,354.64 L399.34,354.65 L399.68,354.67 L400.02,354.68 L400.35,354.69 L400.69,354.71 L401.03,354.72 L401.37,354.73 L401.70,354.75 L402.04,354.76 L402.38,354.77 L402.71,354.78 L403.05,354.79 L403.39,354.80 L403.73,354.81 L404.06,354.82 L404.40,354.83 L404.74,354.84 L405.08,354.85 L405.41,354.86 L405.75,354.87 L406.09,354.88 L406.43,354.88 L406.76,354.89 L407.10,354.90 L407.44,354.91 L407.78,354.91 L408.11,354.92 L408.45,354.93 L408.79,354.93 L409.13,354.94 L409.46,354.94 L409.80,354.95 L410.14,354.96 L410.47,354.96 L410.81,354.97 L411.15,354.97 L411.49,354.98 L411.82,354.98 L412.16,354.99 L412.50,354.99 L412.84,354.99 L413.17,355.00 L413.51,355.00 L413.85,355.01 L414.19,355.01 L414.52,355.01 L414.86,355.02 L415.20,355.02 L415.54,355.02 L415.87,355.03 L416.21,355.03 L416.55,355.03 L416.89,355.03 L417.22,355.04 L417.56,355.04 L417.90,355.04 L418.24,355.04 L418.57,355.05 L418.91,355.05 L419.25,355.05 L419.58,355.05 L419.92,355.06 L420.26,355.06 L420.60,355.06 L420.93,355.06 L421.27,355.06 L421.61,355.06 L421.95,355.07 L422.28,355.07 L422.62,355.07 L422.96,355.07 L423.30,355.07 L423.63,355.07 L423.97,355.07 L424.31,355.07 L424.65,355.08 L424.98,355.08 L425.32,355.08 L425.66,355.08 L426.00,355.08 L426.33,355.08 L426.67,355.08 L427.01,355.08 L427.34,355.08 L427.68,355.08 L428.02,355.08 L428.36,355.09 L428.69,355.09 L429.03,355.09 L429.37,355.09 L429.71,355.09 L430.04,355.09 L430.38,355.09 L430.72,355.09 L431.06,355.09 L431.39,355.09 L431.73,355.09 L432.07,355.09 L432.41,355.09 L432.74,355.09 L433.08,355.09 L433.42,355.09 L433.76,355.09 L434.09,355.09 L434.43,355.09 L434.77,355.09 L435.11,355.09 L435.44,355.09 L435.78,355.10 L436.12,355.10 L436.45,355.10 L436.79,355.10 L437.13,355.10 L437.47,355.10 L437.80,355.10 L438.14,355.10 L438.48,355.10 L438.82,355.10 L439.15,355.10 L439.49,355.10 L439.83,355.10 L440.17,355.10 L440.50,355.10 L440.84,355.10 L441.18,355.10 L441.52,355.10 L441.85,355.10 L442.19,355.10 L442.53,355.10 L442.87,355.10 L443.20,355.10 L443.54,355.10 L443.88,355.10 L444.21,355.10 L444.55,355.10 L444.89,355.10 L445.23,355.10 L445.56,355.10 L445.90,355.10 L446.24,355.10 L446.58,355.10 L446.91,355.10 L447.25,355.10 L447.59,355.10 L447.93,355.10 L448.26,355.10 L448.60,355.10 L448.94,355.10 L449.28,355.10 L449.61,355.10 L449.95,355.10 L450.29,355.10 L450.63,355.10 L450.96,355.10 L451.30,355.10 L451.64,355.10 L451.98,355.10 L452.31,355.10 L452.65,355.10 L452.99,355.10 L453.32,355.10 L453.66,355.10 L454.00,355.10 L454.34,355.10 L454.67,355.10 L455.01,355.10 L455.35,355.10 L455.69,355.10 L456.02,355.10 L456.36,355.10 L456.70,355.10 L457.04,355.10 L457.37,355.10 L457.71,355.10 L458.05,355.10 L458.39,355.10 L458.72,355.10 L459.06,355.10 L459.40,355.10 L459.74,355.10 L460.07,355.10 L460.41,355.10 L460.75,355.10 L461.08,355.10 L461.42,355.10 L461.76,355.10 L462.10,355.10 L462.43,355.10 L462.77,355.10 L463.11,355.10 L463.45,355.10 L463.78,355.10 L464.12,355.10 L464.46,355.10 L464.80,355.10 L465.13,355.10 L465.47,355.10 L465.81,355.10 L466.15,355.10 L466.48,355.10 L466.82,355.10 L467.16,355.10 L467.50,355.10 L467.83,355.10 L468.17,355.10 L468.51,355.10 L468.85,355.10 L469.18,355.10 L469.52,355.10 L469.86,355.10 L470.19,355.10 L470.53,355.10 L470.87,355.10 L471.21,355.10 L471.54,355.10 L471.88,355.10 L472.22,355.10 L472.56,355.10 L472.89,355.10 L473.23,355.10 L473.57,355.10 L473.91,355.10 L474.24,355.10 L474.58,355.10 L474.92,355.10 L475.26,355.10 L475.59,355.10 L475.93,355.10 L476.27,355.10 L476.61,355.10 L476.94,355.10 L477.28,355.10 L477.62,355.10 L477.95,355.10 L478.29,355.10 L478.63,355.10 L478.97,355.10 L479.30,355.10 L479.64,355.10 L479.98,355.10 L480.32,355.10 L480.65,355.10 L480.99,355.10 L481.33,355.10 L481.67,355.10 L482.00,355.10 L482.34,355.10 L482.68,355.10 L483.02,355.10 L483.35,355.10 L483.69,355.10 L484.03,355.10 L484.37,355.10 L484.70,355.10 L485.04,355.10 L485.38,355.10 L485.72,355.10 L486.05,355.10 L486.39,355.10 L486.73,355.10 L487.06,355.10 L487.40,355.10 L487.74,355.10 L488.08,355.10 L488.41,355.10 L488.75,355.10 L489.09,355.10 L489.43,355.10 L489.76,355.10 L490.10,355.10 L490.44,355.10 L490.78,355.10 L491.11,355.10 L491.45,355.10 L491.79,355.10 L492.13,355.10 L492.46,355.10 L492.80,355.10 L493.14,355.10 L493.48,355.10 L493.81,355.10 L494.15,355.10 L494.49,355.10 L494.82,355.10 L495.16,355.10 L495.50,355.10 L495.84,355.10 L496.17,355.10 L496.51,355.10 L496.85,355.10 L497.19,355.10 L497.52,355.10 L497.86,355.10 L498.20,355.10 L498.54,355.10 L498.87,355.10 L499.21,355.10 L499.55,355.10 L499.89,355.10 L500.22,355.10 L500.56,355.10 L500.90,355.10 L501.24,355.10 L501.57,355.10 L501.91,355.10 L502.25,355.10 L502.59,355.10 L502.92,355.10 L503.26,355.10 L503.60,355.10 L503.93,355.10 L504.27,355.10 L504.61,355.10 L504.95,355.10 L505.28,355.10 L505.62,355.10 L505.96,355.10 L506.30,355.10 L506.63,355.10 L506.97,355.10 L507.31,355.10 L507.65,355.10 L507.98,355.10 L508.32,355.10 L508.66,355.10 L509.00,355.10 L509.33,355.10 L509.67,355.10 L510.01,355.10 L510.35,355.10 L510.68,355.10 L511.02,355.10 L511.36,355.10 L511.69,355.10 L512.03,355.10 L512.37,355.10 L512.71,355.10 L513.04,355.10 L513.38,355.10 L513.72,355.10 L514.06,355.10 L514.39,355.10 L514.73,355.10 L515.07,355.10 L515.41,355.10 L515.74,355.10 L516.08,355.10 L516.42,355.10 L516.76,355.10 L517.09,355.10 L517.43,355.10 L517.77,355.10 L518.11,355.10 L518.44,355.10 L518.78,355.10 L519.12,355.10 L519.46,355.10 L519.79,355.10 L520.13,355.10 L520.47,355.10 L520.80,355.10 L521.14,355.10 L521.48,355.10 L521.82,355.10 L522.15,355.10 L522.49,355.10 L522.83,355.10 L523.17,355.10 L523.50,355.10 L523.84,355.10 L524.18,355.10 L524.52,355.10 L524.85,355.10 L525.19,355.10 L525.53,355.10 L525.87,355.10 L526.20,355.10 L526.54,355.10 L526.88,355.10 L527.22,355.10 L527.55,355.10 L527.89,355.10 L528.23,355.10 L528.56,355.10 L528.90,355.10 L529.24,355.10 L529.58,355.10 L529.91,355.10 L530.25,355.10 L530.59,355.10 L530.93,355.10 L531.26,355.10 L531.60,355.10 L531.94,355.10 L532.28,355.10 L532.61,355.10 L532.95,355.10 L533.29,355.10 L533.63,355.10 L533.96,355.10 L534.30,355.10 L534.64,355.10 L534.98,355.10 L535.31,355.10 L535.65,355.10 L535.99,355.10 L536.33,355.10 L536.66,355.10 L537.00,355.10 L537.34,355.10 L537.67,355.10 L538.01,355.10 L538.35,355.10 L538.69,355.10 L539.02,355.10 L539.36,355.10 L539.70,355.10 L540.04,355.10 L540.37,355.10 L540.71,355.10 L541.05,355.10 L541.39,355.10 L541.72,355.10 L542.06,355.10 L542.40,355.10 L542.74,355.10 L543.07,355.10 L543.41,355.10 L543.75,355.10 L544.09,355.10 L544.42,355.10 L544.76,355.10" stroke="#0000ff" stroke-width="1.85" stroke-dasharray="21.2 7 3.6 7 3.6 7" stroke-dashoffset="38.8"/>
<path d="M72.40,49.65 L72.74,49.65 L73.07,49.65 L73.41,49.65 L73.75,49.65 L74.09,49.65 L74.42,49.65 L74.76,49.65 L75.10,49.65 L75.44,49.65 L75.77,49.65 L76.11,49.65 L76.45,49.65 L76.79,49.65 L77.12,49.65 L77.46,49.65 L77.80,49.65 L78.14,49.65 L78.47,49.65 L78.81,49.65 L79.15,49.65 L79.49,49.65 L79.82,49.65 L80.16,49.65 L80.50,49.65 L80.84,49.65 L81.17,49.65 L81.51,49.65 L81.85,49.65 L82.18,49.65 L82.52,49.65 L82.86,49.65 L83.20,49.65 L83.53,49.65 L83.87,49.65 L84.21,49.65 L84.55,49.65 L84.88,49.65 L85.22,49.65 L85.56,49.65 L85.90,49.65 L86.23,49.65 L86.57,49.65 L86.91,49.65 L87.25,49.65 L87.58,49.65 L87.92,49.65 L88.26,49.65 L88.60,49.65 L88.93,49.65 L89.27,49.65 L89.61,49.65 L89.94,49.65 L90.28,49.65 L90.62,49.65 L90.96,49.65 L91.29,49.65 L91.63,49.65 L91.97,49.65 L92.31,49.65 L92.64,49.65 L92.98,49.65 L93.32,49.65 L93.66,49.65 L93.99,49.65 L94.33,49.65 L94.67,49.65 L95.01,49.65 L95.34,49.65 L95.68,49.65 L96.02,49.65 L96.36,49.65 L96.69,49.65 L97.03,49.65 L97.37,49.65 L97.71,49.65 L98.04,49.65 L98.38,49.65 L98.72,49.65 L99.05,49.65 L99.39,49.65 L99.73,49.65 L100.07,49.65 L100.40,49.65 L100.74,49.65 L101.08,49.65 L101.42,49.65 L101.75,49.65 L102.09,49.65 L102.43,49.65 L102.77,49.65 L103.10,49.65 L103.44,49.65 L103.78,49.65 L104.12,49.65 L104.45,49.65 L104.79,49.65 L105.13,49.65 L105.47,49.65 L105.80,49.65 L106.14,49.65 L106.48,49.65 L106.81,49.65 L107.15,49.65 L107.49,49.65 L107.83,49.65 L108.16,49.65 L108.50,49.65 L108.84,49.65 L109.18,49.65 L109.51,49.65 L109.85,49.65 L110.19,49.65 L110.53,49.65 L110.86,49.65 L111.20,49.65 L111.54,49.65 L111.88,49.65 L112.21,49.65 L112.55,49.65 L112.89,49.65 L113.23,49.65 L113.56,49.65 L113.90,49.65 L114.24,49.65 L114.58,49.65 L114.91,49.65 L115.25,49.65 L115.59,49.65 L115.92,49.65 L116.26,49.65 L116.60,49.65 L116.94,49.65 L117.27,49.65 L117.61,49.65 L117.95,49.65 L118.29,49.65 L118.62,49.65 L118.96,49.65 L119.30,49.65 L119.64,49.65 L119.97,49.65 L120.31,49.65 L120.65,49.65 L120.99,49.65 L121.32,49.65 L121.66,49.65 L122.00,49.65 L122.34,49.65 L122.67,49.65 L123.01,49.65 L123.35,49.65 L123.68,49.65 L124.02,49.65 L124.36,49.65 L124.70,49.65 L125.03,49.65 L125.37,49.65 L125.71,49.65 L126.05,49.65 L126.38,49.65 L126.72,49.65 L127.06,49.65 L127.40,49.65 L127.73,49.65 L128.07,49.65 L128.41,49.65 L128.75,49.65 L129.08,49.65 L129.42,49.65 L129.76,49.65 L130.10,49.65 L130.43,49.65 L130.77,49.65 L131.11,49.65 L131.44,49.65 L131.78,49.65 L132.12,49.65 L132.46,49.65 L132.79,49.65 L133.13,49.65 L133.47,49.65 L133.81,49.65 L134.14,49.65 L134.48,49.65 L134.82,49.65 L135.16,49.65 L135.49,49.65 L135.83,49.65 L136.17,49.65 L136.51,49.65 L136.84,49.65 L137.18,49.65 L137.52,49.65 L137.86,49.65 L138.19,49.65 L138.53,49.65 L138.87,49.65 L139.21,49.65 L139.54,49.65 L139.88,49.65 L140.22,49.65 L140.55,49.65 L140.89,49.65 L141.23,49.65 L141.57,49.65 L141.90,49.65 L142.24,49.65 L142.58,49.65 L142.92,49.65 L143.25,49.65 L143.59,49.65 L143.93,49.65 L144.27,49.65 L144.60,49.65 L144.94,49.65 L145.28,49.65 L145.62,49.65 L145.95,49.65 L146.29,49.65 L146.63,49.65 L146.97,49.65 L147.30,49.65 L147.64,49.65 L147.98,49.65 L148.31,49.65 L148.65,49.65 L148.99,49.65 L149.33,49.65 L149.66,49.65 L150.00,49.65 L150.34,49.65 L150.68,49.65 L151.01,49.65 L151.35,49.65 L151.69,49.65 L152.03,49.65 L152.36,49.65 L152.70,49.65 L153.04,49.65 L153.38,49.65 L153.71,49.65 L154.05,49.65 L154.39,49.65 L154.73,49.65 L155.06,49.65 L155.40,49.65 L155.74,49.65 L156.08,49.65 L156.41,49.65 L156.75,49.65 L157.09,49.65 L157.42,49.65 L157.76,49.65 L158.10,49.65 L158.44,49.65 L158.77,49.65 L159.11,49.65 L159.45,49.65 L159.79,49.65 L160.12,49.65 L160.46,49.65 L160.80,49.65 L161.14,49.65 L161.47,49.65 L161.81,49.65 L162.15,49.65 L162.49,49.65 L162.82,49.65 L163.16,49.65 L163.50,49.65 L163.84,49.65 L164.17,49.65 L164.51,49.65 L164.85,49.65 L165.19,49.65 L165.52,49.65 L165.86,49.65 L166.20,49.65 L166.53,49.65 L166.87,49.65 L167.21,49.65 L167.55,49.65 L167.88,49.65 L168.22,49.65 L168.56,49.65 L168.90,49.65 L169.23,49.65 L169.57,49.65 L169.91,49.65 L170.25,49.65 L170.58,49.65 L170.92,49.65 L171.26,49.65 L171.60,49.65 L171.93,49.65 L172.27,49.65 L172.61,49.65 L172.95,49.65 L173.28,49.65 L173.62,49.65 L173.96,49.65 L174.29,49.65 L174.63,49.65 L174.97,49.65 L175.31,49.65 L175.64,49.65 L175.98,49.65 L176.32,49.65 L176.66,49.65 L176.99,49.65 L177.33,49.65 L177.67,49.65 L178.01,49.65 L178.34,49.65 L178.68,49.65 L179.02,49.65 L179.36,49.65 L179.69,49.65 L180.03,49.65 L180.37,49.65 L180.71,49.65 L181.04,49.65 L181.38,49.65 L181.72,49.65 L182.06,49.65 L182.39,49.65 L182.73,49.65 L183.07,49.65 L183.40,49.65 L183.74,49.65 L184.08,49.65 L184.42,49.65 L184.75,49.65 L185.09,49.65 L185.43,49.65 L185.77,49.65 L186.10,49.65 L186.44,49.65 L186.78,49.65 L187.12,49.65 L187.45,49.65 L187.79,49.65 L188.13,49.65 L188.47,49.65 L188.80,49.65 L189.14,49.65 L189.48,49.65 L189.82,49.65 L190.15,49.65 L190.49,49.65 L190.83,49.65 L191.16,49.65 L191.50,49.65 L191.84,49.65 L192.18,49.65 L192.51,49.65 L192.85,49.65 L193.19,49.65 L193.53,49.65 L193.86,49.65 L194.20,49.65 L194.54,49.65 L194.88,49.65 L195.21,49.65 L195.55,49.65 L195.89,49.65 L196.23,49.65 L196.56,49.65 L196.90,49.65 L197.24,49.65 L197.58,49.65 L197.91,49.65 L198.25,49.65 L198.59,49.65 L198.93,49.65 L199.26,49.65 L199.60,49.65 L199.94,49.65 L200.27,49.65 L200.61,49.65 L200.95,49.65 L201.29,49.65 L201.62,49.65 L201.96,49.65 L202.30,49.65 L202.64,49.65 L202.97,49.65 L203.31,49.65 L203.65,49.65 L203.99,49.65 L204.32,49.66 L204.66,49.66 L205.00,49.66 L205.34,49.66 L205.67,49.66 L206.01,49.66 L206.35,49.66 L206.69,49.66 L207.02,49.66 L207.36,49.66 L207.70,49.66 L208.03,49.66 L208.37,49.66 L208.71,49.66 L209.05,49.66 L209.38,49.66 L209.72,49.66 L210.06,49.66 L210.40,49.66 L210.73,49.67 L211.07,49.67 L211.41,49.67 L211.75,49.67 L212.08,49.67 L212.42,49.67 L212.76,49.67 L213.10,49.67 L213.43,49.67 L213.77,49.68 L214.11,49.68 L214.45,49.68 L214.78,49.68 L215.12,49.68 L215.46,49.68 L215.80,49.69 L216.13,49.69 L216.47,49.69 L216.81,49.69 L217.14,49.69 L217.48,49.70 L217.82,49.70 L218.16,49.70 L218.49,49.71 L218.83,49.71 L219.17,49.71 L219.51,49.71 L219.84,49.72 L220.18,49.72 L220.52,49.73 L220.86,49.73 L221.19,49.73 L221.53,49.74 L221.87,49.74 L222.21,49.75 L222.54,49.75 L222.88,49.76 L223.22,49.76 L223.56,49.77 L223.89,49.78 L224.23,49.78 L224.57,49.79 L224.90,49.80 L225.24,49.80 L225.58,49.81 L225.92,49.82 L226.25,49.83 L226.59,49.84 L226.93,49.85 L227.27,49.86 L227.60,49.87 L227.94,49.88 L228.28,49.89 L228.62,49.90 L228.95,49.91 L229.29,49.92 L229.63,49.94 L229.97,49.95 L230.30,49.96 L230.64,49.98 L230.98,49.99 L231.32,50.01 L231.65,50.03 L231.99,50.04 L232.33,50.06 L232.67,50.08 L233.00,50.10 L233.34,50.12 L233.68,50.14 L234.01,50.16 L234.35,50.19 L234.69,50.21 L235.03,50.23 L235.36,50.26 L235.70,50.29 L236.04,50.31 L236.38,50.34 L236.71,50.37 L237.05,50.40 L237.39,50.44 L237.73,50.47 L238.06,50.51 L238.40,50.54 L238.74,50.58 L239.08,50.62 L239.41,50.66 L239.75,50.70 L240.09,50.74 L240.43,50.79 L240.76,50.83 L241.10,50.88 L241.44,50.93 L241.77,50.98 L242.11,51.04 L242.45,51.09 L242.79,51.15 L243.12,51.21 L243.46,51.27 L243.80,51.33 L244.14,51.40 L244.47,51.47 L244.81,51.54 L245.15,51.61 L245.49,51.69 L245.82,51.76 L246.16,51.84 L246.50,51.92 L246.84,52.01 L247.17,52.10 L247.51,52.19 L247.85,52.28 L248.19,52.38 L248.52,52.48 L248.86,52.58 L249.20,52.69 L249.54,52.80 L249.87,52.91 L250.21,53.02 L250.55,53.13 L250.88,53.24 L251.22,53.35 L251.56,53.47 L251.90,53.59 L252.23,53.72 L252.57,53.85 L252.91,53.98 L253.25,54.12 L253.58,54.26 L253.92,54.41 L254.26,54.56 L254.60,54.71 L254.93,54.87 L255.27,55.04 L255.61,55.21 L255.95,55.38 L256.28,55.56 L256.62,55.75 L256.96,55.94 L257.30,56.13 L257.63,56.33 L257.97,56.54 L258.31,56.75 L258.64,56.97 L258.98,57.19 L259.32,57.43 L259.66,57.66 L259.99,57.90 L260.33,58.15 L260.67,58.41 L261.01,58.67 L261.34,58.94 L261.68,59.22 L262.02,59.50 L262.36,59.79 L262.69,60.08 L263.03,60.38 L263.37,60.69 L263.71,61.00 L264.04,61.33 L264.38,61.65 L264.72,61.99 L265.06,62.33 L265.39,62.69 L265.73,63.05 L266.07,63.42 L266.41,63.80 L266.74,64.19 L267.08,64.58 L267.42,64.99 L267.75,65.41 L268.09,65.84 L268.43,66.28 L268.77,66.73 L269.10,67.20 L269.44,67.67 L269.78,68.16 L270.12,68.66 L270.45,69.17 L270.79,69.70 L271.13,70.23 L271.47,70.78 L271.80,71.34 L272.14,71.91 L272.48,72.49 L272.82,73.08 L273.15,73.69 L273.49,74.30 L273.83,74.93 L274.17,75.57 L274.50,76.22 L274.84,76.88 L275.18,77.56 L275.51,78.24 L275.85,78.94 L276.19,79.64 L276.53,80.36 L276.86,81.09 L277.20,81.84 L277.54,82.59 L277.88,83.35 L278.21,84.13 L278.55,84.92 L278.89,85.72 L279.23,86.52 L279.56,87.34 L279.90,88.17 L280.24,89.02 L280.58,89.88 L280.91,90.74 L281.25,91.62 L281.59,92.52 L281.93,93.42 L282.26,94.33 L282.60,95.26 L282.94,96.20 L283.27,97.15 L283.61,98.11 L283.95,99.08 L284.29,100.07 L284.62,101.06 L284.96,102.07 L285.30,103.09 L285.64,104.12 L285.97,105.16 L286.31,106.21 L286.65,107.27 L286.99,108.35 L287.32,109.43 L287.66,110.53 L288.00,111.63 L288.34,112.75 L288.67,113.88 L289.01,115.02 L289.35,116.17 L289.69,117.32 L290.02,118.49 L290.36,119.65 L290.70,120.82 L291.04,122.00 L291.37,123.19 L291.71,124.39 L292.05,125.60 L292.38,126.81 L292.72,128.04 L293.06,129.27 L293.40,130.51 L293.73,131.77 L294.07,133.03 L294.41,134.29 L294.75,135.57 L295.08,136.85 L295.42,138.14 L295.76,139.44 L296.10,140.75 L296.43,142.06 L296.77,143.38 L297.11,144.71 L297.45,146.04 L297.78,147.38 L298.12,148.72 L298.46,150.07 L298.80,151.43 L299.13,152.79 L299.47,154.16 L299.81,155.53 L300.14,156.91 L300.48,158.29 L300.82,159.68 L301.16,161.07 L301.49,162.47 L301.83,163.87 L302.17,165.27 L302.51,166.68 L302.84,168.08 L303.18,169.50 L303.52,170.91 L303.86,172.33 L304.19,173.75 L304.53,175.17 L304.87,176.60 L305.21,178.02 L305.54,179.45 L305.88,180.88 L306.22,182.31 L306.56,183.74 L306.89,185.17 L307.23,186.61 L307.57,188.04 L307.91,189.47 L308.24,190.90 L308.58,192.33 L308.92,193.77 L309.25,195.20 L309.59,196.63 L309.93,198.06 L310.27,199.49 L310.60,200.92 L310.94,202.35 L311.28,203.78 L311.62,205.21 L311.95,206.65 L312.29,208.08 L312.63,209.50 L312.97,210.93 L313.30,212.36 L313.64,213.78 L313.98,215.21 L314.32,216.63 L314.65,218.05 L314.99,219.46 L315.33,220.87 L315.67,222.28 L316.00,223.69 L316.34,225.09 L316.68,226.49 L317.01,227.88 L317.35,229.27 L317.69,230.66 L318.03,232.04 L318.36,233.42 L318.70,234.79 L319.04,236.15 L319.38,237.51 L319.71,238.87 L320.05,240.21 L320.39,241.55 L320.73,242.88 L321.06,244.21 L321.40,245.53 L321.74,246.84 L322.08,248.15 L322.41,249.44 L322.75,250.73 L323.09,252.01 L323.43,253.29 L323.76,254.56 L324.10,255.82 L324.44,257.07 L324.78,258.31 L325.11,259.54 L325.45,260.77 L325.79,261.98 L326.12,263.19 L326.46,264.39 L326.80,265.58 L327.14,266.76 L327.47,267.93 L327.81,269.09 L328.15,270.24 L328.49,271.39 L328.82,272.52 L329.16,273.64 L329.50,274.76 L329.84,275.86 L330.17,276.95 L330.51,278.04 L330.85,279.11 L331.19,280.18 L331.52,281.23 L331.86,282.27 L332.20,283.31 L332.54,284.33 L332.87,285.34 L333.21,286.35 L333.55,287.34 L333.88,288.32 L334.22,289.29 L334.56,290.25 L334.90,291.21 L335.23,292.15 L335.57,293.08 L335.91,294.00 L336.25,294.91 L336.58,295.81 L336.92,296.70 L337.26,297.58 L337.60,298.45 L337.93,299.31 L338.27,300.15 L338.61,300.99 L338.95,301.82 L339.28,302.64 L339.62,303.45 L339.96,304.25 L340.30,305.04 L340.63,305.82 L340.97,306.59 L341.31,307.34 L341.65,308.09 L341.98,308.83 L342.32,309.56 L342.66,310.29 L342.99,311.00 L343.33,311.70 L343.67,312.39 L344.01,313.08 L344.34,313.75 L344.68,314.41 L345.02,315.07 L345.36,315.72 L345.69,316.36 L346.03,316.98 L346.37,317.60 L346.71,318.22 L347.04,318.82 L347.38,319.41 L347.72,320.00 L348.06,320.58 L348.39,321.15 L348.73,321.71 L349.07,322.26 L349.41,322.81 L349.74,323.34 L350.08,323.87 L350.42,324.39 L350.75,324.91 L351.09,325.41 L351.43,325.91 L351.77,326.40 L352.10,326.89 L352.44,327.36 L352.78,327.83 L353.12,328.29 L353.45,328.75 L353.79,329.19 L354.13,329.63 L354.47,330.07 L354.80,330.50 L355.14,330.92 L355.48,331.33 L355.82,331.74 L356.15,332.14 L356.49,332.53 L356.83,332.92 L357.17,333.30 L357.50,333.68 L357.84,334.05 L358.18,334.41 L358.52,334.77 L358.85,335.12 L359.19,335.47 L359.53,335.81 L359.86,336.15 L360.20,336.48 L360.54,336.80 L360.88,337.12 L361.21,337.44 L361.55,337.75 L361.89,338.05 L362.23,338.35 L362.56,338.64 L362.90,338.93 L363.24,339.22 L363.58,339.50 L363.91,339.77 L364.25,340.04 L364.59,340.31 L364.93,340.57 L365.26,340.83 L365.60,341.08 L365.94,341.33 L366.28,341.57 L366.61,341.81 L366.95,342.05 L367.29,342.28 L367.62,342.51 L367.96,342.73 L368.30,342.95 L368.64,343.17 L368.97,343.38 L369.31,343.59 L369.65,343.80 L369.99,344.00 L370.32,344.20 L370.66,344.39 L371.00,344.58 L371.34,344.77 L371.67,344.96 L372.01,345.14 L372.35,345.32 L372.69,345.50 L373.02,345.67 L373.36,345.84 L373.70,346.00 L374.04,346.17 L374.37,346.33 L374.71,346.49 L375.05,346.64 L375.39,346.80 L375.72,346.95 L376.06,347.09 L376.40,347.24 L376.73,347.38 L377.07,347.52 L377.41,347.66 L377.75,347.79 L378.08,347.92 L378.42,348.05 L378.76,348.18 L379.10,348.31 L379.43,348.43 L379.77,348.55 L380.11,348.67 L380.45,348.79 L380.78,348.90 L381.12,349.02 L381.46,349.13 L381.80,349.23 L382.13,349.34 L382.47,349.45 L382.81,349.55 L383.15,349.65 L383.48,349.75 L383.82,349.85 L384.16,349.94 L384.50,350.04 L384.83,350.13 L385.17,350.22 L385.51,350.31 L385.84,350.40 L386.18,350.48 L386.52,350.57 L386.86,350.65 L387.19,350.73 L387.53,350.81 L387.87,350.89 L388.21,350.97 L388.54,351.04 L388.88,351.12 L389.22,351.19 L389.56,351.26 L389.89,351.33 L390.23,351.40 L390.57,351.47 L390.91,351.54 L391.24,351.60 L391.58,351.67 L391.92,351.73 L392.26,351.79 L392.59,351.85 L392.93,351.91 L393.27,351.97 L393.60,352.03 L393.94,352.08 L394.28,352.14 L394.62,352.19 L394.95,352.25 L395.29,352.30 L395.63,352.35 L395.97,352.40 L396.30,352.45 L396.64,352.50 L396.98,352.55 L397.32,352.59 L397.65,352.64 L397.99,352.69 L398.33,352.73 L398.67,352.77 L399.00,352.82 L399.34,352.86 L399.68,352.90 L400.02,352.94 L400.35,352.98 L400.69,353.02 L401.03,353.06 L401.37,353.10 L401.70,353.13 L402.04,353.17 L402.38,353.20 L402.71,353.24 L403.05,353.27 L403.39,353.31 L403.73,353.34 L404.06,353.37 L404.40,353.40 L404.74,353.44 L405.08,353.47 L405.41,353.50 L405.75,353.53 L406.09,353.56 L406.43,353.58 L406.76,353.61 L407.10,353.64 L407.44,353.67 L407.78,353.69 L408.11,353.72 L408.45,353.74 L408.79,353.77 L409.13,353.79 L409.46,353.82 L409.80,353.84 L410.14,353.87 L410.47,353.89 L410.81,353.91 L411.15,353.93 L411.49,353.95 L411.82,353.98 L412.16,354.00 L412.50,354.02 L412.84,354.04 L413.17,354.06 L413.51,354.08 L413.85,354.09 L414.19,354.11 L414.52,354.13 L414.86,354.15 L415.20,354.17 L415.54,354.18 L415.87,354.20 L416.21,354.22 L416.55,354.23 L416.89,354.25 L417.22,354.27 L417.56,354.28 L417.90,354.30 L418.24,354.31 L418.57,354.33 L418.91,354.34 L419.25,354.35 L419.58,354.37 L419.92,354.38 L420.26,354.39 L420.60,354.41 L420.93,354.42 L421.27,354.43 L421.61,354.45 L421.95,354.46 L422.28,354.47 L422.62,354.48 L422.96,354.49 L423.30,354.50 L423.63,354.52 L423.97,354.53 L424.31,354.54 L424.65,354.55 L424.98,354.56 L425.32,354.57 L425.66,354.58 L426.00,354.59 L426.33,354.60 L426.67,354.61 L427.01,354.61 L427.34,354.62 L427.68,354.63 L428.02,354.64 L428.36,354.65 L428.69,354.66 L429.03,354.67 L429.37,354.67 L429.71,354.68 L430.04,354.69 L430.38,354.70 L430.72,354.71 L431.06,354.71 L431.39,354.72 L431.73,354.73 L432.07,354.73 L432.41,354.74 L432.74,354.75 L433.08,354.75 L433.42,354.76 L433.76,354.77 L434.09,354.77 L434.43,354.78 L434.77,354.78 L435.11,354.79 L435.44,354.80 L435.78,354.80 L436.12,354.81 L436.45,354.81 L436.79,354.82 L437.13,354.82 L437.47,354.83 L437.80,354.83 L438.14,354.84 L438.48,354.84 L438.82,354.85 L439.15,354.85 L439.49,354.86 L439.83,354.86 L440.17,354.87 L440.50,354.87 L440.84,354.87 L441.18,354.88 L441.52,354.88 L441.85,354.89 L442.19,354.89 L442.53,354.89 L442.87,354.90 L443.20,354.90 L443.54,354.91 L443.88,354.91 L444.21,354.91 L444.55,354.92 L444.89,354.92 L445.23,354.92 L445.56,354.93 L445.90,354.93 L446.24,354.93 L446.58,354.94 L446.91,354.94 L447.25,354.94 L447.59,354.95 L447.93,354.95 L448.26,354.95 L448.60,354.95 L448.94,354.96 L449.28,354.96 L449.61,354.96 L449.95,354.96 L450.29,354.97 L450.63,354.97 L450.96,354.97 L451.30,354.97 L451.64,354.98 L451.98,354.98 L452.31,354.98 L452.65,354.98 L452.99,354.99 L453.32,354.99 L453.66,354.99 L454.00,354.99 L454.34,354.99 L454.67,355.00 L455.01,355.00 L455.35,355.00 L455.69,355.00 L456.02,355.00 L456.36,355.00 L456.70,355.01 L457.04,355.01 L457.37,355.01 L457.71,355.01 L458.05,355.01 L458.39,355.01 L458.72,355.02 L459.06,355.02 L459.40,355.02 L459.74,355.02 L460.07,355.02 L460.41,355.02 L460.75,355.03 L461.08,355.03 L461.42,355.03 L461.76,355.03 L462.10,355.03 L462.43,355.03 L462.77,355.03 L463.11,355.03 L463.45,355.04 L463.78,355.04 L464.12,355.04 L464.46,355.04 L464.80,355.04 L465.13,355.04 L465.47,355.04 L465.81,355.04 L466.15,355.04 L466.48,355.05 L466.82,355.05 L467.16,355.05 L467.50,355.05 L467.83,355.05 L468.17,355.05 L468.51,355.05 L468.85,355.05 L469.18,355.05 L469.52,355.05 L469.86,355.05 L470.19,355.06 L470.53,355.06 L470.87,355.06 L471.21,355.06 L471.54,355.06 L471.88,355.06 L472.22,355.06 L472.56,355.06 L472.89,355.06 L473.23,355.06 L473.57,355.06 L473.91,355.06 L474.24,355.06 L474.58,355.07 L474.92,355.07 L475.26,355.07 L475.59,355.07 L475.93,355.07 L476.27,355.07 L476.61,355.07 L476.94,355.07 L477.28,355.07 L477.62,355.07 L477.95,355.07 L478.29,355.07 L478.63,355.07 L478.97,355.07 L479.30,355.07 L479.64,355.07 L479.98,355.07 L480.32,355.07 L480.65,355.08 L480.99,355.08 L481.33,355.08 L481.67,355.08 L482.00,355.08 L482.34,355.08 L482.68,355.08 L483.02,355.08 L483.35,355.08 L483.69,355.08 L484.03,355.08 L484.37,355.08 L484.70,355.08 L485.04,355.08 L485.38,355.08 L485.72,355.08 L486.05,355.08 L486.39,355.08 L486.73,355.08 L487.06,355.08 L487.40,355.08 L487.74,355.08 L488.08,355.08 L488.41,355.08 L488.75,355.08 L489.09,355.08 L489.43,355.08 L489.76,355.09 L490.10,355.09 L490.44,355.09 L490.78,355.09 L491.11,355.09 L491.45,355.09 L491.79,355.09 L492.13,355.09 L492.46,355.09 L492.80,355.09 L493.14,355.09 L493.48,355.09 L493.81,355.09 L494.15,355.09 L494.49,355.09 L494.82,355.09 L495.16,355.09 L495.50,355.09 L495.84,355.09 L496.17,355.09 L496.51,355.09 L496.85,355.09 L497.19,355.09 L497.52,355.09 L497.86,355.09 L498.20,355.09 L498.54,355.09 L498.87,355.09 L499.21,355.09 L499.55,355.09 L499.89,355.09 L500.22,355.09 L500.56,355.09 L500.90,355.09 L501.24,355.09 L501.57,355.09 L501.91,355.09 L502.25,355.09 L502.59,355.09 L502.92,355.09 L503.26,355.09 L503.60,355.09 L503.93,355.09 L504.27,355.09 L504.61,355.09 L504.95,355.09 L505.28,355.09 L505.62,355.09 L505.96,355.09 L506.30,355.09 L506.63,355.09 L506.97,355.09 L507.31,355.09 L507.65,355.09 L507.98,355.09 L508.32,355.09 L508.66,355.09 L509.00,355.09 L509.33,355.09 L509.67,355.10 L510.01,355.10 L510.35,355.10 L510.68,355.10 L511.02,355.10 L511.36,355.10 L511.69,355.10 L512.03,355.10 L512.37,355.10 L512.71,355.10 L513.04,355.10 L513.38,355.10 L513.72,355.10 L514.06,355.10 L514.39,355.10 L514.73,355.10 L515.07,355.10 L515.41,355.10 L515.74,355.10 L516.08,355.10 L516.42,355.10 L516.76,355.10 L517.09,355.10 L517.43,355.10 L517.77,355.10 L518.11,355.10 L518.44,355.10 L518.78,355.10 L519.12,355.10 L519.46,355.10 L519.79,355.10 L520.13,355.10 L520.47,355.10 L520.80,355.10 L521.14,355.10 L521.48,355.10 L521.82,355.10 L522.15,355.10 L522.49,355.10 L522.83,355.10 L523.17,355.10 L523.50,355.10 L523.84,355.10 L524.18,355.10 L524.52,355.10 L524.85,355.10 L525.19,355.10 L525.53,355.10 L525.87,355.10 L526.20,355.10 L526.54,355.10 L526.88,355.10 L527.22,355.10 L527.55,355.10 L527.89,355.10 L528.23,355.10 L528.56,355.10 L528.90,355.10 L529.24,355.10 L529.58,355.10 L529.91,355.10 L530.25,355.10 L530.59,355.10 L530.93,355.10 L531.26,355.10 L531.60,355.10 L531.94,355.10 L532.28,355.10 L532.61,355.10 L532.95,355.10 L533.29,355.10 L533.63,355.10 L533.96,355.10 L534.30,355.10 L534.64,355.10 L534.98,355.10 L535.31,355.10 L535.65,355.10 L535.99,355.10 L536.33,355.10 L536.66,355.10 L537.00,355.10 L537.34,355.10 L537.67,355.10 L538.01,355.10 L538.35,355.10 L538.69,355.10 L539.02,355.10 L539.36,355.10 L539.70,355.10 L540.04,355.10 L540.37,355.10 L540.71,355.10 L541.05,355.10 L541.39,355.10 L541.72,355.10 L542.06,355.10 L542.40,355.10 L542.74,355.10 L543.07,355.10 L543.41,355.10 L543.75,355.10 L544.09,355.10 L544.42,355.10 L544.76,355.10" stroke="#000000" stroke-width="1.85"/>
</g>
<path d="M72.45,355.90000000000003 V11.1 H544.1 V355.90000000000003" fill="none" stroke="#000" stroke-width="1.1"/>
<path d="M71.9,355.4 H544.65" fill="none" stroke="#000" stroke-width="1.2"/>
<text transform="translate(75.15,373.00) scale(0.98,1)" font-size="19.1" text-anchor="middle" >0</text>
<text transform="translate(142.53,373.00) scale(0.98,1)" font-size="19.1" text-anchor="middle" >2</text>
<text transform="translate(209.91,373.00) scale(0.98,1)" font-size="19.1" text-anchor="middle" >4</text>
<text transform="translate(277.29,373.00) scale(0.98,1)" font-size="19.1" text-anchor="middle" >6</text>
<text transform="translate(344.66,373.00) scale(0.98,1)" font-size="19.1" text-anchor="middle" >8</text>
<text transform="translate(412.04,373.00) scale(0.98,1)" font-size="19.1" text-anchor="middle" >10</text>
<text transform="translate(479.42,373.00) scale(0.98,1)" font-size="19.1" text-anchor="middle" >12</text>
<text transform="translate(546.80,373.00) scale(0.98,1)" font-size="19.1" text-anchor="middle" >14</text>
<text transform="translate(65.60,362.05) scale(0.98,1)" font-size="19.1" text-anchor="end" >0.0</text>
<text transform="translate(65.60,281.06) scale(0.98,1)" font-size="19.1" text-anchor="end" >0.04</text>
<text transform="translate(65.60,200.07) scale(0.98,1)" font-size="19.1" text-anchor="end" >0.08</text>
<text transform="translate(65.60,119.09) scale(0.98,1)" font-size="19.1" text-anchor="end" >0.12</text>
<text transform="translate(65.60,38.10) scale(0.98,1)" font-size="19.1" text-anchor="end" >0.16</text>
<text transform="translate(283.50,389.70)" font-size="19.2" >r</text>
<text transform="translate(296.70,389.70) scale(0.85,1.0)" font-size="21.5" >(</text>
<text transform="translate(303.60,389.70)" font-size="19.2" letter-spacing="0.8">fm</text>
<text transform="translate(325.70,389.70) scale(0.85,1.0)" font-size="21.5" >)</text>
<g role="img" aria-label="varrho">
<ellipse cx="15.1" cy="218.8" rx="6.4" ry="5.45" fill="none" stroke="#000" stroke-width="1.4"/>
<path d="M23.9,212.8 Q21.5,217.8 24.5,222.5" fill="none" stroke="#000" stroke-width="1.2" stroke-linecap="round"/>
</g>
<text transform="translate(22.00,199.60) rotate(-90) scale(0.85,1.0)" font-size="27.9" >(</text>
<text transform="translate(21.80,191.20) rotate(-90) scale(1.0,1.07)" font-size="19.2" >fm</text>
<text transform="translate(12.20,169.70) rotate(-90)" font-size="15.4" >-3</text>
<text transform="translate(22.00,154.50) rotate(-90) scale(0.85,1.0)" font-size="27.9" >)</text>
<rect x="388.5" y="22.9" width="133.10000000000002" height="126.69999999999999" fill="#fff" stroke="none"/>
<path d="M455.05,149.6 v-4.6 M455.05,22.9 v4.6 M388.5,112.34 h4.6 M521.6,112.34 h-4.6 M388.5,75.07 h4.6 M521.6,75.07 h-4.6 M388.5,37.81 h4.6 M521.6,37.81 h-4.6" stroke="#000" stroke-width="0.8" fill="none"/>
<g clip-path="url(#ci)" fill="none">
<path d="M388.50,29.39 L389.17,29.39 L389.83,29.39 L390.50,29.40 L391.16,29.42 L391.83,29.43 L392.49,29.45 L393.16,29.47 L393.82,29.50 L394.49,29.53 L395.15,29.57 L395.82,29.60 L396.49,29.64 L397.15,29.69 L397.82,29.74 L398.48,29.79 L399.15,29.85 L399.81,29.91 L400.48,29.97 L401.14,30.04 L401.81,30.11 L402.48,30.18 L403.14,30.26 L403.81,30.34 L404.47,30.43 L405.14,30.52 L405.80,30.61 L406.47,30.71 L407.13,30.81 L407.80,30.92 L408.47,31.03 L409.13,31.14 L409.80,31.26 L410.46,31.38 L411.13,31.51 L411.79,31.64 L412.46,31.77 L413.12,31.91 L413.79,32.05 L414.45,32.20 L415.12,32.35 L415.79,32.51 L416.45,32.67 L417.12,32.84 L417.78,33.01 L418.45,33.18 L419.11,33.36 L419.78,33.54 L420.44,33.73 L421.11,33.93 L421.77,34.12 L422.44,34.33 L423.11,34.54 L423.77,34.75 L424.44,34.97 L425.10,35.19 L425.77,35.42 L426.43,35.65 L427.10,35.89 L427.76,36.14 L428.43,36.39 L429.10,36.65 L429.76,36.91 L430.43,37.17 L431.09,37.45 L431.76,37.73 L432.42,38.01 L433.09,38.30 L433.75,38.60 L434.42,38.90 L435.09,39.21 L435.75,39.52 L436.42,39.84 L437.08,40.17 L437.75,40.51 L438.41,40.85 L439.08,41.19 L439.74,41.55 L440.41,41.91 L441.07,42.28 L441.74,42.65 L442.41,43.03 L443.07,43.42 L443.74,43.82 L444.40,44.22 L445.07,44.63 L445.73,45.05 L446.40,45.47 L447.06,45.91 L447.73,46.35 L448.39,46.80 L449.06,47.26 L449.73,47.72 L450.39,48.19 L451.06,48.68 L451.72,49.17 L452.39,49.66 L453.05,50.17 L453.72,50.69 L454.38,51.21 L455.05,51.74 L455.72,52.29 L456.38,52.84 L457.05,53.40 L457.71,53.97 L458.38,54.55 L459.04,55.14 L459.71,55.74 L460.37,56.35 L461.04,56.97 L461.71,57.59 L462.37,58.23 L463.04,58.88 L463.70,59.54 L464.37,60.21 L465.03,60.89 L465.70,61.58 L466.36,62.29 L467.03,63.00 L467.69,63.72 L468.36,64.46 L469.03,65.21 L469.69,65.97 L470.36,66.74 L471.02,67.52 L471.69,68.31 L472.35,69.12 L473.02,69.94 L473.68,70.77 L474.35,71.61 L475.01,72.47 L475.68,73.34 L476.35,74.22 L477.01,75.11 L477.68,76.02 L478.34,76.94 L479.01,77.88 L479.67,78.82 L480.34,79.79 L481.00,80.76 L481.67,81.75 L482.34,82.76 L483.00,83.78 L483.67,84.81 L484.33,85.86 L485.00,86.92 L485.66,88.00 L486.33,89.09 L486.99,90.20 L487.66,91.33 L488.33,92.47 L488.99,93.63 L489.66,94.81 L490.32,96.00 L490.99,97.21 L491.65,98.44 L492.32,99.68 L492.98,100.94 L493.65,102.22 L494.31,103.52 L494.98,104.84 L495.65,106.17 L496.31,107.52 L496.98,108.90 L497.64,110.29 L498.31,111.70 L498.97,113.12 L499.64,114.57 L500.30,116.04 L500.97,117.52 L501.63,119.03 L502.30,120.55 L502.97,122.10 L503.63,123.66 L504.30,125.24 L504.96,126.85 L505.63,128.47 L506.29,130.11 L506.96,131.77 L507.62,133.45 L508.29,135.15 L508.96,136.86 L509.62,138.60 L510.29,140.36 L510.95,142.13 L511.62,143.93 L512.28,145.74 L512.95,147.58 L513.61,149.43 L514.28,151.30 L514.95,153.20 L515.61,155.11 L516.28,157.04 L516.94,159.00 L517.61,160.97 L518.27,162.97 L518.94,164.98 L519.60,167.02 L520.27,169.08 L520.93,171.16 L521.60,173.26" stroke="#a52a2a" stroke-width="1.85" stroke-dasharray="14.3 6.8" stroke-dashoffset="0"/>
<path d="M388.50,102.80 L389.17,102.80 L389.83,102.80 L390.50,102.80 L391.16,102.80 L391.83,102.80 L392.49,102.80 L393.16,102.80 L393.82,102.80 L394.49,102.80 L395.15,102.80 L395.82,102.80 L396.49,102.80 L397.15,102.80 L397.82,102.80 L398.48,102.80 L399.15,102.80 L399.81,102.80 L400.48,102.80 L401.14,102.80 L401.81,102.80 L402.48,102.80 L403.14,102.80 L403.81,102.80 L404.47,102.80 L405.14,102.80 L405.80,102.80 L406.47,102.80 L407.13,102.80 L407.80,102.80 L408.47,102.80 L409.13,102.80 L409.80,102.80 L410.46,102.80 L411.13,102.80 L411.79,102.80 L412.46,102.80 L413.12,102.80 L413.79,102.80 L414.45,102.80 L415.12,102.80 L415.79,102.80 L416.45,102.80 L417.12,102.80 L417.78,102.80 L418.45,102.80 L419.11,102.80 L419.78,102.80 L420.44,102.80 L421.11,102.80 L421.77,102.80 L422.44,102.80 L423.11,102.80 L423.77,102.80 L424.44,102.80 L425.10,102.80 L425.77,102.80 L426.43,102.80 L427.10,102.80 L427.76,102.80 L428.43,102.80 L429.10,102.80 L429.76,102.80 L430.43,102.80 L431.09,102.80 L431.76,102.80 L432.42,102.80 L433.09,102.80 L433.75,102.80 L434.42,102.80 L435.09,102.80 L435.75,102.80 L436.42,102.80 L437.08,102.80 L437.75,102.80 L438.41,102.80 L439.08,102.80 L439.74,102.80 L440.41,102.80 L441.07,102.80 L441.74,102.80 L442.41,102.80 L443.07,102.80 L443.74,102.80 L444.40,102.80 L445.07,102.80 L445.73,102.80 L446.40,102.80 L447.06,102.80 L447.73,102.80 L448.39,102.80 L449.06,102.80 L449.73,102.80 L450.39,102.80 L451.06,102.80 L451.72,102.80 L452.39,102.80 L453.05,102.80 L453.72,102.80 L454.38,102.80 L455.05,102.80 L455.72,102.80 L456.38,102.80 L457.05,102.80 L457.71,102.80 L458.38,102.80 L459.04,102.80 L459.71,102.80 L460.37,102.80 L461.04,102.80 L461.71,102.80 L462.37,102.80 L463.04,102.80 L463.70,102.80 L464.37,102.80 L465.03,102.80 L465.70,102.80 L466.36,102.80 L467.03,102.80 L467.69,102.80 L468.36,102.80 L469.03,102.80 L469.69,102.80 L470.36,102.80 L471.02,102.80 L471.69,102.80 L472.35,102.80 L473.02,102.80 L473.68,102.80 L474.35,102.80 L475.01,102.80 L475.68,102.80 L476.35,102.80 L477.01,102.80 L477.68,102.80 L478.34,102.80 L479.01,102.80 L479.67,102.80 L480.34,102.80 L481.00,102.80 L481.67,102.80 L482.34,102.80 L483.00,102.80 L483.67,102.80 L484.33,102.80 L485.00,102.80 L485.66,102.80 L486.33,102.80 L486.99,102.80 L487.66,102.80 L488.33,102.80 L488.99,102.80 L489.66,102.80 L490.32,102.80 L490.99,102.80 L491.65,102.80 L492.32,102.80 L492.98,102.80 L493.65,102.80 L494.31,102.80 L494.98,102.80 L495.65,102.80 L496.31,102.80 L496.98,102.80 L497.64,102.80 L498.31,102.80 L498.97,102.80 L499.64,102.80 L500.30,102.80 L500.97,102.80 L501.63,102.80 L502.30,102.80 L502.97,102.80 L503.63,102.80 L504.30,102.80 L504.96,102.80 L505.63,102.80 L506.29,102.80 L506.96,102.80 L507.62,102.80 L508.29,102.80 L508.96,102.80 L509.62,102.80 L510.29,102.80 L510.95,102.80 L511.62,102.80 L512.28,102.80 L512.95,102.80 L513.61,102.80 L514.28,102.80 L514.95,102.80 L515.61,102.80 L516.28,102.80 L516.94,102.80 L517.61,102.80 L518.27,102.80 L518.94,102.80 L519.60,102.80 L520.27,102.80 L520.93,102.80 L521.60,102.80" stroke="#006400" stroke-width="1.85" stroke-dasharray="21.2 7.1 3.6 7.0" stroke-dashoffset="0"/>
<path d="M388.50,120.31 L389.17,120.31 L389.83,120.31 L390.50,120.31 L391.16,120.31 L391.83,120.31 L392.49,120.31 L393.16,120.31 L393.82,120.31 L394.49,120.31 L395.15,120.31 L395.82,120.31 L396.49,120.31 L397.15,120.31 L397.82,120.31 L398.48,120.31 L399.15,120.31 L399.81,120.31 L400.48,120.31 L401.14,120.31 L401.81,120.31 L402.48,120.31 L403.14,120.31 L403.81,120.31 L404.47,120.31 L405.14,120.31 L405.80,120.31 L406.47,120.31 L407.13,120.31 L407.80,120.31 L408.47,120.31 L409.13,120.31 L409.80,120.31 L410.46,120.31 L411.13,120.31 L411.79,120.31 L412.46,120.31 L413.12,120.31 L413.79,120.31 L414.45,120.31 L415.12,120.31 L415.79,120.31 L416.45,120.31 L417.12,120.31 L417.78,120.31 L418.45,120.31 L419.11,120.31 L419.78,120.31 L420.44,120.31 L421.11,120.31 L421.77,120.31 L422.44,120.31 L423.11,120.31 L423.77,120.31 L424.44,120.31 L425.10,120.31 L425.77,120.31 L426.43,120.31 L427.10,120.31 L427.76,120.31 L428.43,120.31 L429.10,120.31 L429.76,120.31 L430.43,120.31 L431.09,120.31 L431.76,120.31 L432.42,120.31 L433.09,120.31 L433.75,120.31 L434.42,120.31 L435.09,120.31 L435.75,120.31 L436.42,120.31 L437.08,120.31 L437.75,120.31 L438.41,120.31 L439.08,120.31 L439.74,120.31 L440.41,120.31 L441.07,120.31 L441.74,120.31 L442.41,120.31 L443.07,120.31 L443.74,120.31 L444.40,120.31 L445.07,120.31 L445.73,120.31 L446.40,120.31 L447.06,120.31 L447.73,120.31 L448.39,120.31 L449.06,120.31 L449.73,120.31 L450.39,120.31 L451.06,120.31 L451.72,120.31 L452.39,120.31 L453.05,120.31 L453.72,120.31 L454.38,120.31 L455.05,120.31 L455.72,120.31 L456.38,120.31 L457.05,120.31 L457.71,120.31 L458.38,120.31 L459.04,120.31 L459.71,120.31 L460.37,120.31 L461.04,120.31 L461.71,120.31 L462.37,120.31 L463.04,120.31 L463.70,120.31 L464.37,120.31 L465.03,120.31 L465.70,120.31 L466.36,120.31 L467.03,120.31 L467.69,120.31 L468.36,120.31 L469.03,120.31 L469.69,120.31 L470.36,120.31 L471.02,120.31 L471.69,120.31 L472.35,120.31 L473.02,120.31 L473.68,120.31 L474.35,120.31 L475.01,120.31 L475.68,120.31 L476.35,120.31 L477.01,120.31 L477.68,120.31 L478.34,120.31 L479.01,120.31 L479.67,120.31 L480.34,120.31 L481.00,120.31 L481.67,120.31 L482.34,120.31 L483.00,120.31 L483.67,120.31 L484.33,120.31 L485.00,120.31 L485.66,120.31 L486.33,120.31 L486.99,120.31 L487.66,120.31 L488.33,120.31 L488.99,120.31 L489.66,120.31 L490.32,120.31 L490.99,120.31 L491.65,120.31 L492.32,120.31 L492.98,120.31 L493.65,120.31 L494.31,120.31 L494.98,120.31 L495.65,120.31 L496.31,120.31 L496.98,120.31 L497.64,120.31 L498.31,120.31 L498.97,120.31 L499.64,120.31 L500.30,120.31 L500.97,120.31 L501.63,120.31 L502.30,120.31 L502.97,120.31 L503.63,120.31 L504.30,120.31 L504.96,120.31 L505.63,120.31 L506.29,120.31 L506.96,120.31 L507.62,120.31 L508.29,120.31 L508.96,120.31 L509.62,120.31 L510.29,120.31 L510.95,120.31 L511.62,120.31 L512.28,120.31 L512.95,120.31 L513.61,120.31 L514.28,120.31 L514.95,120.31 L515.61,120.31 L516.28,120.31 L516.94,120.31 L517.61,120.31 L518.27,120.31 L518.94,120.31 L519.60,120.31 L520.27,120.31 L520.93,120.31 L521.60,120.31" stroke="#ff0000" stroke-width="1.85" stroke-dasharray="10.5 10.5 3.6 10.7" stroke-dashoffset="0"/>
<path d="M388.50,139.46 L389.17,139.46 L389.83,139.46 L390.50,139.46 L391.16,139.46 L391.83,139.46 L392.49,139.46 L393.16,139.46 L393.82,139.46 L394.49,139.46 L395.15,139.46 L395.82,139.46 L396.49,139.46 L397.15,139.46 L397.82,139.46 L398.48,139.46 L399.15,139.46 L399.81,139.46 L400.48,139.46 L401.14,139.46 L401.81,139.46 L402.48,139.46 L403.14,139.46 L403.81,139.46 L404.47,139.46 L405.14,139.46 L405.80,139.46 L406.47,139.46 L407.13,139.46 L407.80,139.46 L408.47,139.46 L409.13,139.46 L409.80,139.46 L410.46,139.46 L411.13,139.46 L411.79,139.46 L412.46,139.46 L413.12,139.46 L413.79,139.46 L414.45,139.46 L415.12,139.46 L415.79,139.46 L416.45,139.46 L417.12,139.46 L417.78,139.46 L418.45,139.46 L419.11,139.46 L419.78,139.46 L420.44,139.46 L421.11,139.46 L421.77,139.46 L422.44,139.46 L423.11,139.46 L423.77,139.46 L424.44,139.46 L425.10,139.46 L425.77,139.46 L426.43,139.46 L427.10,139.46 L427.76,139.46 L428.43,139.46 L429.10,139.46 L429.76,139.46 L430.43,139.46 L431.09,139.46 L431.76,139.46 L432.42,139.46 L433.09,139.46 L433.75,139.46 L434.42,139.46 L435.09,139.46 L435.75,139.46 L436.42,139.46 L437.08,139.46 L437.75,139.46 L438.41,139.46 L439.08,139.46 L439.74,139.46 L440.41,139.46 L441.07,139.46 L441.74,139.46 L442.41,139.46 L443.07,139.46 L443.74,139.46 L444.40,139.46 L445.07,139.46 L445.73,139.46 L446.40,139.46 L447.06,139.46 L447.73,139.46 L448.39,139.46 L449.06,139.46 L449.73,139.46 L450.39,139.46 L451.06,139.46 L451.72,139.46 L452.39,139.46 L453.05,139.46 L453.72,139.46 L454.38,139.46 L455.05,139.46 L455.72,139.46 L456.38,139.46 L457.05,139.46 L457.71,139.46 L458.38,139.46 L459.04,139.46 L459.71,139.46 L460.37,139.46 L461.04,139.46 L461.71,139.46 L462.37,139.46 L463.04,139.46 L463.70,139.46 L464.37,139.46 L465.03,139.46 L465.70,139.46 L466.36,139.46 L467.03,139.46 L467.69,139.46 L468.36,139.46 L469.03,139.46 L469.69,139.46 L470.36,139.46 L471.02,139.46 L471.69,139.46 L472.35,139.46 L473.02,139.46 L473.68,139.46 L474.35,139.46 L475.01,139.46 L475.68,139.46 L476.35,139.46 L477.01,139.46 L477.68,139.46 L478.34,139.46 L479.01,139.46 L479.67,139.46 L480.34,139.46 L481.00,139.46 L481.67,139.46 L482.34,139.46 L483.00,139.46 L483.67,139.46 L484.33,139.46 L485.00,139.46 L485.66,139.46 L486.33,139.46 L486.99,139.46 L487.66,139.46 L488.33,139.46 L488.99,139.46 L489.66,139.46 L490.32,139.46 L490.99,139.46 L491.65,139.46 L492.32,139.46 L492.98,139.46 L493.65,139.46 L494.31,139.46 L494.98,139.46 L495.65,139.46 L496.31,139.46 L496.98,139.46 L497.64,139.46 L498.31,139.46 L498.97,139.46 L499.64,139.46 L500.30,139.46 L500.97,139.46 L501.63,139.46 L502.30,139.46 L502.97,139.46 L503.63,139.46 L504.30,139.46 L504.96,139.46 L505.63,139.46 L506.29,139.46 L506.96,139.46 L507.62,139.46 L508.29,139.46 L508.96,139.46 L509.62,139.46 L510.29,139.46 L510.95,139.46 L511.62,139.46 L512.28,139.46 L512.95,139.46 L513.61,139.46 L514.28,139.46 L514.95,139.46 L515.61,139.46 L516.28,139.46 L516.94,139.46 L517.61,139.46 L518.27,139.46 L518.94,139.46 L519.60,139.46 L520.27,139.46 L520.93,139.46 L521.60,139.46" stroke="#0000ff" stroke-width="1.85" stroke-dasharray="21.2 7 3.6 7 3.6 7" stroke-dashoffset="38.8"/>
<path d="M388.50,142.97 L389.17,142.97 L389.83,142.97 L390.50,142.97 L391.16,142.97 L391.83,142.97 L392.49,142.97 L393.16,142.97 L393.82,142.97 L394.49,142.97 L395.15,142.97 L395.82,142.97 L396.49,142.97 L397.15,142.97 L397.82,142.97 L398.48,142.97 L399.15,142.97 L399.81,142.97 L400.48,142.97 L401.14,142.97 L401.81,142.97 L402.48,142.97 L403.14,142.97 L403.81,142.97 L404.47,142.97 L405.14,142.97 L405.80,142.97 L406.47,142.97 L407.13,142.97 L407.80,142.97 L408.47,142.97 L409.13,142.97 L409.80,142.97 L410.46,142.97 L411.13,142.97 L411.79,142.97 L412.46,142.97 L413.12,142.97 L413.79,142.97 L414.45,142.97 L415.12,142.97 L415.79,142.97 L416.45,142.97 L417.12,142.97 L417.78,142.97 L418.45,142.97 L419.11,142.97 L419.78,142.97 L420.44,142.97 L421.11,142.97 L421.77,142.97 L422.44,142.97 L423.11,142.97 L423.77,142.97 L424.44,142.97 L425.10,142.97 L425.77,142.97 L426.43,142.97 L427.10,142.97 L427.76,142.97 L428.43,142.97 L429.10,142.97 L429.76,142.97 L430.43,142.97 L431.09,142.97 L431.76,142.97 L432.42,142.97 L433.09,142.97 L433.75,142.97 L434.42,142.97 L435.09,142.97 L435.75,142.97 L436.42,142.97 L437.08,142.97 L437.75,142.97 L438.41,142.97 L439.08,142.97 L439.74,142.97 L440.41,142.97 L441.07,142.97 L441.74,142.97 L442.41,142.97 L443.07,142.97 L443.74,142.97 L444.40,142.97 L445.07,142.97 L445.73,142.97 L446.40,142.97 L447.06,142.97 L447.73,142.97 L448.39,142.97 L449.06,142.97 L449.73,142.97 L450.39,142.97 L451.06,142.97 L451.72,142.97 L452.39,142.97 L453.05,142.97 L453.72,142.97 L454.38,142.97 L455.05,142.97 L455.72,142.97 L456.38,142.97 L457.05,142.97 L457.71,142.97 L458.38,142.97 L459.04,142.97 L459.71,142.97 L460.37,142.97 L461.04,142.97 L461.71,142.97 L462.37,142.97 L463.04,142.97 L463.70,142.97 L464.37,142.97 L465.03,142.97 L465.70,142.97 L466.36,142.97 L467.03,142.97 L467.69,142.97 L468.36,142.97 L469.03,142.97 L469.69,142.97 L470.36,142.97 L471.02,142.97 L471.69,142.97 L472.35,142.97 L473.02,142.97 L473.68,142.97 L474.35,142.97 L475.01,142.97 L475.68,142.97 L476.35,142.97 L477.01,142.97 L477.68,142.97 L478.34,142.97 L479.01,142.97 L479.67,142.97 L480.34,142.97 L481.00,142.97 L481.67,142.97 L482.34,142.97 L483.00,142.97 L483.67,142.97 L484.33,142.97 L485.00,142.97 L485.66,142.97 L486.33,142.97 L486.99,142.97 L487.66,142.97 L488.33,142.97 L488.99,142.97 L489.66,142.97 L490.32,142.97 L490.99,142.97 L491.65,142.97 L492.32,142.97 L492.98,142.97 L493.65,142.97 L494.31,142.97 L494.98,142.97 L495.65,142.97 L496.31,142.97 L496.98,142.97 L497.64,142.97 L498.31,142.97 L498.97,142.97 L499.64,142.97 L500.30,142.97 L500.97,142.97 L501.63,142.97 L502.30,142.97 L502.97,142.97 L503.63,142.97 L504.30,142.97 L504.96,142.97 L505.63,142.97 L506.29,142.97 L506.96,142.97 L507.62,142.97 L508.29,142.97 L508.96,142.97 L509.62,142.97 L510.29,142.97 L510.95,142.97 L511.62,142.97 L512.28,142.97 L512.95,142.97 L513.61,142.97 L514.28,142.97 L514.95,142.97 L515.61,142.97 L516.28,142.97 L516.94,142.97 L517.61,142.97 L518.27,142.97 L518.94,142.97 L519.60,142.97 L520.27,142.97 L520.93,142.97 L521.60,142.97" stroke="#000000" stroke-width="1.85"/>
</g>
<path d="M388.5,22.4 V149.6 H521.6 V22.4" fill="none" stroke="#000" stroke-width="1.3"/>
<path d="M387.85,23.0 H522.25" fill="none" stroke="#000" stroke-width="1.0"/>
<text transform="translate(388.50,168.00) scale(0.98,1)" font-size="19.1" text-anchor="middle" >0.0</text>
<text transform="translate(455.05,168.00) scale(0.98,1)" font-size="19.1" text-anchor="middle" >0.5</text>
<text transform="translate(521.60,168.00) scale(0.98,1)" font-size="19.1" text-anchor="middle" >1.0</text>
<text transform="translate(381.30,156.35) scale(0.98,1)" font-size="19.1" text-anchor="end" >0.15</text>
<text transform="translate(381.30,119.09) scale(0.98,1)" font-size="19.1" text-anchor="end" >0.155</text>
<text transform="translate(381.30,81.82) scale(0.98,1)" font-size="19.1" text-anchor="end" >0.16</text>
<text transform="translate(381.30,44.56) scale(0.98,1)" font-size="19.1" text-anchor="end" >0.165</text>
<path d="M473.7,203.20 H525.8" stroke="#ffa500" stroke-width="1.85" fill="none" stroke-dasharray="7.2 10.3" stroke-dashoffset="0"/>
<text transform="translate(461.00,209.50) scale(0.96,1)" font-size="20.0" text-anchor="end" >Q=1</text>
<path d="M473.7,222.80 H525.8" stroke="#c8c800" stroke-width="1.85" fill="none" stroke-dasharray="3.6 5.2" stroke-dashoffset="0"/>
<text transform="translate(461.00,229.10) scale(0.96,1)" font-size="20.0" text-anchor="end" >Q=2</text>
<path d="M473.7,242.40 H525.8" stroke="#a52a2a" stroke-width="1.85" fill="none" stroke-dasharray="14.3 6.8" stroke-dashoffset="0"/>
<text transform="translate(461.00,248.70) scale(0.96,1)" font-size="20.0" text-anchor="end" >Q=6</text>
<path d="M473.7,262.00 H525.8" stroke="#006400" stroke-width="1.85" fill="none" stroke-dasharray="21.2 7.1 3.6 7.0" stroke-dashoffset="0"/>
<text transform="translate(461.00,268.30) scale(0.96,1)" font-size="20.0" text-anchor="end" >Q=56</text>
<path d="M473.7,281.60 H525.8" stroke="#ff0000" stroke-width="1.85" fill="none" stroke-dasharray="10.5 10.5 3.6 10.7" stroke-dashoffset="0"/>
<text transform="translate(461.00,287.90) scale(0.96,1)" font-size="20.0" text-anchor="end" >Q=100</text>
<path d="M473.7,301.20 H525.8" stroke="#0000ff" stroke-width="1.85" fill="none" stroke-dasharray="21.2 7 3.6 7 3.6 7" stroke-dashoffset="38.8"/>
<text transform="translate(461.00,307.50) scale(0.96,1)" font-size="20.0" text-anchor="end" >Q=208</text>
<path d="M473.7,320.80 H525.8" stroke="#000000" stroke-width="1.85" fill="none"/>
<text transform="translate(461.00,327.10) scale(0.96,1)" font-size="20.0" text-anchor="end" >Q=240</text>
</svg></div></body></html>
